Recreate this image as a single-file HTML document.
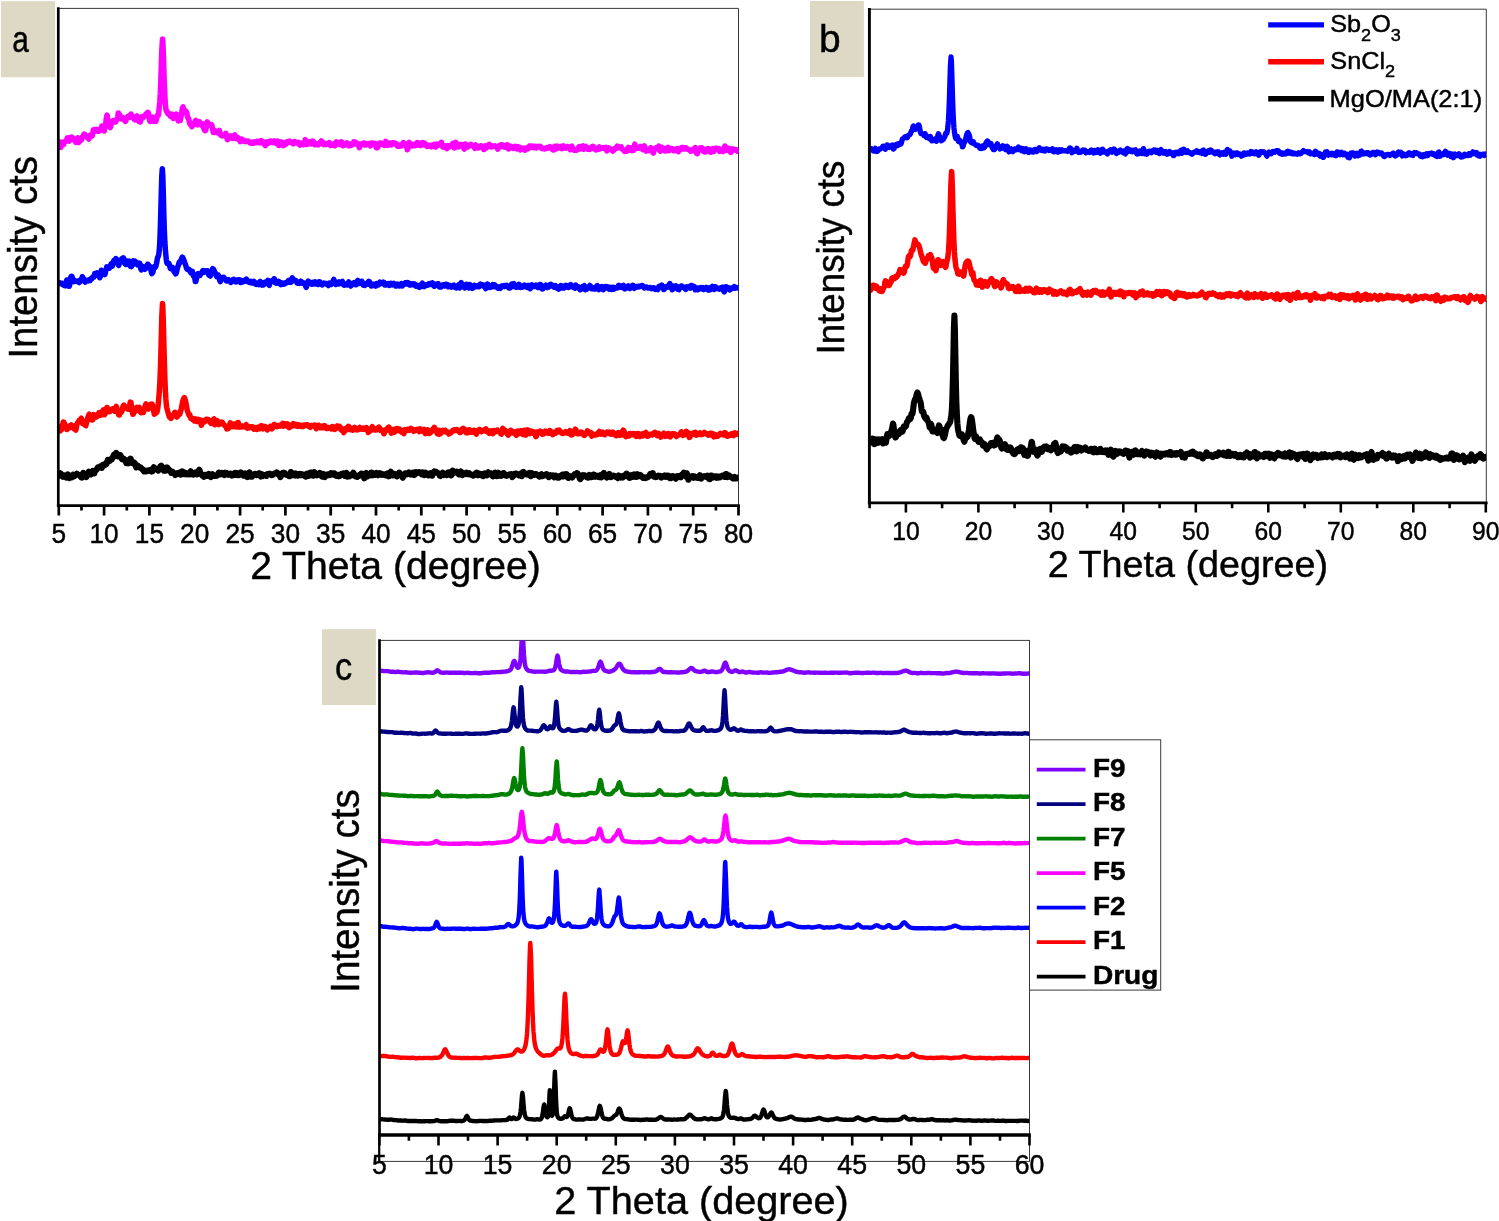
<!DOCTYPE html>
<html lang="en"><head><meta charset="utf-8"><title>XRD patterns</title>
<style>html,body{margin:0;padding:0;background:#fff;}body{width:1499px;height:1221px;overflow:hidden;font-family:"Liberation Sans", Arial, Helvetica, sans-serif;}svg{display:block;}text{stroke:#000;stroke-width:0.45px;}</style></head>
<body>
<svg width="1499" height="1221" viewBox="0 0 1499 1221" font-family="'Liberation Sans', Arial, Helvetica, sans-serif" fill="#000" ><defs><clipPath id="ca"><rect x="58.3" y="8.4" width="680.2" height="497.2"/></clipPath><clipPath id="cb"><rect x="869.4" y="9.2" width="616.9" height="493.6"/></clipPath><clipPath id="cc"><rect x="379.5" y="640.4" width="650.0" height="494.6"/></clipPath></defs>
<path d="M58.3 8.4 H738.5 V505.6" fill="none" stroke="#3a3a3a" stroke-width="1"/>
<polyline points="58.3,141.8 58.8,141.4 59.3,142.9 59.8,146.0 60.3,147.4 60.8,147.3 61.3,145.0 61.8,143.0 62.3,142.3 62.8,143.0 63.3,144.9 63.8,144.0 64.3,141.7 64.8,141.8 65.3,141.8 65.8,140.8 66.3,141.0 66.8,139.6 67.3,137.9 67.8,137.7 68.3,138.6 68.8,140.5 69.3,141.0 69.8,139.8 70.3,138.8 70.8,138.1 71.3,137.1 71.8,137.1 72.3,137.5 72.8,138.9 73.3,139.6 73.8,139.0 74.3,138.9 74.8,139.9 75.3,141.4 75.8,142.3 76.3,142.5 76.8,141.6 77.3,139.3 77.8,137.9 78.3,139.9 78.8,142.6 79.3,140.7 79.8,138.7 80.3,139.1 80.8,139.8 81.3,140.1 81.8,139.2 82.3,137.0 82.8,136.2 83.3,136.0 83.8,134.5 84.3,134.0 84.8,134.3 85.3,135.6 85.8,136.3 86.3,136.5 86.8,137.2 87.3,137.0 87.8,137.2 88.3,138.6 88.8,139.1 89.3,137.3 89.8,135.2 90.3,135.8 90.8,136.6 91.3,136.0 91.8,135.6 92.3,135.7 92.8,133.0 93.3,130.0 93.8,129.6 94.3,130.3 94.8,131.0 95.3,131.0 95.8,130.0 96.3,129.4 96.8,130.6 97.3,131.0 97.8,130.3 98.3,130.4 98.8,131.2 99.3,130.4 99.8,129.5 100.3,129.7 100.8,129.6 101.3,128.3 101.8,126.0 102.3,127.6 102.8,128.6 103.3,128.9 103.8,130.9 104.3,131.0 104.8,127.8 105.3,125.8 105.8,123.0 106.3,118.6 107.0,115.1 107.3,115.9 107.8,119.6 108.3,122.9 108.8,124.8 109.3,126.1 109.8,127.0 110.3,127.5 110.8,126.2 111.3,123.3 111.8,121.6 112.3,121.6 112.8,120.8 113.3,120.6 113.8,120.9 114.3,120.6 114.8,121.1 115.3,122.1 115.8,122.1 116.3,120.8 116.8,119.4 117.3,119.0 117.8,116.5 118.3,113.0 118.6,113.0 119.3,114.6 119.8,115.0 120.3,115.9 120.8,117.4 121.3,118.9 121.8,118.0 122.3,117.4 122.8,118.3 123.3,119.0 123.8,119.5 124.3,119.7 124.8,120.3 125.3,121.5 125.8,120.9 126.3,119.0 126.8,117.5 127.3,117.4 127.8,116.4 128.3,116.9 128.8,117.4 129.3,117.1 129.8,117.4 130.3,115.4 131.0,114.0 131.3,115.2 131.8,116.9 132.3,117.1 132.8,116.5 133.3,116.9 133.8,118.0 134.3,119.4 134.8,119.8 135.3,118.8 135.8,117.9 136.3,117.0 137.0,115.8 137.3,116.7 137.8,119.0 138.3,120.6 138.8,121.4 139.3,121.6 139.8,121.7 140.3,121.9 140.8,120.4 141.3,117.5 141.8,116.6 142.3,117.4 142.8,117.9 143.3,117.2 143.8,116.4 144.3,116.4 145.0,115.8 145.3,114.9 145.8,114.1 146.3,114.2 146.8,113.9 147.3,113.0 147.8,112.3 148.3,112.8 148.8,115.4 149.3,119.1 149.8,121.1 150.3,121.4 150.8,119.2 151.3,118.8 152.0,118.6 152.3,117.0 152.8,117.4 153.3,119.9 153.8,121.1 154.3,120.2 154.8,119.1 155.3,119.8 155.8,121.3 156.3,120.2 156.8,117.4 157.3,115.3 157.8,115.1 158.3,115.2 158.8,112.2 159.3,107.1 159.8,101.5 160.3,93.7 160.8,81.4 161.3,65.4 161.8,49.9 162.5,39.0 162.8,41.0 163.3,52.1 163.8,67.7 164.3,82.7 164.8,94.6 165.3,103.1 165.8,108.5 166.3,110.9 166.8,110.9 167.3,112.1 167.8,113.7 168.3,113.6 168.8,113.9 169.3,113.8 169.8,114.4 170.3,116.2 171.0,116.6 171.3,115.4 171.8,114.1 172.3,115.1 172.8,117.0 173.3,118.5 173.8,117.7 174.3,114.9 174.8,114.6 175.3,115.2 175.8,114.9 176.3,114.1 176.8,114.5 177.3,116.6 177.8,119.3 178.3,120.9 178.8,120.4 179.3,120.1 179.8,120.5 180.3,120.5 180.8,117.7 181.3,115.2 181.8,112.6 182.3,108.4 183.0,106.8 183.3,108.5 183.8,110.6 184.3,112.5 184.8,111.8 185.3,110.7 185.8,111.0 186.3,111.8 186.8,112.8 187.3,115.9 187.8,117.9 188.3,117.9 188.8,119.2 189.3,121.7 189.8,124.0 190.3,124.4 190.8,124.4 191.3,125.2 191.8,126.7 192.3,126.1 192.8,124.4 193.3,124.7 193.8,124.5 194.3,122.9 195.0,121.9 195.3,121.1 195.8,120.4 196.3,122.2 196.8,124.5 197.3,124.9 197.8,123.8 198.3,122.6 198.8,121.5 199.3,121.5 199.8,123.1 200.3,123.7 200.8,124.1 201.3,125.1 201.8,124.4 202.3,123.6 202.8,124.3 203.3,126.4 203.8,128.6 204.3,129.7 204.8,130.4 205.3,130.7 205.8,130.0 206.3,127.3 206.8,123.7 207.3,121.8 208.0,123.4 208.3,125.1 208.8,124.8 209.3,124.4 209.8,124.5 210.3,124.7 210.8,124.7 211.3,124.5 211.8,125.2 212.3,127.0 212.8,130.0 213.3,132.4 213.8,132.4 214.3,130.8 214.8,130.6 215.3,131.3 215.8,131.1 216.3,131.5 216.8,132.8 217.3,132.9 217.8,132.3 218.3,132.3 218.8,131.4 219.3,130.5 219.8,131.9 220.3,134.2 220.8,135.3 221.3,135.4 221.8,135.5 222.3,135.9 222.8,135.9 223.3,135.4 223.8,135.1 224.3,135.3 224.8,135.0 225.3,134.5 225.8,133.3 226.3,134.6 226.8,137.5 227.3,139.6 227.8,139.7 228.3,138.8 228.8,138.7 229.3,138.3 229.8,137.5 230.3,136.8 230.8,135.8 231.3,136.7 231.8,138.2 232.3,138.5 232.8,138.1 233.3,137.1 233.8,136.4 234.3,135.4 234.8,134.9 235.3,136.3 235.8,138.3 236.3,138.6 236.8,138.1 237.3,137.2 237.8,137.9 238.3,139.4 238.8,139.7 239.3,138.9 239.8,139.2 240.3,141.6 240.8,140.9 241.3,139.0 241.8,138.9 242.3,139.4 242.8,140.0 243.3,140.1 243.8,140.9 244.3,141.3 244.8,141.2 245.3,141.6 245.8,141.3 246.3,140.9 246.8,141.0 247.3,141.2 247.8,141.2 248.3,141.1 248.8,141.5 249.3,142.4 249.8,142.6 250.3,143.1 250.8,143.2 251.3,142.7 251.8,142.5 252.3,142.0 252.8,142.2 253.3,143.2 253.8,143.2 254.3,142.2 254.8,141.8 255.3,142.5 255.8,142.7 256.3,142.1 256.8,141.8 257.3,141.3 257.8,141.2 258.3,142.8 258.8,142.4 259.3,141.3 259.8,142.6 260.3,142.8 260.8,141.3 261.3,140.7 261.8,141.2 262.3,141.7 262.8,142.9 263.3,143.1 263.8,142.0 264.3,142.9 264.8,145.2 265.3,145.6 265.8,144.1 266.3,142.8 266.8,142.5 267.3,141.7 267.8,141.9 268.3,143.2 268.8,143.2 269.3,142.3 269.8,141.2 270.3,140.9 270.8,141.0 271.3,141.3 271.8,142.3 272.3,142.4 272.8,142.3 273.3,142.7 273.8,141.9 274.3,140.9 274.8,141.5 275.3,142.5 275.8,142.8 276.3,143.1 276.8,143.7 277.3,142.7 277.8,141.1 278.3,142.4 278.8,145.6 279.3,145.2 279.8,143.5 280.3,143.9 280.8,142.9 281.3,141.9 281.8,142.2 282.3,143.5 282.8,145.1 283.3,145.7 283.8,145.4 284.3,144.4 284.8,143.5 285.3,142.6 285.8,143.0 286.3,144.0 286.8,142.5 287.3,141.6 287.8,142.5 288.3,142.5 288.8,142.6 289.3,142.1 289.8,141.2 290.3,141.8 290.8,142.3 291.3,142.1 291.8,142.8 292.3,143.1 292.8,143.4 293.3,143.9 293.8,143.1 294.3,141.6 294.8,141.6 295.3,142.7 295.8,142.7 296.3,142.4 296.8,142.6 297.3,143.1 297.8,142.7 298.3,142.4 298.8,143.2 299.3,144.6 299.8,145.1 300.3,143.7 300.8,143.3 301.3,143.0 301.8,143.3 302.3,144.0 302.8,144.4 303.3,144.7 303.8,144.0 304.3,142.8 304.8,141.2 305.3,139.6 305.8,141.0 306.3,143.4 306.8,144.4 307.3,144.2 307.8,143.8 308.3,143.9 308.8,143.8 309.3,142.1 309.8,141.9 310.3,142.3 310.8,143.5 311.3,143.8 311.8,142.4 312.3,141.1 312.8,141.1 313.3,141.4 313.8,142.2 314.3,144.1 314.8,144.8 315.3,144.8 315.8,144.2 316.3,144.2 316.8,144.1 317.3,143.7 317.8,144.0 318.3,144.8 318.8,144.3 319.3,143.9 319.8,143.7 320.3,142.8 320.8,141.5 321.3,140.9 321.8,141.7 322.3,142.1 322.8,143.0 323.3,144.3 323.8,144.6 324.3,143.8 324.8,143.4 325.3,144.0 325.8,144.6 326.3,144.5 326.8,143.6 327.3,143.5 327.8,143.7 328.3,143.8 328.8,142.8 329.3,142.6 329.8,144.3 330.3,145.4 330.8,144.8 331.3,143.9 331.8,144.5 332.3,145.2 332.8,144.6 333.3,144.1 333.8,144.4 334.3,145.2 334.8,145.8 335.3,144.9 335.8,142.7 336.3,141.8 336.8,142.6 337.3,142.5 337.8,142.4 338.3,143.1 338.8,144.1 339.3,143.4 339.8,143.5 340.3,144.5 340.8,143.8 341.3,141.8 341.8,141.9 342.3,144.2 342.8,145.8 343.3,145.6 343.8,144.7 344.3,144.5 344.8,145.0 345.3,144.4 345.8,144.3 346.3,143.5 346.8,142.9 347.3,143.1 347.8,143.4 348.3,144.4 348.8,145.7 349.3,145.8 349.8,145.1 350.3,144.8 350.8,145.5 351.3,145.4 351.8,143.8 352.3,144.0 352.8,144.5 353.3,143.6 353.8,141.9 354.3,142.4 354.8,142.7 355.3,142.2 355.8,142.9 356.3,143.6 356.8,144.2 357.3,144.2 357.8,143.5 358.3,144.0 358.8,146.0 359.3,147.7 359.8,146.5 360.3,145.1 360.8,145.3 361.3,144.6 361.8,143.7 362.3,143.8 362.8,144.3 363.3,143.7 363.8,142.8 364.3,143.9 364.8,145.0 365.3,144.9 365.8,145.0 366.3,144.2 366.8,143.7 367.3,144.3 367.8,143.7 368.3,143.6 368.8,144.4 369.3,144.9 369.8,145.5 370.3,145.8 370.8,144.4 371.3,143.0 371.8,143.1 372.3,143.2 372.8,143.1 373.3,143.5 373.8,144.7 374.3,145.0 374.8,143.3 375.3,143.5 375.8,146.0 376.3,147.8 376.8,147.9 377.3,147.5 377.8,147.1 378.3,146.2 378.8,144.9 379.3,143.8 379.8,142.9 380.3,142.9 380.8,143.4 381.3,143.4 381.8,143.0 382.3,143.3 382.8,144.5 383.3,144.8 383.8,145.2 384.3,145.1 384.8,145.4 385.3,143.8 385.8,141.4 386.3,141.9 386.8,143.6 387.3,145.3 387.8,145.4 388.3,144.9 388.8,144.4 389.3,144.0 389.8,143.8 390.3,143.1 390.8,143.8 391.3,144.9 391.8,143.7 392.3,142.8 392.8,144.0 393.3,143.9 393.8,142.9 394.3,143.4 394.8,143.6 395.3,143.2 395.8,143.6 396.3,143.6 396.8,144.7 397.3,145.9 397.8,146.3 398.3,146.3 398.8,146.2 399.3,145.7 399.8,145.3 400.3,145.4 400.8,145.8 401.3,146.1 401.8,145.5 402.3,144.4 402.8,143.2 403.3,142.7 403.8,144.0 404.3,144.4 404.8,143.5 405.3,144.4 405.8,144.7 406.3,144.9 406.8,147.2 407.3,149.7 407.8,148.8 408.3,146.2 408.8,143.9 409.3,142.3 409.8,144.0 410.3,144.9 410.8,143.9 411.3,144.8 411.8,145.9 412.3,145.2 412.8,144.3 413.3,145.5 413.8,145.7 414.3,144.8 414.8,144.3 415.3,144.9 415.8,145.5 416.3,144.2 416.8,142.6 417.3,142.5 417.8,142.9 418.3,144.6 418.8,145.0 419.3,143.7 419.8,143.7 420.3,144.9 420.8,145.5 421.3,144.6 421.8,142.7 422.3,142.6 422.8,144.2 423.3,144.7 423.8,143.4 424.3,143.0 424.8,143.4 425.3,144.1 425.8,144.7 426.3,145.4 426.8,146.2 427.3,146.4 427.8,145.7 428.3,145.3 428.8,145.4 429.3,145.2 429.8,145.4 430.3,145.5 430.8,145.4 431.3,146.8 431.8,146.7 432.3,145.3 432.8,145.4 433.3,145.3 433.8,144.7 434.3,144.2 434.8,144.2 435.3,146.1 435.8,147.1 436.3,145.8 436.8,144.3 437.3,144.1 437.8,144.9 438.3,145.1 438.8,144.6 439.3,144.5 439.8,144.2 440.3,144.0 440.8,143.0 441.3,142.3 441.8,143.9 442.3,146.2 442.8,147.0 443.3,147.2 443.8,146.9 444.3,146.3 444.8,145.9 445.3,146.4 445.8,146.5 446.3,147.8 446.8,148.6 447.3,147.1 447.8,145.6 448.3,145.7 448.8,146.1 449.3,147.0 449.8,146.8 450.3,145.9 450.8,145.3 451.3,145.3 451.8,145.4 452.3,144.7 452.8,143.3 453.3,143.8 453.8,146.7 454.3,147.9 454.8,146.9 455.3,144.8 455.8,142.4 456.3,142.8 456.8,144.2 457.3,144.3 457.8,145.3 458.3,146.8 458.8,146.6 459.3,145.8 459.8,145.4 460.3,144.9 460.8,144.6 461.3,144.4 461.8,144.5 462.3,145.6 462.8,147.0 463.3,147.4 463.8,148.5 464.3,149.0 464.8,146.8 465.3,144.0 465.8,144.4 466.3,146.2 466.8,146.5 467.3,146.3 467.8,147.0 468.3,146.3 468.8,146.1 469.3,145.8 469.8,145.2 470.3,144.6 470.8,144.3 471.3,144.8 471.8,145.6 472.3,145.5 472.8,145.6 473.3,146.1 473.8,147.0 474.3,147.6 474.8,148.4 475.3,146.9 475.8,144.9 476.3,145.7 476.8,146.9 477.3,147.3 477.8,147.6 478.3,148.0 478.8,147.8 479.3,147.3 479.8,146.5 480.3,145.9 480.8,145.8 481.3,145.9 481.8,146.1 482.3,146.2 482.8,146.5 483.3,148.1 483.8,149.5 484.3,149.1 484.8,147.0 485.3,145.8 485.8,147.0 486.3,148.0 486.8,147.5 487.3,146.4 487.8,146.2 488.3,146.0 488.8,144.7 489.3,144.3 489.8,144.9 490.3,145.8 490.8,146.7 491.3,147.0 491.8,146.3 492.3,145.9 492.8,146.2 493.3,146.3 493.8,146.3 494.3,146.2 494.8,145.8 495.3,146.4 495.8,147.0 496.3,146.9 496.8,147.3 497.3,148.2 497.8,149.1 498.3,147.6 498.8,145.6 499.3,145.5 499.8,146.2 500.3,146.6 500.8,145.5 501.3,144.8 501.8,145.2 502.3,144.9 502.8,145.1 503.3,146.2 503.8,146.9 504.3,146.5 504.8,146.4 505.3,147.1 505.8,146.9 506.3,146.2 506.8,145.1 507.3,144.9 507.8,146.8 508.3,149.0 508.8,149.0 509.3,146.9 509.8,146.1 510.3,147.1 510.8,147.1 511.3,146.4 511.8,146.7 512.3,147.5 512.8,148.2 513.3,148.4 513.8,148.3 514.3,147.7 514.8,147.2 515.3,146.4 515.8,146.9 516.3,148.6 516.8,148.9 517.3,147.2 517.8,146.6 518.3,147.4 518.8,147.1 519.3,147.1 519.8,148.4 520.3,149.8 520.8,149.6 521.3,149.4 521.8,148.7 522.3,148.1 522.8,148.8 523.3,148.9 523.8,148.4 524.3,148.9 524.8,150.1 525.3,149.8 525.8,149.1 526.3,148.5 526.8,147.8 527.3,147.5 527.8,148.4 528.3,148.6 528.8,147.9 529.3,146.9 529.8,146.0 530.3,147.1 530.8,147.2 531.3,146.4 531.8,146.0 532.3,146.0 532.8,146.9 533.3,147.5 533.8,147.3 534.3,147.4 534.8,147.0 535.3,146.4 535.8,147.0 536.3,148.0 536.8,147.5 537.3,146.5 537.8,146.9 538.3,146.8 538.8,146.4 539.3,146.8 539.8,147.2 540.3,146.4 540.8,146.8 541.3,148.2 541.8,147.9 542.3,148.1 542.8,148.7 543.3,148.7 543.8,148.8 544.3,148.7 544.8,148.9 545.3,148.8 545.8,148.4 546.3,147.7 546.8,147.5 547.3,147.7 547.8,148.0 548.3,148.2 548.8,147.9 549.3,147.0 549.8,146.6 550.3,147.2 550.8,147.7 551.3,147.8 551.8,148.4 552.3,149.4 552.8,149.9 553.3,149.9 553.8,149.9 554.3,148.4 554.8,146.2 555.3,146.4 555.8,148.1 556.3,148.8 556.8,147.3 557.3,146.1 557.8,146.8 558.3,147.5 558.8,147.7 559.3,147.9 559.8,147.5 560.3,146.9 560.8,146.5 561.3,147.3 561.8,148.7 562.3,148.0 562.8,146.1 563.3,145.9 563.8,147.3 564.3,147.5 564.8,147.3 565.3,147.5 565.8,148.2 566.3,148.0 566.8,146.9 567.3,146.6 567.8,146.6 568.3,146.9 568.8,147.4 569.3,147.9 569.8,148.9 570.3,149.7 570.8,148.3 571.3,146.6 571.8,146.2 572.3,147.5 572.8,148.6 573.3,148.7 573.8,149.5 574.3,150.3 574.8,150.0 575.3,149.7 575.8,150.0 576.3,150.3 576.8,150.0 577.3,149.8 577.8,149.3 578.3,148.2 578.8,146.9 579.3,146.6 579.8,147.8 580.3,149.0 580.8,148.1 581.3,147.5 581.8,147.4 582.3,146.2 582.8,145.9 583.3,147.9 583.8,149.2 584.3,148.0 584.8,147.0 585.3,146.8 585.8,146.4 586.3,147.0 586.8,147.2 587.3,148.2 587.8,149.2 588.3,148.6 588.8,148.3 589.3,149.0 589.8,149.3 590.3,148.4 590.8,148.3 591.3,147.7 591.8,146.8 592.3,146.5 592.8,146.3 593.3,146.6 593.8,147.9 594.3,149.1 594.8,149.0 595.3,149.5 595.8,149.8 596.3,149.1 596.8,148.3 597.3,148.3 597.8,149.2 598.3,149.3 598.8,147.9 599.3,147.0 599.8,148.1 600.3,148.8 600.8,148.3 601.3,148.1 601.8,148.2 602.3,147.8 602.8,147.5 603.3,148.0 603.8,148.4 604.3,148.7 604.8,148.7 605.3,147.6 605.8,147.4 606.3,149.4 606.8,150.8 607.3,149.9 607.8,149.8 608.3,149.1 608.8,147.9 609.3,148.7 609.8,149.5 610.3,149.4 610.8,149.0 611.3,149.5 611.8,149.8 612.3,150.6 612.8,151.1 613.3,150.3 613.8,150.1 614.3,149.8 614.8,148.4 615.3,148.5 615.8,148.6 616.3,148.6 616.8,146.8 617.3,146.1 617.8,147.5 618.3,147.8 618.8,147.8 619.3,147.4 619.8,147.1 620.3,147.5 620.8,147.3 621.3,147.0 621.8,148.2 622.3,149.2 622.8,149.5 623.3,149.7 623.8,150.6 624.3,151.2 624.8,151.4 625.3,151.2 625.8,150.6 626.3,150.5 626.8,151.2 627.3,150.0 627.8,148.1 628.3,147.5 628.8,148.7 629.3,150.0 629.8,149.2 630.3,147.8 630.8,148.7 631.3,150.4 631.8,150.4 632.3,149.2 632.8,149.3 633.3,150.4 633.8,149.5 634.3,146.3 634.8,144.1 635.3,145.9 635.8,148.0 636.3,148.3 636.8,148.5 637.3,148.4 637.8,148.0 638.3,147.9 638.8,148.2 639.3,148.1 639.8,147.3 640.3,146.4 640.8,146.8 641.3,147.8 641.8,147.3 642.3,147.9 642.8,149.8 643.3,149.2 643.8,146.7 644.3,145.9 644.8,146.8 645.3,148.7 645.8,150.6 646.3,151.1 646.8,150.8 647.3,150.6 647.8,150.7 648.3,150.5 648.8,149.9 649.3,150.6 649.8,150.5 650.3,148.7 650.8,147.7 651.3,149.4 651.8,150.9 652.3,151.0 652.8,152.1 653.3,153.1 653.8,151.7 654.3,150.1 654.8,149.7 655.3,148.6 655.8,147.9 656.3,147.6 656.8,147.8 657.3,148.4 657.8,148.8 658.3,147.6 658.8,146.2 659.3,147.5 659.8,150.5 660.3,151.2 660.8,150.5 661.3,149.0 661.8,147.2 662.3,147.6 662.8,148.3 663.3,148.8 663.8,150.0 664.3,150.7 664.8,150.9 665.3,149.7 665.8,148.4 666.3,148.1 666.8,149.2 667.3,150.7 667.8,148.7 668.3,147.3 668.8,148.7 669.3,150.5 669.8,150.1 670.3,149.3 670.8,149.0 671.3,149.2 671.8,148.5 672.3,148.6 672.8,149.7 673.3,150.3 673.8,150.8 674.3,150.5 674.8,150.3 675.3,150.1 675.8,149.6 676.3,149.0 676.8,148.7 677.3,149.9 677.8,151.3 678.3,151.7 678.8,150.2 679.3,148.7 679.8,148.9 680.3,149.8 680.8,149.5 681.3,148.6 681.8,147.5 682.3,147.4 682.8,147.5 683.3,147.6 683.8,148.4 684.3,149.1 684.8,149.0 685.3,147.8 685.8,147.7 686.3,148.6 686.8,148.9 687.3,148.7 687.8,149.2 688.3,149.6 688.8,149.7 689.3,149.7 689.8,150.0 690.3,150.7 690.8,151.2 691.3,151.0 691.8,150.9 692.3,150.8 692.8,150.5 693.3,149.2 693.8,149.3 694.3,149.5 694.8,147.8 695.3,147.6 695.8,150.3 696.3,152.5 696.8,153.6 697.3,153.7 697.8,151.9 698.3,149.9 698.8,149.5 699.3,149.5 699.8,148.4 700.3,147.9 700.8,148.1 701.3,148.1 701.8,147.9 702.3,148.8 702.8,150.6 703.3,151.4 703.8,151.3 704.3,151.6 704.8,152.1 705.3,152.1 705.8,150.5 706.3,149.1 706.8,149.4 707.3,149.2 707.8,148.9 708.3,148.5 708.8,148.7 709.3,149.6 709.8,150.4 710.3,152.1 710.8,152.2 711.3,150.6 711.8,150.1 712.3,149.4 712.8,148.6 713.3,150.1 713.8,151.4 714.3,151.0 714.8,149.5 715.3,148.3 715.8,148.0 716.3,148.5 716.8,148.7 717.3,148.4 717.8,148.6 718.3,148.4 718.8,148.4 719.3,150.1 719.8,151.5 720.3,151.3 720.8,150.6 721.3,150.2 721.8,149.9 722.3,150.0 722.8,150.9 723.3,151.5 723.8,150.3 724.3,147.2 724.8,146.1 725.3,146.7 725.8,148.0 726.3,149.8 726.8,150.4 727.3,149.8 727.8,149.0 728.3,148.6 728.8,148.2 729.3,148.5 729.8,150.3 730.3,152.1 730.8,152.4 731.3,151.9 731.8,150.2 732.3,148.8 732.8,148.9 733.3,149.0 733.8,149.2 734.3,149.9 734.8,149.8 735.3,149.6 735.8,149.8 736.3,149.7 736.8,150.4 737.3,151.3 737.8,151.3 738.3,151.0 738.5,150.5" fill="none" stroke="#FF00FF" stroke-width="5.5" stroke-linejoin="round" stroke-linecap="butt" clip-path="url(#ca)"/>
<polyline points="58.3,282.7 58.8,282.6 59.3,282.6 59.8,282.9 60.3,283.8 60.8,283.7 61.3,283.7 61.8,283.3 62.3,283.4 62.8,284.4 63.3,283.6 63.8,284.4 64.3,285.6 64.8,285.6 65.3,285.8 65.8,284.6 66.3,282.4 66.8,280.0 67.3,280.5 67.8,283.6 68.3,285.6 68.8,286.3 69.3,286.3 69.8,284.3 70.3,280.4 70.8,277.2 71.3,276.2 71.8,276.2 72.3,277.3 72.8,279.5 73.3,281.1 73.8,281.6 74.3,281.3 74.8,280.7 75.3,280.8 75.8,281.2 76.3,281.0 76.8,281.3 77.3,281.7 77.8,281.2 78.3,280.9 78.8,281.7 79.3,282.5 79.8,281.6 80.3,280.1 80.8,279.5 81.3,280.3 81.8,279.6 82.3,276.7 82.8,277.4 83.3,279.1 83.8,279.4 84.3,279.7 84.8,281.8 85.3,282.1 85.8,281.1 86.3,280.5 86.8,280.2 87.3,280.5 87.8,280.8 88.3,280.9 88.8,280.2 89.3,279.7 89.8,280.3 90.3,280.4 90.8,279.3 91.3,278.4 91.8,278.8 92.3,277.7 92.8,276.8 93.3,277.1 93.8,277.1 94.3,275.5 94.8,273.5 95.3,274.5 95.8,274.9 96.3,273.2 96.8,272.8 97.3,273.5 97.8,274.3 98.3,274.8 98.8,275.5 99.3,276.9 99.8,277.7 100.3,276.4 100.8,272.4 101.3,270.3 101.8,271.7 102.3,273.2 102.8,274.2 103.3,273.9 103.8,273.3 104.3,273.9 104.8,274.6 105.3,272.9 105.8,270.4 106.3,268.7 106.8,266.8 107.3,267.0 107.8,268.1 108.3,267.7 108.8,267.7 109.3,268.2 109.8,267.5 110.3,266.1 110.8,264.5 111.3,263.6 111.8,264.9 112.3,266.2 112.8,264.2 113.3,262.1 113.8,260.6 114.3,260.9 114.8,261.0 115.3,259.9 115.8,258.6 116.3,259.0 116.8,260.6 117.3,260.5 117.8,261.8 118.3,264.9 118.8,265.5 119.3,263.2 119.8,261.1 120.3,260.3 120.8,260.4 121.3,259.6 121.8,258.8 122.3,259.3 122.8,259.3 123.3,257.9 123.8,258.3 124.3,261.1 124.8,263.6 125.3,264.1 125.8,264.6 126.3,264.6 126.8,262.0 127.3,261.0 127.8,262.3 128.3,262.9 128.8,261.7 129.3,261.1 129.8,264.0 130.3,266.2 130.8,266.3 131.3,266.6 131.8,266.2 132.3,264.1 132.8,261.7 133.3,260.9 133.8,261.7 134.3,261.6 134.8,261.0 135.3,261.2 135.8,262.6 136.3,263.9 136.8,263.7 137.3,263.6 137.8,264.9 138.3,264.4 138.8,263.0 139.3,263.5 139.8,263.4 140.3,265.3 140.8,268.8 141.3,269.9 141.8,268.7 142.3,267.9 142.8,267.4 143.3,266.6 143.8,267.6 144.3,268.7 144.8,269.3 145.3,268.7 145.8,268.0 146.3,268.1 146.8,267.1 147.3,265.1 147.8,264.1 148.3,264.6 148.8,266.3 149.3,267.6 149.8,267.3 150.3,267.0 150.8,269.0 151.3,272.0 151.8,273.6 152.3,273.2 152.8,272.5 153.3,270.2 153.8,267.3 154.3,266.7 154.8,267.3 155.3,267.3 155.8,266.2 156.3,264.4 156.8,262.1 157.3,258.9 157.8,257.0 158.3,256.3 158.8,254.3 159.3,249.8 159.8,241.6 160.3,229.0 160.8,211.6 161.3,192.2 161.8,175.6 162.3,168.7 162.8,176.0 163.3,193.6 163.8,213.2 164.3,229.6 164.8,241.3 165.3,248.8 165.8,254.5 166.3,259.3 166.8,262.6 167.3,263.6 167.8,263.5 168.3,263.3 168.8,263.2 169.3,264.5 169.8,266.3 170.3,268.5 170.8,268.7 171.3,267.7 171.8,267.1 172.3,267.3 172.8,268.4 173.3,269.1 173.8,270.6 174.3,272.1 174.8,272.2 175.3,272.9 175.8,273.9 176.3,272.7 176.8,270.8 177.3,268.4 177.8,266.6 178.3,265.7 178.8,263.6 179.3,262.2 179.8,262.8 180.3,262.0 180.8,260.4 181.3,259.4 181.8,258.0 182.3,257.1 182.6,257.3 183.3,258.7 183.8,260.0 184.3,261.3 184.8,262.8 185.3,264.2 185.8,265.6 186.3,267.4 186.8,268.8 187.3,269.3 187.8,268.8 188.3,269.3 188.8,269.3 189.3,269.6 189.8,270.8 190.3,271.9 190.8,272.7 191.3,273.1 191.8,272.3 192.3,271.3 192.8,273.2 193.3,275.8 193.8,275.2 194.3,274.7 194.8,278.1 195.3,281.5 195.8,281.5 196.3,279.4 196.8,277.4 197.3,275.7 197.8,273.7 198.3,273.5 198.8,274.9 199.3,275.5 199.8,275.6 200.3,274.4 200.8,273.7 201.3,273.5 201.8,273.2 202.3,271.8 202.8,270.6 203.3,270.6 203.8,271.7 204.3,272.1 204.8,271.2 205.3,271.1 205.8,270.8 206.3,270.9 206.8,272.2 207.3,272.2 207.8,270.9 208.3,273.0 208.8,275.1 209.3,275.1 209.8,275.7 210.3,276.0 210.8,274.5 211.3,272.7 211.8,271.3 212.3,269.7 212.7,268.7 213.3,269.2 213.8,269.9 214.3,271.4 214.8,272.6 215.3,273.0 215.8,273.8 216.3,275.7 216.8,276.6 217.3,276.2 217.8,275.2 218.3,275.1 218.8,275.9 219.3,277.8 219.8,280.6 220.3,281.6 220.8,280.1 221.3,278.8 221.8,277.9 222.3,277.7 222.8,278.0 223.3,277.3 223.8,277.2 224.3,278.3 224.8,279.0 225.3,279.5 225.8,280.2 226.3,280.9 226.8,281.0 227.3,280.6 227.8,279.8 228.3,279.5 228.8,279.9 229.3,280.3 229.8,280.8 230.3,281.7 230.8,282.4 231.3,281.4 231.8,280.9 232.3,281.1 232.8,280.9 233.3,279.4 233.8,279.3 234.3,281.0 234.8,281.6 235.3,280.9 235.8,280.8 236.3,281.8 236.8,281.5 237.3,280.3 237.8,279.8 238.3,280.5 238.8,281.4 239.3,280.7 239.8,279.9 240.3,280.9 240.8,282.6 241.3,282.6 241.8,281.3 242.3,280.6 242.8,281.2 243.3,281.8 243.8,281.6 244.3,281.2 244.8,281.1 245.3,280.4 245.8,279.4 246.3,279.1 246.8,279.7 247.3,280.7 247.8,281.8 248.3,282.0 248.8,282.0 249.3,282.4 249.8,282.1 250.3,282.0 250.8,281.4 251.3,281.9 251.8,283.1 252.3,283.1 252.8,282.0 253.3,281.6 253.8,281.4 254.3,282.1 254.8,282.8 255.3,283.3 255.8,284.3 256.3,284.4 256.8,283.8 257.3,283.1 257.8,283.3 258.3,284.1 258.8,284.6 259.3,284.0 259.8,282.5 260.3,281.4 260.8,282.2 261.3,284.5 261.8,285.1 262.3,284.5 262.8,284.2 263.3,284.9 263.8,284.5 264.3,283.4 264.8,282.3 265.3,282.1 265.8,283.3 266.3,283.5 266.8,282.5 267.3,281.0 267.8,280.4 268.3,281.9 268.8,284.5 269.3,285.3 269.8,283.5 270.3,281.9 270.8,280.9 271.3,281.0 271.8,281.5 272.3,281.0 272.8,280.8 273.3,280.4 274.0,278.7 274.3,278.8 274.8,281.3 275.3,282.8 275.8,283.0 276.3,283.2 276.8,283.1 277.3,282.6 277.8,281.6 278.3,281.3 278.8,281.4 279.3,282.4 279.8,283.4 280.3,284.1 280.8,284.6 281.3,283.6 281.8,282.8 282.3,283.4 282.8,284.0 283.3,284.2 283.8,284.1 284.3,284.1 284.8,283.7 285.3,282.9 285.8,283.1 286.3,282.9 286.8,282.5 287.3,282.5 287.8,282.4 288.3,280.7 288.8,280.4 289.3,281.7 289.8,282.2 290.3,281.7 290.8,282.3 291.3,282.0 291.8,279.4 292.3,277.9 292.8,279.1 293.3,279.5 294.0,279.7 294.3,280.6 294.8,280.7 295.3,280.3 295.8,280.6 296.3,281.2 296.8,282.4 297.3,283.1 297.8,283.2 298.3,282.8 298.8,283.1 299.3,283.4 299.8,283.3 300.3,282.1 300.8,281.1 301.3,281.8 301.8,282.3 302.3,283.2 302.8,283.2 303.3,282.7 303.8,283.0 304.3,283.7 304.8,283.6 305.3,284.8 305.8,286.6 306.3,287.3 306.8,285.7 307.3,283.3 307.8,281.7 308.3,281.1 308.8,281.7 309.3,283.3 309.8,283.1 310.3,282.4 310.8,283.2 311.3,283.9 311.8,284.2 312.3,283.4 312.8,282.4 313.3,283.0 313.8,283.8 314.3,283.5 314.8,282.6 315.3,281.8 315.8,282.3 316.3,283.5 316.8,284.0 317.3,283.4 317.8,283.9 318.3,284.5 318.8,283.0 319.3,281.8 319.8,281.7 320.3,282.7 320.8,284.0 321.3,284.5 321.8,284.7 322.3,284.9 322.8,284.4 323.3,283.8 323.8,283.2 324.3,283.6 324.8,283.7 325.3,283.8 325.8,283.4 326.3,283.8 326.8,284.4 327.3,284.5 327.8,284.8 328.3,285.5 328.8,284.5 329.3,283.0 329.8,283.3 330.3,284.1 330.8,284.1 331.3,284.4 331.8,282.9 332.3,281.8 332.8,282.3 333.3,280.8 333.8,279.4 334.3,280.9 334.8,282.2 335.3,283.5 335.8,284.5 336.3,284.4 336.8,283.0 337.3,282.6 337.8,284.0 338.3,284.1 338.8,283.0 339.3,281.9 339.8,282.3 340.3,283.3 340.8,283.5 341.3,283.0 341.8,281.8 342.3,281.5 342.8,282.8 343.3,284.0 343.8,285.1 344.3,285.2 344.8,284.0 345.3,283.9 345.8,284.9 346.3,284.6 346.8,284.0 347.3,284.8 347.8,284.2 348.3,282.8 348.8,282.0 349.3,282.8 349.8,284.2 350.3,285.2 350.8,286.0 351.3,285.3 351.8,283.8 352.3,283.5 352.8,283.5 353.3,283.1 353.8,282.7 354.3,282.5 354.8,282.8 355.3,283.8 355.8,284.8 356.3,284.8 356.8,283.2 357.3,281.3 357.8,280.4 358.3,282.1 358.8,283.4 359.3,283.4 359.8,283.2 360.3,282.6 360.8,282.0 361.3,281.4 361.8,281.3 362.3,282.2 362.8,284.4 363.3,285.1 363.8,284.5 364.3,284.7 364.8,285.4 365.3,284.7 365.8,283.6 366.3,283.7 366.8,284.3 367.3,284.3 367.8,283.5 368.3,281.9 368.8,281.3 369.3,281.6 369.8,282.9 370.3,283.2 370.8,283.9 371.3,286.0 371.8,285.9 372.3,284.6 372.8,284.3 373.3,284.3 373.8,285.0 374.3,285.0 374.8,284.3 375.3,285.1 375.8,286.1 376.3,285.1 376.8,283.6 377.3,284.2 377.8,285.0 378.3,285.1 378.8,284.6 379.3,282.8 379.8,282.2 380.3,283.7 380.8,283.6 381.3,283.1 381.8,283.0 382.3,283.3 382.8,282.5 383.3,282.1 384.0,282.5 384.3,284.0 384.8,285.1 385.3,285.1 385.8,285.0 386.3,284.6 386.8,284.1 387.3,283.8 387.8,283.8 388.3,283.6 388.8,284.8 389.3,285.4 389.8,285.4 390.3,284.9 390.8,283.3 391.3,283.4 391.8,284.6 392.3,284.9 392.8,284.8 393.3,283.9 393.8,283.4 394.3,284.3 394.8,284.9 395.3,285.4 395.8,286.1 396.3,286.0 396.8,284.3 397.3,284.1 397.8,284.9 398.3,284.5 398.8,284.9 399.3,286.0 399.8,286.0 400.3,285.5 400.8,284.3 401.3,283.7 401.8,285.0 402.3,285.8 402.8,285.0 403.3,284.2 403.8,284.4 404.3,284.5 404.8,283.6 405.3,282.8 405.8,282.7 406.3,283.0 406.8,282.7 407.3,283.5 407.8,284.0 408.3,282.7 408.8,283.1 409.3,284.7 409.8,285.1 410.3,285.0 410.8,283.7 411.3,283.8 411.8,284.6 412.3,284.0 412.8,283.9 413.3,284.5 413.8,284.7 414.3,283.9 414.8,284.4 415.3,285.7 415.8,286.1 416.3,285.6 416.8,285.2 417.3,285.3 417.8,286.4 418.3,286.6 418.8,286.9 419.3,287.3 419.8,286.5 420.3,286.1 420.8,286.7 421.3,286.1 421.8,283.8 422.3,283.2 422.8,284.5 423.3,285.1 423.8,285.9 424.3,286.6 424.8,285.7 425.3,285.3 425.8,285.5 426.3,284.8 426.8,284.7 427.3,285.0 427.8,285.2 428.3,284.8 428.8,283.8 429.3,283.7 429.8,283.6 430.3,283.7 430.8,284.4 431.3,284.0 431.8,283.0 432.3,282.8 432.8,283.4 433.3,284.2 433.8,285.7 434.3,286.2 434.8,285.1 435.3,284.3 435.8,284.7 436.3,285.2 436.8,284.9 437.3,284.8 437.8,283.8 438.3,283.7 438.8,286.1 439.3,286.9 439.8,286.0 440.3,285.9 440.8,286.5 441.3,286.8 441.8,285.8 442.3,285.2 442.8,284.8 443.3,284.8 443.8,285.6 444.3,285.8 444.8,286.0 445.3,285.9 445.8,284.4 446.3,284.7 446.8,284.4 447.3,284.4 447.8,285.8 448.3,286.8 448.8,286.4 449.3,285.5 449.8,286.0 450.3,285.6 450.8,286.1 451.3,287.0 451.8,286.5 452.3,286.3 452.8,286.4 453.3,285.5 453.8,285.1 454.3,286.5 454.8,287.3 455.3,287.0 455.8,287.0 456.3,287.6 456.8,288.0 457.3,287.7 457.8,286.1 458.3,285.0 458.8,286.3 459.3,287.5 459.8,287.8 460.3,286.7 460.8,283.6 461.3,282.6 461.8,285.0 462.3,286.2 462.8,285.3 463.3,285.2 463.8,286.6 464.3,287.2 464.8,287.9 465.3,287.6 465.8,286.0 466.3,284.3 466.8,284.8 467.3,284.7 467.8,284.5 468.3,286.3 468.8,287.9 469.3,285.9 469.8,284.6 470.3,285.6 470.8,285.6 471.3,286.5 471.8,288.2 472.3,288.5 472.8,288.2 473.3,287.8 473.8,286.4 474.3,285.3 474.8,285.4 475.3,285.7 475.8,285.9 476.3,286.2 476.8,286.7 477.3,286.6 477.8,285.6 478.3,285.5 478.8,286.4 479.3,286.7 479.8,285.0 480.3,284.0 480.8,284.8 481.3,284.6 481.8,284.6 482.3,285.3 482.8,285.4 483.3,285.1 483.8,286.2 484.3,286.7 484.8,287.1 485.3,287.7 485.8,288.6 486.3,287.2 486.8,285.3 487.3,284.0 487.8,284.1 488.3,285.8 488.8,285.8 489.3,286.4 489.8,287.5 490.3,287.4 490.8,286.5 491.3,286.2 491.8,286.6 492.3,285.8 492.8,284.5 493.3,285.0 493.8,286.6 494.3,286.3 494.8,284.8 495.3,285.5 495.8,286.6 496.3,287.1 496.8,286.6 497.3,286.6 497.8,287.6 498.3,288.3 498.8,288.1 499.3,287.5 499.8,287.9 500.3,288.3 500.8,287.0 501.3,286.0 501.8,286.0 502.3,286.0 502.8,286.2 503.3,285.7 503.8,286.0 504.3,286.5 504.8,285.6 505.3,285.6 505.8,286.2 506.3,285.9 506.8,285.5 507.3,286.5 507.8,286.9 508.3,287.2 508.8,287.9 509.3,288.1 509.8,288.0 510.3,287.9 510.8,286.7 511.3,284.8 511.8,284.0 512.3,284.1 512.8,284.3 513.3,284.0 513.8,283.7 514.3,285.3 514.8,286.9 515.3,287.0 515.8,286.1 516.3,286.2 516.8,287.3 517.3,286.4 517.8,285.6 518.3,285.3 518.8,284.3 519.3,284.6 519.8,286.3 520.3,287.4 520.8,287.1 521.3,287.1 521.8,287.2 522.3,286.6 522.8,286.3 523.3,286.9 523.8,286.2 524.3,285.0 524.8,285.3 525.3,286.5 525.8,286.4 526.3,286.2 526.8,287.2 527.3,287.4 527.8,286.2 528.3,285.3 528.8,286.0 529.3,286.6 529.8,287.4 530.3,288.7 530.8,287.2 531.3,285.0 531.8,284.8 532.3,286.2 532.8,286.2 533.3,285.7 533.8,285.7 534.3,286.5 534.8,286.4 535.3,285.4 535.8,285.1 536.3,285.3 536.8,286.4 537.3,287.1 537.8,287.6 538.3,287.6 538.8,286.5 539.3,284.8 539.8,284.4 540.3,284.5 540.8,284.6 541.3,286.0 541.8,287.9 542.3,288.9 542.8,288.9 543.3,288.2 543.8,287.3 544.3,286.4 544.8,285.9 545.3,285.6 545.8,285.1 546.3,285.3 546.8,286.8 547.3,287.5 547.8,286.2 548.3,285.9 548.8,287.0 549.3,286.2 549.8,284.9 550.3,284.5 550.8,284.3 551.3,285.4 551.8,285.5 552.3,285.1 552.8,285.8 553.3,286.5 553.8,287.0 554.3,286.4 554.8,285.8 555.3,285.6 555.8,286.4 556.3,287.5 556.8,288.0 557.3,287.5 557.8,287.2 558.3,288.8 558.8,289.1 559.3,287.7 559.8,287.2 560.3,286.7 560.8,285.6 561.3,286.2 561.8,287.5 562.3,287.8 562.8,287.0 563.3,286.4 563.8,287.4 564.3,288.0 564.8,287.1 565.3,285.8 565.8,285.3 566.3,286.0 566.8,286.3 567.3,285.8 567.8,286.3 568.3,287.5 568.8,287.4 569.3,286.0 569.8,285.0 570.3,285.1 570.8,284.6 571.3,285.2 571.8,286.8 572.3,286.8 572.8,285.8 573.3,286.1 573.8,286.9 574.3,287.8 574.8,288.2 575.3,286.7 575.8,285.2 576.3,286.1 576.8,286.8 577.3,286.9 577.8,286.9 578.3,286.7 578.8,287.1 579.3,288.4 579.8,289.4 580.3,289.8 580.8,289.5 581.3,288.8 581.8,287.7 582.3,286.9 582.8,287.4 583.3,287.1 583.8,286.1 584.3,285.6 584.8,287.5 585.3,289.7 585.8,289.1 586.3,288.8 586.8,289.1 587.3,288.2 587.8,287.2 588.3,287.2 588.8,287.4 589.3,286.4 589.8,285.4 590.3,286.3 590.8,288.2 591.3,288.6 591.8,288.4 592.3,288.2 592.8,287.5 593.3,287.7 593.8,288.9 594.3,288.4 594.8,288.1 595.3,288.6 595.8,288.9 596.3,287.6 596.8,285.9 597.3,285.7 597.8,287.0 598.3,289.1 598.8,289.6 599.3,288.4 599.8,287.9 600.3,288.2 600.8,287.8 601.3,286.7 601.8,286.6 602.3,288.0 602.8,289.4 603.3,289.7 603.8,289.0 604.3,288.3 604.8,287.8 605.3,286.7 605.8,287.4 606.3,287.8 606.8,286.6 607.3,286.7 607.8,288.2 608.3,288.1 608.8,288.3 609.3,289.2 609.8,288.5 610.3,287.3 610.8,287.5 611.3,288.5 611.8,289.5 612.3,289.1 612.8,287.2 613.3,287.7 613.8,289.2 614.3,288.9 614.8,288.0 615.3,287.7 615.8,288.0 616.3,287.9 616.8,288.1 617.3,287.9 617.8,286.9 618.3,285.7 618.8,285.4 619.3,285.9 619.8,286.6 620.3,287.3 620.8,287.3 621.3,286.8 621.8,286.0 622.3,285.9 622.8,285.7 623.3,285.4 623.8,286.5 624.3,288.6 624.8,288.9 625.3,288.6 625.8,287.7 626.3,287.2 626.8,288.0 627.3,287.8 627.8,286.4 628.3,285.8 628.8,286.7 629.3,288.2 629.8,288.5 630.3,287.6 630.8,286.7 631.3,286.4 631.8,286.4 632.3,285.8 632.8,285.3 633.3,285.5 633.8,287.6 634.3,288.3 634.8,287.3 635.3,287.0 635.8,287.5 636.3,287.1 636.8,286.5 637.3,286.4 637.8,286.4 638.3,286.7 638.8,287.0 639.3,286.4 639.8,286.6 640.3,286.5 640.8,286.0 641.3,286.2 641.8,285.5 642.3,285.5 642.8,286.0 643.3,286.5 643.8,287.2 644.3,287.9 644.8,287.5 645.3,287.0 645.8,287.0 646.3,286.9 646.8,286.9 647.3,287.5 647.8,288.0 648.3,288.0 648.8,287.9 649.3,287.8 649.8,287.6 650.3,287.5 650.8,288.2 651.3,288.6 651.8,288.0 652.3,288.2 652.8,288.5 653.3,288.0 653.8,287.7 654.3,288.1 654.8,288.8 655.3,289.4 655.8,289.0 656.3,288.7 656.8,288.5 657.3,289.1 657.8,289.5 658.3,288.6 658.8,286.8 659.3,286.3 659.8,286.3 660.3,286.8 660.8,286.7 661.3,285.7 661.8,285.1 662.3,285.6 662.8,286.7 663.3,288.1 663.8,289.5 664.3,289.4 664.8,287.9 665.3,287.5 665.8,287.3 666.3,286.7 666.8,286.3 667.3,287.2 667.8,287.3 668.3,286.7 668.8,286.2 669.3,284.7 669.8,283.6 670.3,284.8 670.8,286.0 671.3,286.7 671.8,288.4 672.3,289.7 672.8,288.7 673.3,287.0 673.8,286.1 674.3,286.6 674.8,287.5 675.3,287.9 675.8,286.8 676.3,286.0 676.8,287.0 677.3,288.9 677.8,289.3 678.3,289.3 678.8,289.7 679.3,287.8 679.8,286.9 680.3,287.6 680.8,287.1 681.3,286.0 681.8,285.9 682.3,286.7 682.8,287.1 683.3,286.9 683.8,286.9 684.3,287.7 684.8,287.9 685.3,289.0 685.8,289.3 686.3,287.5 686.8,287.0 687.3,287.6 687.8,287.8 688.3,287.1 688.8,286.7 689.3,287.4 689.8,288.0 690.3,288.1 690.8,286.7 691.3,285.5 691.8,285.4 692.3,286.2 692.8,287.3 693.3,287.3 693.8,286.4 694.3,286.4 694.8,287.6 695.3,289.8 695.8,289.4 696.3,288.2 696.8,288.3 697.3,289.6 697.8,289.8 698.3,288.5 698.8,288.0 699.3,288.1 699.8,288.1 700.3,287.7 700.8,288.1 701.3,288.8 701.8,288.9 702.3,287.6 702.8,287.6 703.3,288.7 703.8,289.5 704.3,289.1 704.8,288.4 705.3,288.5 705.8,288.2 706.3,287.3 706.8,287.8 707.3,288.3 707.8,289.6 708.3,290.0 708.8,288.6 709.3,287.9 709.8,288.2 710.3,288.7 710.8,289.6 711.3,289.1 711.8,287.0 712.3,286.4 712.8,287.0 713.3,287.8 713.8,289.0 714.3,289.3 714.8,287.9 715.3,286.7 715.8,287.1 716.3,288.1 716.8,288.4 717.3,288.0 717.8,288.2 718.3,288.8 718.8,288.9 719.3,289.2 719.8,289.1 720.3,287.9 720.8,287.8 721.3,287.8 721.8,287.7 722.3,287.6 722.8,287.2 723.3,288.5 723.8,291.4 724.3,291.9 724.8,290.0 725.3,287.8 725.8,286.8 726.3,286.8 726.8,287.4 727.3,288.2 727.8,288.2 728.3,287.9 728.8,289.0 729.3,289.7 729.8,289.9 730.3,289.5 730.8,288.9 731.3,288.1 731.8,288.4 732.3,288.1 732.8,287.9 733.3,288.1 733.8,287.2 734.3,286.6 734.8,288.1 735.3,288.2 735.8,287.8 736.3,287.6 736.8,287.5 737.3,287.8 737.8,288.0 738.3,287.8 738.5,287.9" fill="none" stroke="#0000FF" stroke-width="5.5" stroke-linejoin="round" stroke-linecap="butt" clip-path="url(#ca)"/>
<polyline points="58.3,424.7 58.8,425.8 59.3,427.6 59.8,430.0 60.3,430.9 60.8,430.4 61.3,429.8 61.8,428.9 62.3,427.0 62.8,423.9 63.3,422.0 63.8,422.1 64.3,423.4 64.8,424.3 65.3,425.2 65.8,425.8 66.3,427.3 66.8,429.5 67.3,429.1 67.8,427.5 68.3,427.1 68.8,428.2 69.3,427.6 69.8,425.6 70.3,425.5 70.8,425.6 71.3,425.0 71.8,426.3 72.3,427.1 72.8,425.9 73.3,427.2 73.8,428.7 74.3,427.7 74.8,428.0 75.3,429.6 75.8,430.1 76.3,428.1 76.8,424.8 77.3,423.2 77.8,422.7 78.3,422.1 78.8,421.5 79.3,420.0 79.8,419.8 80.3,420.6 80.8,419.2 81.3,418.2 81.8,419.7 82.3,421.8 82.8,423.7 83.3,423.9 83.8,422.9 84.3,422.3 84.8,423.1 85.3,425.3 85.8,425.7 86.3,423.7 86.8,422.0 87.3,420.2 87.8,417.8 88.3,416.3 88.8,415.0 89.3,414.1 89.8,415.7 90.3,418.3 90.8,419.4 91.3,418.7 91.8,418.6 92.3,420.0 92.8,419.9 93.3,416.6 93.8,414.6 94.3,415.1 94.8,416.1 95.3,416.5 95.8,417.1 96.3,417.1 96.8,416.9 97.3,415.8 97.8,415.0 98.3,414.4 98.8,412.9 99.3,413.0 99.8,414.7 100.3,415.2 100.8,413.5 101.3,412.0 101.8,413.3 102.3,413.3 102.8,411.0 103.3,409.9 103.8,412.6 104.3,414.8 104.8,414.5 105.3,413.2 105.8,410.7 106.3,408.9 106.8,407.6 107.3,407.6 107.8,409.2 108.3,410.7 108.8,411.5 109.3,411.8 109.8,411.6 110.3,411.2 110.8,410.4 111.3,409.5 111.8,409.3 112.3,408.9 112.8,409.9 113.3,409.9 113.8,408.6 114.3,409.9 114.8,411.2 115.3,409.6 115.8,407.1 116.3,406.4 116.8,407.7 117.3,409.8 117.8,411.9 118.3,413.7 118.8,415.1 119.3,415.1 119.8,413.5 120.3,412.5 120.8,412.6 121.3,412.4 121.8,411.3 122.3,409.9 122.8,407.2 123.3,405.6 123.8,405.2 124.3,406.2 124.8,407.1 125.3,407.2 125.8,406.8 126.3,407.0 126.8,408.0 127.3,408.8 127.8,408.5 128.3,409.2 128.8,409.3 129.3,407.3 129.8,404.5 130.3,402.1 131.0,402.5 131.3,405.1 131.8,407.7 132.3,411.5 132.8,414.2 133.3,414.1 133.8,412.7 134.3,411.6 134.8,410.2 135.3,410.5 135.8,411.1 136.3,408.8 136.8,407.3 137.3,408.2 137.8,409.2 138.3,409.3 138.8,408.0 139.3,407.5 139.8,409.1 140.3,411.8 140.8,412.6 141.3,411.6 141.8,411.8 142.3,412.6 142.8,412.5 143.3,412.5 143.8,411.4 144.3,408.8 144.8,407.3 145.3,405.5 146.0,403.9 146.3,404.2 146.8,405.1 147.3,406.4 147.8,408.3 148.3,409.0 148.8,408.3 149.3,406.8 149.8,405.3 150.3,404.4 150.8,404.3 151.3,404.3 151.8,404.0 152.3,404.5 152.8,406.2 153.3,408.9 153.8,411.8 154.3,414.2 154.8,413.8 155.3,412.3 155.8,412.5 156.3,412.8 156.8,412.4 157.3,410.5 157.8,407.8 158.3,403.6 158.8,398.1 159.3,391.9 159.8,383.5 160.3,371.9 160.8,356.4 161.3,336.3 161.8,316.5 162.5,303.5 162.8,306.8 163.3,321.2 163.8,340.9 164.3,360.3 164.8,376.9 165.3,389.4 165.8,398.4 166.3,404.5 166.8,408.0 167.3,409.6 167.8,411.8 168.3,413.4 168.8,415.2 169.3,416.8 169.8,416.4 170.3,417.2 170.8,418.4 171.3,418.3 171.8,416.4 172.3,416.0 172.8,415.8 173.3,415.0 173.8,414.3 174.3,413.3 174.8,412.3 175.3,412.4 175.8,413.6 176.3,416.5 176.8,417.1 177.3,416.0 177.8,416.2 178.3,415.0 178.8,413.3 179.3,413.7 179.8,414.1 180.3,412.5 180.8,410.5 181.3,408.9 181.8,406.4 182.3,403.4 182.8,401.0 183.3,399.6 183.8,398.4 184.3,397.6 184.8,398.3 185.3,400.0 185.8,402.2 186.3,404.8 186.8,408.1 187.3,410.4 187.8,411.9 188.3,413.3 188.8,415.0 189.3,414.8 189.8,414.7 190.3,417.3 190.8,418.4 191.3,418.0 191.8,418.0 192.3,418.4 192.8,419.6 193.3,419.8 193.8,419.4 194.3,421.0 194.8,420.6 195.3,418.8 195.8,420.2 196.3,421.3 196.8,421.6 197.3,421.5 197.8,420.1 198.3,419.4 198.8,420.5 199.3,421.3 199.8,420.9 200.3,420.0 200.8,422.5 201.3,425.3 201.8,424.2 202.3,422.4 202.8,421.1 203.3,420.7 203.8,421.8 204.3,421.9 204.8,420.9 205.3,420.7 205.8,420.6 206.3,419.3 206.8,419.2 207.3,420.7 207.8,420.5 208.3,419.5 208.8,420.1 209.3,420.7 209.8,421.0 210.3,422.0 210.8,423.4 211.3,423.4 211.8,422.7 212.3,422.0 212.8,421.5 213.3,419.7 214.0,419.0 214.3,421.7 214.8,424.8 215.3,424.1 215.8,421.6 216.3,421.3 216.8,421.2 217.3,420.7 217.8,421.8 218.3,424.2 218.8,424.5 219.3,423.4 219.8,422.5 220.3,422.4 220.8,422.3 221.3,422.2 221.8,422.1 222.3,422.4 222.8,423.5 223.3,424.4 223.8,424.5 224.3,424.9 224.8,425.4 225.3,426.1 225.8,426.0 226.3,427.3 226.8,428.8 227.3,428.4 227.8,427.9 228.3,428.6 228.8,428.1 229.3,426.6 229.8,424.4 230.3,422.9 230.8,424.2 231.3,425.8 231.8,426.2 232.3,426.1 232.8,426.6 233.3,425.4 233.8,423.9 234.3,423.9 234.8,424.7 235.3,425.6 235.8,426.9 236.3,427.0 236.8,426.1 237.3,424.3 237.8,422.5 238.3,422.5 238.8,424.7 239.3,427.1 239.8,426.9 240.3,425.5 240.8,426.2 241.3,426.8 241.8,426.0 242.3,425.9 242.8,426.0 243.3,426.7 243.8,427.0 244.3,426.7 244.8,426.5 245.3,426.3 245.8,425.4 246.3,424.7 246.8,427.0 247.3,428.2 247.8,427.2 248.3,427.5 248.8,427.9 249.3,427.1 249.8,426.8 250.3,427.5 250.8,427.6 251.3,426.9 251.8,427.4 252.3,427.5 252.8,426.8 253.3,428.0 253.8,429.2 254.3,428.6 254.8,428.4 255.3,428.7 255.8,427.7 256.3,427.9 256.8,429.4 257.3,429.2 257.8,427.2 258.3,427.0 258.8,428.2 259.3,428.8 259.8,428.1 260.3,427.2 260.8,426.6 261.3,425.7 261.8,426.9 262.3,428.6 262.8,428.9 263.3,427.5 263.8,426.3 264.3,426.7 264.8,426.4 265.3,426.6 265.8,427.0 266.3,427.1 266.8,429.2 267.3,429.9 267.8,429.0 268.3,428.2 268.8,428.4 269.3,428.3 269.8,427.3 270.3,426.5 270.8,427.5 271.3,428.6 271.8,428.9 272.3,428.4 272.8,427.7 273.3,426.5 273.8,424.7 274.3,424.4 274.8,425.6 275.3,426.3 275.8,426.3 276.3,425.5 276.8,425.7 277.3,426.6 277.8,426.1 278.3,425.6 278.8,426.3 279.3,426.1 279.8,425.2 280.3,425.3 280.8,426.0 281.3,425.9 281.8,425.3 282.3,424.1 282.8,423.4 283.3,425.3 283.8,426.2 284.3,425.0 284.8,423.7 285.3,424.2 285.8,425.1 286.3,425.1 286.8,424.3 287.3,423.8 287.8,425.6 288.3,427.0 288.8,427.6 289.3,427.7 289.8,427.3 290.3,426.5 290.8,425.2 291.3,425.3 291.8,425.8 292.3,425.9 292.8,424.6 293.3,423.5 293.8,423.7 294.3,424.2 294.8,424.5 295.3,425.5 295.8,425.8 296.3,425.2 296.8,424.6 297.3,425.0 297.8,426.4 298.3,425.9 298.8,424.8 299.3,425.0 299.8,425.0 300.3,425.8 300.8,426.3 301.3,425.6 301.8,425.3 302.3,426.1 302.8,426.6 303.3,426.5 303.8,425.8 304.3,425.0 304.8,425.1 305.3,425.4 305.8,425.5 306.3,425.0 306.8,424.7 307.3,424.8 307.8,425.4 308.3,426.0 308.8,426.6 309.3,426.7 309.8,426.7 310.3,427.3 310.8,426.3 311.3,425.5 311.8,425.7 312.3,425.5 312.8,425.4 313.3,425.4 313.8,425.4 314.3,425.8 314.8,425.2 315.3,425.9 315.8,428.0 316.3,428.7 316.8,427.3 317.3,425.5 317.8,425.2 318.3,425.2 318.8,425.3 319.3,426.0 319.8,427.2 320.3,427.7 320.8,427.0 321.3,426.3 321.8,426.8 322.3,427.7 322.8,427.8 323.3,426.7 323.8,426.0 324.3,425.6 324.8,425.8 325.3,426.6 325.8,427.2 326.3,428.3 326.8,428.6 327.3,428.0 327.8,427.6 328.3,427.4 328.8,427.7 329.3,428.2 329.8,428.3 330.3,428.1 330.8,428.7 331.3,428.9 331.8,427.9 332.3,426.5 332.8,426.5 333.3,427.4 333.8,427.6 334.3,427.9 334.8,429.3 335.3,429.1 335.8,428.5 336.3,428.1 336.8,426.7 337.3,425.8 337.8,426.7 338.3,427.4 338.8,427.9 339.3,427.5 339.8,426.4 340.3,427.2 340.8,429.3 341.3,430.1 341.8,429.4 342.3,429.1 342.8,429.6 343.3,431.0 343.8,432.6 344.3,431.6 344.8,429.1 345.3,428.6 345.8,429.6 346.3,430.0 346.8,429.9 347.3,429.1 347.8,427.5 348.3,426.4 348.8,426.6 349.3,427.8 349.8,429.0 350.3,429.7 350.8,429.8 351.3,428.1 351.8,428.2 352.3,430.1 352.8,430.2 353.3,428.6 353.8,428.5 354.3,428.3 354.8,427.5 355.3,428.6 355.8,429.2 356.3,429.3 356.8,429.9 357.3,429.5 357.8,429.2 358.3,429.7 358.8,429.4 359.3,428.6 359.8,427.4 360.3,428.2 360.8,428.7 361.3,428.8 361.8,429.3 362.3,429.2 362.8,428.3 363.3,428.1 363.8,428.6 364.3,429.2 364.8,429.2 365.3,429.2 365.8,428.5 366.3,427.5 366.8,428.2 367.3,429.5 367.8,431.1 368.3,432.4 368.8,431.9 369.3,430.6 369.8,429.5 370.3,430.2 370.8,430.5 371.3,428.9 371.8,427.3 372.3,426.7 372.8,428.0 373.3,429.5 373.8,428.7 374.3,429.0 374.8,430.0 375.3,430.0 375.8,429.8 376.3,429.9 376.8,429.6 377.3,428.4 377.8,428.2 378.3,428.0 378.8,427.0 379.3,427.6 379.8,429.2 380.3,430.2 380.8,429.9 381.3,429.9 381.8,430.1 382.3,430.7 382.8,430.8 383.3,432.2 383.8,433.8 384.3,433.1 384.8,431.5 385.3,429.9 385.8,430.1 386.3,430.3 386.8,429.6 387.3,428.9 387.8,427.9 388.3,427.5 388.8,427.2 389.3,427.9 389.8,429.5 390.3,430.2 390.8,431.7 391.3,433.2 391.8,432.4 392.3,430.4 392.8,429.4 393.3,429.4 393.8,430.6 394.3,432.3 394.8,431.9 395.3,429.6 395.8,428.8 396.3,429.2 396.8,428.5 397.3,428.6 397.8,428.6 398.3,429.9 398.8,430.6 399.3,429.8 399.8,429.5 400.3,430.6 400.8,431.2 401.3,431.9 401.8,432.4 402.3,431.0 402.8,430.7 403.3,432.8 403.8,433.6 404.3,431.2 404.8,429.7 405.3,429.9 405.8,430.7 406.3,430.8 406.8,429.8 407.3,429.2 407.8,429.2 408.3,429.8 408.8,430.2 409.3,430.4 409.8,430.1 410.3,429.3 410.8,428.3 411.3,428.7 411.8,429.6 412.3,429.9 412.8,429.4 413.3,430.0 413.8,431.3 414.3,430.9 414.8,429.9 415.3,429.7 415.8,429.9 416.3,430.1 416.8,429.7 417.3,429.3 417.8,429.3 418.3,429.3 418.8,430.8 419.3,431.7 419.8,430.6 420.3,428.9 420.8,429.4 421.3,430.7 421.8,431.0 422.3,431.0 422.8,431.3 423.3,431.4 423.8,430.2 424.3,429.5 424.8,431.5 425.3,433.6 425.8,433.5 426.3,433.3 426.8,433.1 427.3,431.0 427.8,429.8 428.3,430.5 428.8,432.2 429.3,433.5 429.8,432.9 430.3,432.1 430.8,432.3 431.3,431.9 431.8,431.1 432.3,430.2 432.8,429.4 433.3,429.0 433.8,427.9 434.3,427.3 434.8,429.1 435.3,431.0 435.8,430.4 436.3,429.7 436.8,431.6 437.3,433.6 437.8,433.8 438.3,434.2 438.8,432.3 439.3,430.3 439.8,432.0 440.3,433.9 440.8,432.7 441.3,431.2 441.8,431.9 442.3,432.0 442.8,430.4 443.3,430.5 443.8,431.4 444.3,431.5 444.8,430.4 445.3,430.3 445.8,431.5 446.3,432.0 446.8,431.7 447.3,431.9 447.8,432.6 448.3,433.2 448.8,434.0 449.3,433.4 449.8,433.5 450.3,433.3 450.8,432.3 451.3,431.8 451.8,432.1 452.3,431.2 452.8,430.3 453.3,430.7 453.8,430.5 454.3,429.9 454.8,430.3 455.3,429.9 455.8,430.6 456.3,430.5 456.8,429.6 457.3,429.8 457.8,430.2 458.3,430.8 458.8,431.0 459.3,431.7 459.8,432.5 460.3,432.6 460.8,432.1 461.3,431.6 461.8,429.6 462.3,428.9 462.8,429.1 463.3,428.4 463.8,428.8 464.3,429.7 464.8,429.4 465.3,430.2 465.8,432.2 466.3,432.7 466.8,432.0 467.3,432.3 467.8,432.6 468.3,431.9 468.8,430.6 469.3,429.6 469.8,430.2 470.3,432.2 470.8,432.3 471.3,431.4 471.8,431.4 472.3,432.2 472.8,432.2 473.3,430.9 473.8,430.3 474.3,430.9 474.8,430.5 475.3,430.6 475.8,433.1 476.3,434.2 476.8,432.9 477.3,431.6 477.8,431.0 478.3,430.5 478.8,430.0 479.3,429.5 479.8,429.5 480.3,430.1 480.8,431.0 481.3,431.7 481.8,431.6 482.3,431.1 482.8,431.1 483.3,430.4 483.8,430.2 484.3,430.4 484.8,429.6 485.3,429.2 485.8,428.8 486.3,430.0 486.8,431.8 487.3,431.9 487.8,430.5 488.3,430.9 488.8,432.9 489.3,433.4 489.8,432.6 490.3,431.6 490.8,432.4 491.3,432.0 491.8,430.9 492.3,432.1 492.8,433.6 493.3,432.7 493.8,430.6 494.3,430.6 494.8,432.1 495.3,431.8 495.8,430.8 496.3,430.5 496.8,430.1 497.3,430.0 497.8,430.9 498.3,431.3 498.8,431.2 499.3,432.0 499.8,432.0 500.3,432.7 500.8,433.8 501.3,434.2 501.8,433.1 502.3,430.1 502.8,428.4 503.3,429.1 503.8,430.8 504.3,431.7 504.8,430.9 505.3,430.5 505.8,431.0 506.3,432.3 506.8,433.4 507.3,433.2 507.8,434.6 508.3,435.2 508.8,433.2 509.3,431.9 509.8,431.3 510.3,430.7 510.8,430.2 511.3,430.5 511.8,432.1 512.3,432.8 512.8,432.4 513.3,432.5 513.8,432.0 514.3,431.7 514.8,432.2 515.3,433.2 515.8,434.8 516.3,435.3 516.8,434.7 517.3,433.0 517.8,431.0 518.3,431.0 518.8,432.6 519.3,433.6 519.8,433.0 520.3,432.2 520.8,430.7 521.3,430.8 521.8,432.3 522.3,434.0 522.8,434.3 523.3,433.6 523.8,432.3 524.3,430.3 524.8,430.2 525.3,433.2 525.8,435.2 526.3,433.8 526.8,431.9 527.3,430.9 527.8,429.9 528.3,430.6 528.8,432.2 529.3,433.6 529.8,433.7 530.3,432.8 530.8,431.2 531.3,431.0 531.8,431.8 532.3,433.1 532.8,433.3 533.3,432.2 533.8,431.8 534.3,433.4 534.8,433.6 535.3,434.5 535.8,436.6 536.3,436.3 536.8,434.8 537.3,433.4 537.8,431.9 538.3,432.0 538.8,432.9 539.3,432.4 539.8,431.6 540.3,431.0 540.8,431.3 541.3,431.9 541.8,433.1 542.3,434.3 542.8,433.7 543.3,433.4 543.8,433.7 544.3,433.2 544.8,432.3 545.3,431.1 545.8,431.7 546.3,432.6 546.8,432.4 547.3,432.6 547.8,432.7 548.3,433.2 548.8,433.3 549.3,431.9 549.8,430.6 550.3,430.9 550.8,432.0 551.3,431.9 551.8,431.9 552.3,433.7 552.8,434.6 553.3,433.9 553.8,433.5 554.3,433.0 554.8,432.3 555.3,432.7 555.8,433.1 556.3,432.2 556.8,430.8 557.3,430.3 557.8,430.9 558.3,431.1 558.8,430.6 559.3,430.2 559.8,431.4 560.3,432.2 560.8,432.0 561.3,431.9 561.8,432.9 562.3,433.5 562.8,433.5 563.3,432.9 563.8,433.2 564.3,433.0 564.8,432.3 565.3,431.9 565.8,431.5 566.3,431.8 566.8,432.3 567.3,432.7 567.8,433.3 568.3,433.2 568.8,432.3 569.3,431.7 569.8,430.6 570.3,432.0 570.8,434.8 571.3,435.0 571.8,434.8 572.3,434.8 572.8,432.7 573.3,431.3 573.8,431.1 574.3,431.5 574.8,430.5 575.3,429.2 575.8,429.6 576.3,431.3 576.8,433.1 577.3,433.8 577.8,433.8 578.3,433.2 578.8,433.0 579.3,433.6 579.8,432.8 580.3,432.3 580.8,432.0 581.3,432.0 581.8,432.3 582.3,432.9 582.8,434.0 583.3,434.4 583.8,435.1 584.3,435.4 584.8,434.8 585.3,434.2 585.8,433.7 586.3,433.1 586.8,432.2 587.3,430.8 587.8,431.4 588.3,432.3 588.8,432.0 589.3,432.9 589.8,433.7 590.3,432.9 590.8,432.6 591.3,434.5 591.8,436.1 592.3,435.1 592.8,433.8 593.3,434.5 593.8,434.8 594.3,435.1 594.8,434.9 595.3,435.1 595.8,435.0 596.3,434.1 596.8,434.5 597.3,434.5 597.8,434.1 598.3,433.3 598.8,432.2 599.3,431.5 599.8,432.3 600.3,433.2 600.8,433.3 601.3,434.2 601.8,433.6 602.3,432.2 602.8,432.8 603.3,433.7 603.8,434.1 604.3,434.6 604.8,434.8 605.3,434.0 605.8,433.5 606.3,432.7 606.8,432.2 607.3,432.7 607.8,432.8 608.3,433.1 608.8,433.0 609.3,432.2 609.8,433.3 610.3,434.1 610.8,434.1 611.3,434.2 611.8,434.1 612.3,433.2 612.8,432.0 613.3,432.5 613.8,433.5 614.3,433.7 614.8,433.6 615.3,434.2 615.8,435.6 616.3,435.7 616.8,435.6 617.3,435.0 617.8,433.6 618.3,432.5 618.8,432.7 619.3,434.3 619.8,435.3 620.3,434.3 620.8,433.1 621.3,434.3 621.8,434.9 622.3,433.3 622.8,430.9 623.3,430.2 623.8,431.0 624.3,432.0 624.8,434.2 625.3,436.1 625.8,436.6 626.3,436.4 626.8,436.3 627.3,435.8 627.8,434.5 628.3,434.3 628.8,436.0 629.3,435.5 629.8,433.5 630.3,434.3 630.8,434.5 631.3,434.3 631.8,434.7 632.3,433.7 632.8,433.5 633.3,434.4 633.8,434.9 634.3,434.1 634.8,433.7 635.3,433.8 635.8,435.0 636.3,436.4 636.8,436.2 637.3,434.9 637.8,433.6 638.3,433.5 638.8,435.0 639.3,436.0 639.8,436.5 640.3,436.1 640.8,435.3 641.3,434.4 641.8,434.0 642.3,435.4 642.8,435.8 643.3,435.1 643.8,435.2 644.3,434.9 644.8,433.8 645.3,432.8 645.8,432.4 646.3,433.5 646.8,435.6 647.3,436.2 647.8,435.9 648.3,436.0 648.8,435.2 649.3,434.6 649.8,434.7 650.3,434.4 650.8,434.2 651.3,434.1 651.8,434.0 652.3,435.0 652.8,434.8 653.3,434.1 653.8,433.9 654.3,432.7 654.8,432.3 655.3,433.4 655.8,434.1 656.3,433.4 656.8,433.9 657.3,435.6 657.8,434.9 658.3,433.3 658.8,433.8 659.3,434.8 659.8,434.3 660.3,434.7 660.8,437.1 661.3,436.7 661.8,434.6 662.3,434.9 662.8,434.8 663.3,433.6 663.8,433.1 664.3,433.6 664.8,435.2 665.3,436.3 665.8,435.5 666.3,435.2 666.8,435.9 667.3,435.0 667.8,433.6 668.3,433.5 668.8,434.3 669.3,435.7 669.8,436.8 670.3,436.9 670.8,435.7 671.3,434.1 671.8,433.9 672.3,433.8 672.8,434.2 673.3,434.3 673.8,433.8 674.3,433.7 674.8,434.2 675.3,434.9 675.8,435.8 676.3,436.5 676.8,435.9 677.3,435.4 677.8,435.2 678.3,435.1 678.8,435.1 679.3,434.4 679.8,434.0 680.3,433.6 680.8,432.8 681.3,431.8 681.8,432.5 682.3,434.5 682.8,435.3 683.3,435.0 683.8,434.0 684.3,433.7 684.8,434.8 685.3,434.8 685.8,432.6 686.3,431.3 686.8,432.4 687.3,433.1 687.8,432.4 688.3,433.2 688.8,435.6 689.3,437.4 689.8,437.4 690.3,436.0 690.8,435.4 691.3,434.5 691.8,433.7 692.3,434.0 692.8,434.3 693.3,433.3 693.8,432.8 694.3,433.0 694.8,432.4 695.3,432.3 695.8,433.6 696.3,435.1 696.8,434.6 697.3,433.7 697.8,433.9 698.3,434.2 698.8,434.5 699.3,433.8 699.8,432.8 700.3,433.1 700.8,434.2 701.3,434.6 701.8,434.6 702.3,434.5 702.8,433.8 703.3,433.6 703.8,433.0 704.3,432.4 704.8,433.4 705.3,433.6 705.8,433.4 706.3,433.5 706.8,434.3 707.3,434.4 707.8,434.6 708.3,435.2 708.8,434.1 709.3,433.7 709.8,434.8 710.3,434.1 710.8,433.1 711.3,434.0 711.8,435.2 712.3,434.6 712.8,433.7 713.3,435.0 713.8,436.9 714.3,436.8 714.8,435.8 715.3,434.6 715.8,435.1 716.3,436.3 716.8,435.6 717.3,435.6 717.8,436.1 718.3,435.9 718.8,435.4 719.3,435.1 719.8,433.9 720.3,433.3 720.8,434.1 721.3,434.3 721.8,433.9 722.3,433.7 722.8,433.8 723.3,435.1 723.8,435.1 724.3,433.2 724.8,432.6 725.3,432.9 725.8,433.3 726.3,434.9 726.8,436.1 727.3,436.2 727.8,436.2 728.3,435.7 728.8,435.1 729.3,434.7 729.8,434.6 730.3,434.8 730.8,435.2 731.3,434.1 731.8,433.7 732.3,434.3 732.8,434.6 733.3,435.5 733.8,435.6 734.3,434.3 734.8,432.9 735.3,433.5 735.8,434.3 736.3,434.3 736.8,433.9 737.3,433.5 737.8,434.2 738.3,434.8 738.5,434.9" fill="none" stroke="#FF0000" stroke-width="5.5" stroke-linejoin="round" stroke-linecap="butt" clip-path="url(#ca)"/>
<polyline points="58.3,476.0 58.8,475.9 59.3,475.4 59.8,474.1 60.3,473.3 60.8,473.7 61.3,474.2 61.8,475.1 62.3,476.0 62.8,476.7 63.3,476.4 63.8,475.7 64.3,475.4 64.8,476.0 65.3,476.5 65.8,477.0 66.3,477.5 66.8,477.2 67.3,475.6 67.8,474.3 68.3,475.0 68.8,477.0 69.3,478.1 69.8,477.6 70.3,476.1 70.8,475.8 71.3,476.9 71.8,477.3 72.3,476.5 72.8,475.4 73.3,474.7 73.8,475.5 74.3,476.2 74.8,475.3 75.3,475.0 75.8,475.1 76.3,474.5 76.8,473.7 77.3,474.0 77.8,474.5 78.3,474.8 78.8,474.9 79.3,474.9 79.8,475.2 80.3,476.3 80.8,476.7 81.3,477.5 81.8,477.6 82.3,476.0 82.8,473.9 83.3,472.8 83.8,473.3 84.3,474.6 84.8,475.0 85.3,474.7 85.8,475.7 86.3,477.1 86.8,475.8 87.3,474.3 87.8,474.0 88.3,472.7 88.8,471.7 89.3,472.5 89.8,472.9 90.3,473.7 90.8,474.4 91.3,473.3 91.8,472.6 92.3,472.4 92.8,470.9 93.3,471.2 93.8,473.3 94.3,473.4 94.8,471.5 95.3,470.2 95.8,470.2 96.3,470.1 96.8,469.4 97.3,468.3 97.8,467.3 98.3,467.3 98.8,467.5 99.3,467.3 99.8,466.9 100.3,466.4 100.8,466.2 101.3,467.6 101.8,467.8 102.3,466.0 102.8,464.8 103.3,465.5 103.8,465.7 104.3,465.4 104.8,465.1 105.3,463.9 105.8,463.5 106.3,464.1 106.8,463.1 107.3,461.2 107.8,459.9 108.3,460.1 108.8,460.5 109.3,460.9 109.8,461.0 110.3,460.0 110.8,459.1 111.3,459.5 111.8,459.3 112.3,458.6 112.8,457.7 113.3,456.5 113.8,455.0 114.3,454.4 114.8,454.8 115.3,455.2 115.8,454.5 116.3,453.0 116.8,453.7 117.3,455.3 117.8,456.3 118.3,456.0 118.8,455.8 119.3,456.4 119.8,456.1 120.3,455.0 120.8,455.8 121.3,457.8 121.8,458.8 122.3,459.3 122.8,459.5 123.3,458.6 123.8,458.7 124.3,459.3 124.8,459.6 125.3,459.9 125.8,461.5 126.3,463.1 126.8,462.6 127.3,462.2 127.8,462.9 128.3,463.3 128.8,463.0 129.3,460.9 129.8,459.2 130.3,458.6 130.8,459.0 131.3,460.3 131.8,462.5 132.3,463.2 132.8,463.2 133.3,463.1 133.8,462.9 134.3,462.7 134.8,463.3 135.3,465.1 135.8,466.3 136.3,467.4 136.8,466.9 137.3,465.6 137.8,465.7 138.3,466.3 138.8,466.6 139.3,467.0 139.8,467.5 140.3,467.4 140.8,467.5 141.3,468.3 141.8,468.7 142.3,469.1 142.8,469.8 143.3,470.3 143.8,471.0 144.3,471.5 144.8,471.4 145.3,470.8 145.8,471.5 146.3,471.5 146.8,471.2 147.3,470.5 147.8,470.5 148.3,470.7 148.8,470.3 149.3,470.1 149.8,470.8 150.3,470.9 150.8,469.8 151.3,470.4 151.8,471.5 152.3,471.3 152.8,470.3 153.3,468.0 153.8,467.3 154.3,467.9 154.8,468.2 155.3,468.8 155.8,469.3 156.3,469.1 156.8,469.4 157.3,469.7 157.8,470.1 158.3,470.5 158.8,469.9 159.3,469.2 159.8,467.5 160.3,466.5 161.0,465.8 161.3,465.6 161.8,467.0 162.3,468.5 162.8,469.0 163.3,469.6 163.8,470.7 164.3,470.8 164.8,469.3 165.3,467.9 165.8,469.4 166.3,470.5 166.8,468.9 167.3,467.5 167.8,468.6 168.3,469.4 168.8,469.3 169.3,470.2 169.8,471.1 170.3,471.0 170.8,471.8 171.3,472.9 171.8,472.3 172.3,471.6 172.8,472.6 173.3,473.3 173.8,473.2 174.3,473.0 174.8,473.8 175.3,475.0 175.8,473.8 176.3,473.4 176.8,474.0 177.3,474.0 177.8,473.3 178.3,473.0 178.8,472.8 179.3,472.5 179.8,472.4 180.3,473.8 180.8,474.6 181.3,474.3 181.8,472.9 182.3,471.3 182.8,471.6 183.3,473.0 183.8,474.2 184.3,474.2 184.8,474.3 185.3,473.7 185.8,473.0 186.3,473.4 186.8,474.3 187.3,474.1 187.8,473.2 188.3,473.3 188.8,473.8 189.3,474.4 189.8,474.0 190.3,472.2 190.8,471.3 191.3,472.2 191.8,474.2 192.3,474.0 192.8,473.5 193.3,474.7 193.8,474.3 194.3,473.8 194.8,474.0 195.3,473.4 195.8,472.3 196.3,473.2 196.8,474.5 197.3,474.5 197.8,473.7 198.3,472.4 198.8,470.7 199.3,469.7 199.8,471.0 200.3,473.2 200.8,473.8 201.3,473.7 201.8,474.7 202.3,475.7 202.8,475.1 203.3,475.4 203.8,476.8 204.3,475.8 204.8,474.9 205.3,475.2 205.8,474.7 206.3,474.8 206.8,475.6 207.3,475.8 207.8,475.1 208.3,474.6 208.8,474.0 209.3,474.5 209.8,475.5 210.3,476.5 210.8,477.0 211.3,475.6 211.8,474.4 212.3,474.1 212.8,474.3 213.3,475.0 213.8,475.7 214.3,475.9 214.8,475.6 215.3,475.9 215.8,476.0 216.3,475.8 216.8,475.7 217.3,475.3 217.8,474.6 218.3,473.7 218.8,472.6 219.3,472.7 219.8,473.7 220.3,474.5 220.8,474.3 221.3,473.4 221.8,473.0 222.3,473.4 222.8,473.3 223.3,473.3 223.8,474.5 224.3,475.0 224.8,473.8 225.3,472.8 225.8,473.2 226.3,473.4 226.8,473.1 227.3,474.0 227.8,474.7 228.3,474.8 228.8,474.1 229.3,473.9 229.8,474.4 230.3,474.4 230.8,473.8 231.3,474.6 231.8,475.6 232.3,474.6 232.8,474.2 233.3,475.3 233.8,474.8 234.3,473.3 234.8,472.9 235.3,472.8 235.8,473.8 236.3,474.9 236.8,474.5 237.3,473.1 237.8,473.6 238.3,475.2 238.8,475.3 239.3,474.6 239.8,474.2 240.3,473.2 240.8,472.4 241.3,472.9 241.8,473.9 242.3,474.2 242.8,475.1 243.3,475.6 243.8,474.8 244.3,473.8 244.8,473.5 245.3,474.0 245.8,475.3 246.3,476.4 246.8,476.8 247.3,477.0 247.8,475.7 248.3,473.7 248.8,472.5 249.3,472.3 249.8,472.9 250.3,474.2 250.8,475.6 251.3,476.8 251.8,476.8 252.3,475.8 252.8,474.6 253.3,474.5 253.8,475.2 254.3,474.8 254.8,473.8 255.3,473.8 255.8,474.5 256.3,475.1 256.8,474.8 257.3,474.3 257.8,474.5 258.3,474.9 258.8,474.3 259.3,473.2 259.8,473.8 260.3,475.6 260.8,476.6 261.3,475.8 261.8,474.1 262.3,474.4 262.8,476.0 263.3,475.7 263.8,474.8 264.3,475.0 264.8,475.4 265.3,475.3 265.8,475.7 266.3,475.9 266.8,474.8 267.3,474.2 267.8,474.4 268.3,474.2 268.8,474.0 269.3,473.8 269.8,473.6 270.3,473.9 270.8,474.5 271.3,475.1 271.8,474.5 272.3,474.5 272.8,474.8 273.3,474.3 273.8,474.0 274.3,473.5 274.8,473.2 275.3,473.3 275.8,473.5 276.3,473.0 276.8,472.4 277.3,473.5 277.8,474.1 278.3,473.6 278.8,473.5 279.3,474.2 279.8,475.5 280.3,477.1 280.8,476.7 281.3,475.1 281.8,474.2 282.3,473.7 282.8,472.7 283.3,472.8 283.8,473.3 284.3,472.9 284.8,473.2 285.3,473.8 285.8,474.6 286.3,474.9 286.8,474.8 287.3,475.0 287.8,474.9 288.3,475.1 288.8,475.4 289.3,476.3 289.8,476.2 290.3,474.0 290.8,472.0 291.3,472.5 291.8,473.3 292.3,473.1 292.8,474.1 293.3,475.2 293.8,475.0 294.3,475.3 294.8,475.5 295.3,474.1 295.8,473.5 296.3,473.8 296.8,473.9 297.3,474.7 297.8,475.6 298.3,475.3 298.8,474.3 299.3,474.0 299.8,474.5 300.3,474.8 300.8,475.3 301.3,475.3 301.8,474.3 302.3,474.6 302.8,474.8 303.3,475.1 303.8,474.9 304.3,474.6 304.8,475.3 305.3,476.3 305.8,476.6 306.3,475.8 306.8,474.2 307.3,473.5 307.8,473.7 308.3,474.5 308.8,475.8 309.3,475.7 309.8,473.9 310.3,472.5 310.8,472.5 311.3,472.6 311.8,473.2 312.3,474.5 312.8,475.7 313.3,475.7 313.8,473.7 314.3,472.1 314.8,472.7 315.3,474.3 315.8,474.2 316.3,474.8 316.8,475.3 317.3,474.4 317.8,474.1 318.3,473.9 318.8,473.9 319.3,473.1 319.8,472.9 320.3,473.4 320.8,474.4 321.3,475.7 321.8,476.5 322.3,476.7 322.8,475.6 323.3,474.0 323.8,474.8 324.3,476.6 324.8,477.1 325.3,476.3 325.8,475.6 326.3,475.4 326.8,474.7 327.3,474.4 327.8,475.0 328.3,475.0 328.8,474.9 329.3,475.3 329.8,475.2 330.3,474.0 330.8,473.1 331.3,473.2 331.8,473.6 332.3,474.2 332.8,474.5 333.3,474.0 333.8,473.3 334.3,473.2 334.8,474.0 335.3,474.7 335.8,475.5 336.3,475.9 336.8,475.4 337.3,475.0 337.8,475.9 338.3,476.2 338.8,475.0 339.3,475.3 339.8,475.8 340.3,475.6 340.8,474.7 341.3,473.9 341.8,474.3 342.3,474.7 342.8,473.9 343.3,473.5 343.8,474.1 344.3,475.6 344.8,475.8 345.3,474.2 345.8,472.9 346.3,472.8 346.8,475.2 347.3,476.6 347.8,475.7 348.3,474.7 348.8,475.8 349.3,476.3 349.8,474.8 350.3,474.6 350.8,475.5 351.3,475.4 351.8,475.2 352.3,474.4 352.8,473.5 353.3,472.8 353.8,473.5 354.3,474.8 354.8,475.6 355.3,476.3 355.8,476.0 356.3,475.7 356.8,476.6 357.3,476.9 357.8,476.3 358.3,476.2 358.8,476.2 359.3,475.4 359.8,474.7 360.3,474.7 360.8,474.3 361.3,473.6 361.8,474.2 362.3,474.7 362.8,474.1 363.3,474.6 363.8,477.1 364.3,478.3 364.8,477.8 365.3,476.3 365.8,474.0 366.3,473.0 366.8,475.4 367.3,476.4 367.8,475.0 368.3,474.9 368.8,475.4 369.3,475.5 369.8,474.8 370.3,475.3 370.8,474.5 371.3,472.5 371.8,472.5 372.3,474.4 372.8,475.2 373.3,474.2 373.8,473.7 374.3,474.2 374.8,474.9 375.3,474.4 375.8,473.5 376.3,473.0 376.8,473.5 377.3,474.8 377.8,475.2 378.3,474.5 378.8,473.6 379.3,473.2 379.8,474.1 380.3,474.7 380.8,474.4 381.3,473.8 381.8,474.7 382.3,474.9 382.8,474.6 383.3,474.4 383.8,474.3 384.3,474.9 384.8,475.2 385.3,475.1 385.8,475.4 386.3,474.8 386.8,473.7 387.3,473.4 387.8,473.9 388.3,475.3 388.8,476.3 389.3,475.5 389.8,474.3 390.3,472.4 390.8,471.7 391.3,472.5 391.8,473.5 392.3,474.6 392.8,475.4 393.3,475.0 393.8,474.8 394.3,474.7 394.8,473.9 395.3,474.4 395.8,475.1 396.3,475.4 396.8,476.3 397.3,475.9 397.8,475.0 398.3,474.8 398.8,473.9 399.3,472.6 399.8,473.3 400.3,474.3 400.8,474.8 401.3,474.1 401.8,475.0 402.3,477.0 402.8,477.7 403.3,476.5 403.8,475.7 404.3,475.1 404.8,474.0 405.3,473.3 405.8,473.2 406.3,474.1 406.8,474.3 407.3,473.7 407.8,473.6 408.3,473.0 408.8,472.5 409.3,473.1 409.8,473.5 410.3,474.4 410.8,474.7 411.3,474.4 411.8,473.8 412.3,472.8 412.8,472.6 413.3,473.5 413.8,474.1 414.3,475.1 414.8,474.4 415.3,472.3 415.8,472.1 416.3,473.3 416.8,473.4 417.3,472.6 417.8,472.3 418.3,472.5 418.8,472.4 419.3,472.1 419.8,472.3 420.3,472.7 420.8,473.0 421.3,473.6 421.8,474.4 422.3,473.8 422.8,472.4 423.3,472.6 423.8,474.3 424.3,475.1 424.8,474.0 425.3,472.7 425.8,472.9 426.3,473.3 426.8,473.5 427.3,474.3 427.8,475.0 428.3,475.4 428.8,475.5 429.3,474.6 429.8,473.5 430.3,473.1 430.8,473.3 431.3,473.4 431.8,475.1 432.3,475.5 432.8,474.1 433.3,472.7 433.8,471.9 434.3,471.4 434.8,471.7 435.3,472.3 435.8,472.1 436.3,471.9 436.8,472.4 437.3,472.6 437.8,473.0 438.3,473.2 438.8,473.2 439.3,474.2 439.8,475.7 440.3,476.0 440.8,475.0 441.3,474.4 441.8,474.0 442.3,473.4 442.8,472.8 443.3,474.1 443.8,475.1 444.3,474.2 444.8,473.9 445.3,474.2 445.8,474.7 446.3,474.7 446.8,475.1 447.3,474.1 447.8,472.6 448.3,472.5 448.8,472.2 449.3,472.4 449.8,473.4 450.3,474.8 450.8,475.4 451.3,475.5 451.8,474.5 452.3,472.5 452.8,470.6 453.3,471.2 453.8,472.2 454.3,472.6 454.8,472.6 455.3,471.9 455.8,472.1 456.3,472.2 456.8,471.7 457.3,472.0 457.8,472.8 458.3,473.8 458.8,474.4 459.3,474.5 459.8,473.6 460.3,472.1 460.8,471.5 461.3,472.0 461.8,473.8 462.3,475.1 462.8,474.6 463.3,474.2 463.8,474.0 464.3,473.8 464.8,474.1 465.3,473.6 465.8,472.9 466.3,472.7 466.8,474.1 467.3,474.2 467.8,473.5 468.3,473.7 468.8,473.8 469.3,473.3 469.8,473.9 470.3,474.7 470.8,474.6 471.3,474.7 471.8,474.6 472.3,474.9 472.8,475.7 473.3,475.7 473.8,475.5 474.3,474.9 474.8,474.4 475.3,474.1 475.8,473.1 476.3,472.8 476.8,473.5 477.3,474.5 477.8,475.2 478.3,474.9 478.8,473.4 479.3,473.7 479.8,474.8 480.3,474.8 480.8,475.1 481.3,474.7 481.8,474.1 482.3,474.0 482.8,474.6 483.3,476.2 483.8,475.7 484.3,474.1 484.8,473.4 485.3,474.1 485.8,474.9 486.3,475.1 486.8,475.3 487.3,474.3 487.8,473.2 488.3,472.3 488.8,472.8 489.3,474.3 489.8,473.8 490.3,473.5 490.8,474.1 491.3,473.6 491.8,474.3 492.3,475.6 492.8,476.3 493.3,476.1 493.8,475.8 494.3,475.9 494.8,474.2 495.3,472.6 495.8,472.9 496.3,475.0 496.8,476.2 497.3,475.8 497.8,473.9 498.3,472.7 498.8,473.8 499.3,475.8 499.8,475.4 500.3,473.9 500.8,475.1 501.3,475.8 501.8,475.0 502.3,474.0 502.8,473.3 503.3,473.0 503.8,473.1 504.3,473.8 504.8,475.2 505.3,475.4 505.8,475.1 506.3,475.4 506.8,475.8 507.3,475.5 507.8,474.7 508.3,474.7 508.8,474.6 509.3,474.4 509.8,474.5 510.3,474.2 510.8,474.2 511.3,474.1 511.8,475.5 512.3,477.0 512.8,476.7 513.3,475.7 513.8,475.4 514.3,475.0 514.8,473.7 515.3,473.5 515.8,473.7 516.3,473.6 516.8,473.8 517.3,474.5 517.8,474.7 518.3,474.6 518.8,475.1 519.3,475.5 519.8,475.6 520.3,474.8 520.8,473.6 521.3,474.4 521.8,476.2 522.3,474.8 522.8,472.2 523.3,472.0 523.8,473.3 524.3,473.6 524.8,473.7 525.3,473.7 525.8,474.3 526.3,474.2 526.8,473.6 527.3,473.9 527.8,474.8 528.3,474.8 528.8,473.4 529.3,473.0 529.8,473.6 530.3,475.1 530.8,476.2 531.3,474.8 531.8,473.1 532.3,474.2 532.8,474.9 533.3,474.0 533.8,474.0 534.3,474.8 534.8,474.4 535.3,474.1 535.8,474.0 536.3,474.0 536.8,474.9 537.3,475.2 537.8,475.1 538.3,475.3 538.8,476.2 539.3,476.7 539.8,476.7 540.3,475.9 540.8,474.6 541.3,474.3 541.8,475.0 542.3,476.1 542.8,475.8 543.3,475.1 543.8,475.2 544.3,475.5 544.8,475.4 545.3,475.5 545.8,475.1 546.3,474.1 546.8,474.2 547.3,474.6 547.8,474.8 548.3,476.3 548.8,477.1 549.3,476.0 549.8,475.3 550.3,475.1 550.8,475.5 551.3,475.9 551.8,475.8 552.3,475.5 552.8,475.4 553.3,476.2 553.8,477.0 554.3,477.4 554.8,476.8 555.3,475.6 555.8,475.6 556.3,476.5 556.8,477.1 557.3,477.1 557.8,477.8 558.3,477.7 558.8,477.6 559.3,477.6 559.8,476.5 560.3,475.9 560.8,476.0 561.3,475.6 561.8,475.1 562.3,474.7 562.8,475.2 563.3,476.5 563.8,475.4 564.3,474.3 564.8,474.7 565.3,475.0 565.8,474.6 566.3,474.1 566.8,474.3 567.3,476.0 567.8,477.7 568.3,477.9 568.8,477.0 569.3,476.0 569.8,476.3 570.3,477.3 570.8,477.3 571.3,476.4 571.8,476.7 572.3,477.5 572.8,476.6 573.3,475.6 573.8,475.3 574.3,474.7 574.8,474.0 575.3,474.1 575.8,473.9 576.3,473.6 576.8,473.1 577.3,473.3 577.8,473.9 578.3,474.3 578.8,475.3 579.3,477.3 579.8,478.7 580.3,479.1 580.8,478.4 581.3,477.9 581.8,476.8 582.3,475.3 582.8,475.1 583.3,475.3 583.8,475.2 584.3,475.2 584.8,475.3 585.3,476.0 585.8,475.9 586.3,476.7 586.8,477.3 587.3,477.2 587.8,477.8 588.3,477.8 588.8,475.7 589.3,475.0 589.8,476.5 590.3,477.1 590.8,477.0 591.3,477.1 591.8,477.1 592.3,477.0 592.8,475.8 593.3,474.5 593.8,474.6 594.3,476.0 594.8,476.8 595.3,476.7 595.8,476.2 596.3,475.9 596.8,475.6 597.3,476.4 597.8,476.8 598.3,476.5 598.8,477.1 599.3,477.1 599.8,476.2 600.3,475.3 600.8,475.8 601.3,477.3 601.8,476.3 602.3,475.1 602.8,474.9 603.3,473.7 603.8,472.9 604.3,474.0 604.8,475.4 605.3,476.0 605.8,476.4 606.3,477.0 606.8,477.5 607.3,476.8 607.8,475.7 608.3,475.7 608.8,474.9 609.3,474.0 609.8,474.6 610.3,476.0 610.8,477.2 611.3,476.6 611.8,475.8 612.3,475.9 612.8,475.6 613.3,475.6 613.8,476.2 614.3,476.5 614.8,476.5 615.3,476.2 615.8,476.7 616.3,477.2 616.8,477.1 617.3,477.7 617.8,478.2 618.3,476.9 618.8,475.5 619.3,475.9 619.8,477.2 620.3,477.5 620.8,476.8 621.3,476.5 621.8,477.3 622.3,477.6 622.8,477.5 623.3,476.4 623.8,475.8 624.3,476.3 624.8,475.7 625.3,474.9 625.8,474.4 626.3,473.8 626.8,473.6 627.3,474.4 627.8,475.8 628.3,476.4 628.8,477.0 629.3,477.8 629.8,477.9 630.3,477.5 630.8,477.0 631.3,475.2 631.8,475.0 632.3,475.5 632.8,475.8 633.3,476.8 633.8,476.1 634.3,474.4 634.8,474.6 635.3,476.0 635.8,476.9 636.3,476.9 636.8,475.0 637.3,474.1 637.8,475.6 638.3,476.3 638.8,476.1 639.3,476.0 639.8,475.9 640.3,475.0 640.8,475.5 641.3,476.1 641.8,476.2 642.3,477.1 642.8,477.8 643.3,477.6 643.8,477.2 644.3,477.2 644.8,477.7 645.3,478.1 645.8,478.0 646.3,477.5 646.8,477.4 647.3,477.0 647.8,477.1 648.3,476.9 648.8,476.4 649.3,475.8 649.8,474.9 650.3,473.8 650.8,473.9 651.3,474.8 651.8,475.0 652.3,473.8 652.8,473.2 653.3,474.6 653.8,476.6 654.3,476.4 654.8,476.2 655.3,476.9 655.8,477.1 656.3,476.8 656.8,476.9 657.3,476.4 657.8,475.8 658.3,475.6 658.8,475.9 659.3,476.0 659.8,475.9 660.3,476.4 660.8,477.0 661.3,477.5 661.8,476.8 662.3,476.1 662.8,476.4 663.3,476.6 663.8,476.8 664.3,476.5 664.8,475.5 665.3,475.7 665.8,476.8 666.3,476.6 666.8,475.6 667.3,476.2 667.8,476.3 668.3,475.6 668.8,476.4 669.3,477.8 669.8,478.0 670.3,478.3 670.8,478.1 671.3,477.1 671.8,476.5 672.3,476.1 672.8,476.3 673.3,477.1 673.8,476.4 674.3,476.5 674.8,477.4 675.3,478.3 675.8,478.7 676.3,477.2 676.8,476.4 677.3,476.2 677.8,476.0 678.3,476.7 678.8,476.6 679.3,476.0 679.8,476.1 680.3,477.2 680.8,477.3 681.3,475.8 681.8,474.7 682.3,474.9 682.8,475.4 683.3,474.2 683.8,472.7 684.3,472.8 684.8,473.8 685.3,475.7 685.8,476.4 686.3,475.0 686.8,473.3 687.3,474.5 687.8,478.0 688.3,479.7 688.8,478.8 689.3,477.6 689.8,476.7 690.3,476.9 690.8,477.4 691.3,477.1 691.8,476.5 692.3,476.0 692.8,476.2 693.3,476.8 693.8,477.8 694.3,477.1 694.8,476.5 695.3,476.8 695.8,477.2 696.3,477.1 696.8,476.9 697.3,478.0 697.8,478.0 698.3,477.3 698.8,476.8 699.3,475.9 699.8,475.1 700.3,476.3 700.8,478.3 701.3,478.6 701.8,477.9 702.3,476.7 702.8,476.3 703.3,476.3 703.8,476.2 704.3,476.4 704.8,476.5 705.3,476.3 705.8,476.9 706.3,476.8 706.8,476.2 707.3,475.8 707.8,477.0 708.3,478.2 708.8,478.5 709.3,479.1 709.8,479.2 710.3,477.2 710.8,475.5 711.3,475.6 711.8,476.2 712.3,477.2 712.8,477.5 713.3,476.8 713.8,476.4 714.3,477.0 714.8,477.1 715.3,476.5 715.8,477.3 716.3,477.7 716.8,476.4 717.3,476.6 717.8,477.6 718.3,477.4 718.8,476.7 719.3,477.0 719.8,477.4 720.3,477.2 720.8,476.6 721.3,476.1 721.8,476.2 722.3,476.0 722.8,475.5 723.3,475.4 723.8,475.4 724.3,476.1 724.8,476.9 725.3,476.1 725.8,474.1 726.3,474.0 726.8,476.1 727.3,477.0 727.8,476.0 728.3,475.3 728.8,475.2 729.3,475.7 729.8,476.5 730.3,476.7 730.8,477.1 731.3,477.0 731.8,477.0 732.3,477.8 732.8,478.4 733.3,478.5 733.8,477.3 734.3,476.9 734.8,477.9 735.3,477.6 735.8,477.7 736.3,478.4 736.8,478.1 737.3,477.7 737.8,477.9 738.3,477.8 738.5,477.1" fill="none" stroke="#000000" stroke-width="6.1" stroke-linejoin="round" stroke-linecap="butt" clip-path="url(#ca)"/>
<line x1="58.3" y1="7.2" x2="58.3" y2="507.0" stroke="#000" stroke-width="2.7"/>
<line x1="56.9" y1="505.6" x2="739.9" y2="505.6" stroke="#000" stroke-width="2.8"/>
<path d="M58.8 505.6V515.6M81.5 505.6V510.4M104.1 505.6V515.6M126.8 505.6V510.4M149.4 505.6V515.6M172.1 505.6V510.4M194.7 505.6V515.6M217.4 505.6V510.4M240.1 505.6V515.6M262.7 505.6V510.4M285.4 505.6V515.6M308.0 505.6V510.4M330.7 505.6V515.6M353.3 505.6V510.4M376.0 505.6V515.6M398.7 505.6V510.4M421.3 505.6V515.6M444.0 505.6V510.4M466.6 505.6V515.6M489.3 505.6V510.4M512.0 505.6V515.6M534.6 505.6V510.4M557.3 505.6V515.6M579.9 505.6V510.4M602.6 505.6V515.6M625.2 505.6V510.4M647.9 505.6V515.6M670.6 505.6V510.4M693.2 505.6V515.6M715.9 505.6V510.4M738.5 505.6V515.6" stroke="#000" stroke-width="2.7" fill="none"/>
<text x="58.8" y="542.9" font-size="27.4" text-anchor="middle" textLength="14.6" lengthAdjust="spacingAndGlyphs">5</text>
<text x="104.1" y="542.9" font-size="27.4" text-anchor="middle" textLength="29.2" lengthAdjust="spacingAndGlyphs">10</text>
<text x="149.4" y="542.9" font-size="27.4" text-anchor="middle" textLength="29.2" lengthAdjust="spacingAndGlyphs">15</text>
<text x="194.7" y="542.9" font-size="27.4" text-anchor="middle" textLength="29.2" lengthAdjust="spacingAndGlyphs">20</text>
<text x="240.1" y="542.9" font-size="27.4" text-anchor="middle" textLength="29.2" lengthAdjust="spacingAndGlyphs">25</text>
<text x="285.4" y="542.9" font-size="27.4" text-anchor="middle" textLength="29.2" lengthAdjust="spacingAndGlyphs">30</text>
<text x="330.7" y="542.9" font-size="27.4" text-anchor="middle" textLength="29.2" lengthAdjust="spacingAndGlyphs">35</text>
<text x="376.0" y="542.9" font-size="27.4" text-anchor="middle" textLength="29.2" lengthAdjust="spacingAndGlyphs">40</text>
<text x="421.3" y="542.9" font-size="27.4" text-anchor="middle" textLength="29.2" lengthAdjust="spacingAndGlyphs">45</text>
<text x="466.6" y="542.9" font-size="27.4" text-anchor="middle" textLength="29.2" lengthAdjust="spacingAndGlyphs">50</text>
<text x="512.0" y="542.9" font-size="27.4" text-anchor="middle" textLength="29.2" lengthAdjust="spacingAndGlyphs">55</text>
<text x="557.3" y="542.9" font-size="27.4" text-anchor="middle" textLength="29.2" lengthAdjust="spacingAndGlyphs">60</text>
<text x="602.6" y="542.9" font-size="27.4" text-anchor="middle" textLength="29.2" lengthAdjust="spacingAndGlyphs">65</text>
<text x="647.9" y="542.9" font-size="27.4" text-anchor="middle" textLength="29.2" lengthAdjust="spacingAndGlyphs">70</text>
<text x="693.2" y="542.9" font-size="27.4" text-anchor="middle" textLength="29.2" lengthAdjust="spacingAndGlyphs">75</text>
<text x="738.5" y="542.9" font-size="27.4" text-anchor="middle" textLength="29.2" lengthAdjust="spacingAndGlyphs">80</text>
<text transform="translate(36.9 358.6) rotate(-90)" font-size="40.8" textLength="202.5" lengthAdjust="spacingAndGlyphs">Intensity cts</text>
<text x="250.2" y="579.4" font-size="38.8" textLength="290.5" lengthAdjust="spacingAndGlyphs">2 Theta (degree)</text>
<rect x="1" y="1.2" width="54.1" height="76.1" fill="#DDD9C4"/>
<text x="20.6" y="52" font-size="37.5" text-anchor="middle" textLength="16.6" lengthAdjust="spacingAndGlyphs">a</text>
<path d="M869.4 9.2 H1486.3 V502.8" fill="none" stroke="#3a3a3a" stroke-width="1"/>
<polyline points="869.4,150.8 869.9,149.7 870.4,148.9 870.9,148.5 871.4,148.7 871.9,148.9 872.4,149.3 872.9,150.2 873.4,151.0 873.9,151.1 874.4,150.2 874.9,149.1 875.4,148.3 875.9,149.3 876.4,151.3 876.9,151.5 877.4,151.2 877.9,150.9 878.4,150.3 878.9,149.4 879.4,149.0 879.9,149.2 880.4,148.9 880.9,148.4 881.4,148.3 881.9,147.9 882.4,147.3 882.9,146.2 883.4,146.6 883.9,146.2 884.4,146.8 884.9,148.9 885.4,149.2 885.9,146.9 886.4,145.5 886.9,145.0 887.4,145.0 887.9,146.5 888.4,147.1 888.9,147.4 889.4,147.5 889.9,146.8 890.4,146.9 890.9,146.3 891.4,145.6 891.9,145.3 892.4,145.0 892.9,147.1 893.4,149.1 893.9,148.9 894.4,147.8 894.9,146.2 895.4,144.8 895.9,144.7 896.4,144.9 896.9,144.1 897.4,144.0 897.9,145.5 898.4,144.8 898.9,143.6 899.4,143.3 899.9,143.7 900.4,144.3 900.9,144.0 901.4,143.0 901.9,140.8 902.4,138.9 902.9,138.7 903.4,138.4 903.9,137.9 904.4,137.8 904.9,136.8 905.4,136.7 905.9,137.3 906.4,137.4 906.9,137.8 907.4,137.6 907.9,136.6 908.4,135.4 908.9,135.0 909.4,134.8 909.9,134.6 910.4,133.8 910.9,132.4 911.4,131.0 911.9,130.8 912.4,130.0 912.9,126.9 913.4,125.9 913.9,127.2 914.4,128.2 914.9,128.9 915.4,129.4 915.9,128.8 916.4,127.7 916.9,127.4 917.4,127.0 917.9,125.8 918.4,124.9 918.9,124.9 919.4,126.5 919.9,129.6 920.4,132.3 920.9,133.5 921.4,133.7 921.9,133.7 922.4,134.0 922.9,133.9 923.4,134.5 923.9,135.5 924.4,135.2 924.9,133.6 925.4,134.2 925.9,136.4 926.4,137.4 926.9,136.9 927.4,136.4 927.9,136.9 928.4,137.2 928.9,138.2 929.4,138.8 929.9,137.5 930.4,136.4 930.9,138.1 931.4,139.7 931.9,140.8 932.4,140.7 932.9,140.7 933.4,140.6 933.9,140.3 934.4,140.4 934.9,139.7 935.4,138.7 935.9,139.7 936.4,141.3 936.9,140.2 937.4,137.5 937.9,135.4 938.4,133.8 938.9,134.8 939.4,136.5 939.9,137.0 940.4,137.6 940.9,139.3 941.4,140.8 941.9,140.2 942.4,139.3 942.9,139.5 943.4,139.3 943.9,138.0 944.4,137.2 944.9,136.6 945.4,134.2 945.9,133.1 946.4,133.4 946.9,133.2 947.4,130.7 947.9,126.6 948.4,120.5 948.9,111.1 949.4,98.5 949.9,82.4 950.4,66.1 951.0,56.8 951.4,61.4 951.9,76.2 952.4,93.3 952.9,108.1 953.4,119.3 953.9,127.2 954.4,132.0 954.9,135.1 955.4,137.5 955.9,138.5 956.4,138.2 956.9,136.6 957.4,136.5 957.9,139.4 958.4,141.5 958.9,140.9 959.4,139.8 959.9,140.7 960.4,142.2 960.9,142.0 961.4,141.8 961.9,144.2 962.4,146.8 962.9,146.7 963.4,145.1 963.9,143.3 964.4,142.4 964.9,141.8 965.4,140.6 965.9,137.8 966.4,135.6 966.9,134.3 967.4,132.9 968.0,132.5 968.4,133.5 968.9,134.4 969.4,135.5 969.9,138.1 970.4,141.4 970.9,142.4 971.4,142.3 971.9,142.8 972.4,142.5 972.9,141.4 973.4,141.6 973.9,143.2 974.4,143.9 974.9,144.2 975.4,144.7 975.9,145.2 976.4,145.5 976.9,145.5 977.4,145.6 977.9,145.2 978.4,145.6 978.9,146.6 979.4,147.0 979.9,148.3 980.4,148.3 980.9,147.7 981.4,148.4 981.9,147.7 982.4,145.9 982.9,146.3 983.4,148.0 983.9,147.8 984.4,147.0 984.9,146.9 985.4,145.5 985.9,143.0 986.4,142.1 986.9,141.5 987.4,140.9 987.9,141.1 988.4,142.9 988.9,144.5 989.4,144.1 989.9,143.8 990.4,143.5 990.9,143.4 991.4,145.0 991.9,146.7 992.4,147.9 992.9,148.7 993.4,149.5 993.9,149.7 994.4,149.6 994.9,148.6 995.4,147.4 995.9,146.5 996.4,145.4 996.9,144.5 997.4,143.8 997.9,145.4 998.4,146.9 998.9,146.7 999.4,147.5 999.9,149.0 1000.4,148.6 1000.9,146.9 1001.4,147.7 1001.9,148.2 1002.4,146.8 1002.9,145.9 1003.4,146.2 1003.9,146.4 1004.4,147.4 1004.9,148.8 1005.4,149.5 1005.9,148.0 1006.4,146.4 1006.9,146.2 1007.4,146.7 1007.9,148.2 1008.4,150.6 1008.9,151.9 1009.4,151.1 1009.9,150.0 1010.4,149.2 1010.9,148.9 1011.4,149.8 1011.9,151.1 1012.4,151.3 1012.9,151.7 1013.4,151.0 1013.9,149.3 1014.4,149.0 1014.9,148.9 1015.4,149.1 1015.9,149.7 1016.4,149.5 1016.9,149.2 1017.4,148.5 1017.9,147.6 1018.4,147.0 1018.9,148.1 1019.4,149.8 1019.9,149.6 1020.4,148.1 1020.9,148.2 1021.4,149.7 1021.9,150.7 1022.4,150.1 1022.9,148.7 1023.4,148.8 1023.9,150.2 1024.4,151.7 1024.9,151.3 1025.4,149.6 1025.9,148.8 1026.4,149.0 1026.9,149.7 1027.4,151.0 1027.9,151.7 1028.4,152.4 1028.9,152.5 1029.4,151.6 1029.9,149.9 1030.4,150.1 1030.9,151.0 1031.4,150.5 1031.9,150.2 1032.4,150.6 1032.9,152.2 1033.4,152.2 1033.9,150.6 1034.4,149.7 1034.9,149.3 1035.4,149.3 1035.9,150.0 1036.4,151.2 1036.9,151.5 1037.4,150.1 1037.9,149.1 1038.4,149.0 1038.9,148.2 1039.4,147.7 1039.9,149.0 1040.4,150.1 1040.9,150.3 1041.4,150.6 1041.9,150.4 1042.4,150.2 1042.9,149.8 1043.4,149.2 1043.9,149.6 1044.4,151.0 1044.9,151.1 1045.4,149.3 1045.9,149.0 1046.4,149.5 1046.9,149.0 1047.4,149.1 1047.9,150.1 1048.4,150.1 1048.9,150.5 1049.4,149.7 1049.9,149.8 1050.4,150.3 1050.9,150.0 1051.4,150.0 1051.9,149.2 1052.4,148.7 1052.9,150.0 1053.4,151.7 1053.9,151.8 1054.4,151.2 1054.9,151.0 1055.4,151.4 1055.9,150.6 1056.4,149.8 1056.9,150.8 1057.4,151.9 1057.9,152.2 1058.4,152.0 1058.9,150.5 1059.4,149.8 1059.9,150.1 1060.4,150.9 1060.9,151.3 1061.4,150.4 1061.9,149.8 1062.4,150.4 1062.9,150.1 1063.4,150.6 1063.9,150.8 1064.4,150.6 1064.9,150.9 1065.4,150.6 1065.9,150.6 1066.4,150.8 1066.9,150.8 1067.4,151.4 1067.9,151.2 1068.4,150.2 1068.9,149.5 1069.4,148.3 1069.9,147.9 1070.4,148.0 1070.9,148.5 1071.4,150.9 1071.9,152.8 1072.4,151.6 1072.9,150.4 1073.4,150.3 1073.9,150.6 1074.4,151.5 1074.9,151.4 1075.4,150.8 1075.9,150.6 1076.4,149.2 1076.9,148.3 1077.4,149.8 1077.9,151.8 1078.4,152.4 1078.9,151.7 1079.4,151.6 1079.9,152.2 1080.4,152.3 1080.9,152.1 1081.4,151.9 1081.9,151.2 1082.4,150.3 1082.9,150.0 1083.4,150.4 1083.9,151.1 1084.4,150.2 1084.9,150.1 1085.4,151.6 1085.9,152.9 1086.4,152.2 1086.9,151.6 1087.4,152.3 1087.9,152.0 1088.4,151.7 1088.9,151.8 1089.4,152.5 1089.9,152.3 1090.4,150.9 1090.9,150.1 1091.4,149.9 1091.9,150.2 1092.4,150.9 1092.9,152.1 1093.4,152.9 1093.9,152.1 1094.4,150.5 1094.9,150.5 1095.4,152.3 1095.9,152.5 1096.4,152.0 1096.9,152.2 1097.4,151.1 1097.9,149.8 1098.4,150.1 1098.9,151.1 1099.4,152.3 1099.9,153.0 1100.4,153.2 1100.9,152.5 1101.4,151.1 1101.9,149.5 1102.4,149.1 1102.9,149.4 1103.4,150.6 1103.9,152.0 1104.4,151.9 1104.9,152.2 1105.4,152.4 1105.9,152.0 1106.4,152.2 1106.9,153.5 1107.4,154.0 1107.9,152.6 1108.4,151.0 1108.9,150.9 1109.4,150.8 1109.9,150.3 1110.4,149.8 1110.9,150.0 1111.4,151.4 1111.9,152.2 1112.4,151.6 1112.9,149.9 1113.4,149.2 1113.9,149.0 1114.4,149.3 1114.9,149.7 1115.4,150.7 1115.9,152.2 1116.4,153.5 1116.9,153.1 1117.4,152.2 1117.9,152.6 1118.4,152.6 1118.9,151.3 1119.4,150.6 1119.9,150.6 1120.4,150.1 1120.9,150.8 1121.4,151.7 1121.9,151.5 1122.4,152.0 1122.9,152.6 1123.4,151.9 1123.9,151.0 1124.4,151.6 1124.9,153.1 1125.4,153.9 1125.9,152.6 1126.4,150.9 1126.9,148.9 1127.4,148.5 1127.9,150.2 1128.4,151.5 1128.9,151.2 1129.4,150.9 1129.9,150.3 1130.4,150.0 1130.9,150.9 1131.4,151.7 1131.9,151.6 1132.4,151.8 1132.9,151.2 1133.4,150.4 1133.9,150.9 1134.4,151.3 1134.9,150.2 1135.4,149.9 1135.9,151.4 1136.4,153.0 1136.9,153.9 1137.4,154.1 1137.9,152.8 1138.4,152.4 1138.9,153.5 1139.4,152.4 1139.9,151.0 1140.4,151.2 1140.9,151.5 1141.4,152.4 1141.9,153.5 1142.4,152.7 1142.9,150.2 1143.4,148.6 1143.9,149.7 1144.4,152.1 1144.9,153.7 1145.4,152.8 1145.9,152.3 1146.4,153.2 1146.9,154.1 1147.4,153.0 1147.9,151.7 1148.4,152.0 1148.9,151.9 1149.4,151.2 1149.9,151.3 1150.4,151.7 1150.9,152.2 1151.4,152.8 1151.9,151.8 1152.4,150.8 1152.9,151.4 1153.4,151.4 1153.9,150.0 1154.4,149.8 1154.9,149.9 1155.4,151.0 1155.9,152.3 1156.4,152.3 1156.9,151.3 1157.4,150.4 1157.9,150.5 1158.4,152.0 1158.9,153.3 1159.4,153.5 1159.9,152.1 1160.4,150.2 1160.9,149.6 1161.4,150.8 1161.9,151.0 1162.4,151.0 1162.9,152.4 1163.4,153.3 1163.9,152.7 1164.4,152.1 1164.9,151.6 1165.4,151.5 1165.9,152.4 1166.4,153.9 1166.9,154.2 1167.4,153.7 1167.9,153.7 1168.4,153.8 1168.9,152.6 1169.4,151.5 1169.9,151.8 1170.4,152.3 1170.9,152.2 1171.4,152.5 1171.9,154.1 1172.4,154.4 1172.9,154.4 1173.4,155.7 1173.9,155.6 1174.4,153.7 1174.9,152.6 1175.4,153.4 1175.9,153.4 1176.4,152.2 1176.9,152.9 1177.4,153.4 1177.9,152.3 1178.4,153.1 1178.9,153.7 1179.4,152.1 1179.9,151.8 1180.4,150.9 1180.9,150.4 1181.4,151.9 1181.9,153.2 1182.4,153.0 1182.9,151.1 1183.4,149.2 1183.9,149.2 1184.4,150.3 1184.9,151.0 1185.4,151.5 1185.9,152.4 1186.4,152.5 1186.9,151.2 1187.4,150.9 1187.9,151.8 1188.4,152.0 1188.9,152.7 1189.4,152.9 1189.9,152.4 1190.4,152.7 1190.9,153.3 1191.4,153.9 1191.9,154.3 1192.4,153.3 1192.9,153.2 1193.4,153.0 1193.9,152.2 1194.4,151.9 1194.9,152.3 1195.4,152.0 1195.9,151.7 1196.4,151.5 1196.9,150.7 1197.4,151.3 1197.9,152.3 1198.4,152.1 1198.9,152.3 1199.4,152.7 1199.9,151.9 1200.4,151.5 1200.9,151.6 1201.4,152.6 1201.9,153.4 1202.4,152.5 1202.9,150.3 1203.4,150.1 1203.9,151.3 1204.4,151.8 1204.9,153.3 1205.4,154.3 1205.9,154.0 1206.4,152.4 1206.9,151.8 1207.4,152.0 1207.9,151.2 1208.4,150.7 1208.9,151.6 1209.4,152.3 1209.9,150.6 1210.4,150.0 1210.9,150.2 1211.4,150.3 1211.9,151.2 1212.4,152.0 1212.9,151.7 1213.4,152.0 1213.9,152.9 1214.4,153.4 1214.9,153.8 1215.4,153.7 1215.9,153.1 1216.4,152.0 1216.9,151.8 1217.4,152.0 1217.9,151.6 1218.4,151.8 1218.9,152.7 1219.4,154.5 1219.9,154.9 1220.4,153.6 1220.9,153.3 1221.4,154.1 1221.9,154.0 1222.4,152.7 1222.9,153.2 1223.4,154.1 1223.9,153.0 1224.4,152.4 1224.9,153.3 1225.4,154.0 1225.9,154.2 1226.4,153.0 1226.9,150.6 1227.4,149.5 1227.9,150.2 1228.4,151.0 1228.9,151.4 1229.4,151.0 1229.9,151.0 1230.4,151.9 1230.9,152.6 1231.4,154.4 1231.9,156.3 1232.4,155.4 1232.9,153.7 1233.4,153.2 1233.9,152.9 1234.4,153.2 1234.9,154.3 1235.4,154.6 1235.9,153.7 1236.4,153.0 1236.9,152.8 1237.4,152.8 1237.9,153.6 1238.4,154.7 1238.9,154.6 1239.4,154.4 1239.9,154.0 1240.4,154.4 1240.9,155.3 1241.4,156.1 1241.9,155.0 1242.4,154.4 1242.9,155.4 1243.4,155.0 1243.9,153.0 1244.4,153.0 1244.9,154.2 1245.4,154.5 1245.9,154.6 1246.4,154.3 1246.9,153.6 1247.4,153.0 1247.9,153.6 1248.4,153.8 1248.9,153.0 1249.4,153.5 1249.9,154.0 1250.4,152.9 1250.9,151.5 1251.4,152.1 1251.9,153.3 1252.4,152.9 1252.9,152.4 1253.4,152.9 1253.9,153.5 1254.4,153.7 1254.9,153.2 1255.4,152.3 1255.9,151.9 1256.4,153.1 1256.9,154.1 1257.4,153.1 1257.9,152.7 1258.4,154.2 1258.9,155.2 1259.4,153.7 1259.9,152.2 1260.4,151.7 1260.9,152.4 1261.4,152.5 1261.9,151.7 1262.4,151.7 1262.9,152.2 1263.4,151.8 1263.9,151.9 1264.4,152.5 1264.9,153.3 1265.4,153.6 1265.9,153.6 1266.4,155.4 1266.9,156.2 1267.4,154.7 1267.9,153.8 1268.4,152.6 1268.9,152.1 1269.4,152.5 1269.9,153.0 1270.4,153.2 1270.9,153.7 1271.4,153.8 1271.9,152.9 1272.4,151.7 1272.9,151.5 1273.4,152.0 1273.9,152.3 1274.4,152.4 1274.9,152.1 1275.4,151.7 1275.9,151.1 1276.4,150.6 1276.9,150.7 1277.4,151.2 1277.9,151.3 1278.4,150.7 1278.9,151.7 1279.4,153.1 1279.9,153.5 1280.4,153.3 1280.9,152.5 1281.4,153.4 1281.9,154.2 1282.4,153.0 1282.9,153.1 1283.4,154.2 1283.9,154.1 1284.4,153.1 1284.9,152.9 1285.4,153.4 1285.9,153.8 1286.4,153.3 1286.9,151.9 1287.4,151.3 1287.9,151.2 1288.4,151.5 1288.9,152.4 1289.4,153.3 1289.9,153.0 1290.4,152.1 1290.9,152.2 1291.4,153.4 1291.9,153.7 1292.4,153.9 1292.9,153.8 1293.4,153.4 1293.9,152.9 1294.4,153.3 1294.9,153.8 1295.4,153.5 1295.9,153.8 1296.4,153.6 1296.9,153.5 1297.4,154.2 1297.9,153.4 1298.4,152.9 1298.9,153.7 1299.4,153.9 1299.9,153.6 1300.4,153.8 1300.9,153.5 1301.4,152.7 1301.9,152.7 1302.4,152.2 1302.9,151.2 1303.4,150.6 1303.9,151.0 1304.4,151.3 1304.9,151.3 1305.4,151.7 1305.9,151.7 1306.4,151.9 1306.9,151.6 1307.4,151.6 1307.9,152.6 1308.4,152.9 1308.9,152.5 1309.4,151.9 1309.9,152.8 1310.4,153.8 1310.9,153.9 1311.4,153.4 1311.9,153.5 1312.4,153.4 1312.9,153.4 1313.4,153.4 1313.9,154.5 1314.4,154.6 1314.9,152.6 1315.4,151.2 1315.9,151.6 1316.4,152.9 1316.9,153.6 1317.4,154.1 1317.9,154.5 1318.4,154.1 1318.9,153.4 1319.4,154.8 1319.9,156.0 1320.4,155.0 1320.9,154.3 1321.4,154.8 1321.9,155.6 1322.4,156.5 1322.9,157.3 1323.4,157.4 1323.9,156.5 1324.4,155.3 1324.9,153.6 1325.4,152.0 1325.9,152.1 1326.4,152.0 1326.9,151.7 1327.4,152.6 1327.9,154.3 1328.4,155.1 1328.9,154.8 1329.4,154.6 1329.9,153.7 1330.4,153.5 1330.9,154.5 1331.4,154.8 1331.9,153.9 1332.4,153.3 1332.9,153.8 1333.4,153.8 1333.9,154.3 1334.4,155.1 1334.9,154.8 1335.4,155.0 1335.9,155.6 1336.4,154.1 1336.9,151.9 1337.4,151.8 1337.9,152.1 1338.4,152.6 1338.9,153.4 1339.4,154.2 1339.9,154.8 1340.4,154.1 1340.9,152.7 1341.4,152.3 1341.9,153.0 1342.4,153.9 1342.9,154.6 1343.4,154.0 1343.9,153.1 1344.4,153.2 1344.9,153.8 1345.4,154.8 1345.9,155.2 1346.4,154.2 1346.9,154.2 1347.4,155.8 1347.9,157.2 1348.4,156.9 1348.9,157.0 1349.4,157.8 1349.9,156.3 1350.4,153.6 1350.9,153.1 1351.4,153.5 1351.9,153.5 1352.4,153.0 1352.9,152.9 1353.4,152.9 1353.9,153.4 1354.4,155.0 1354.9,156.1 1355.4,155.3 1355.9,153.6 1356.4,153.2 1356.9,154.0 1357.4,155.0 1357.9,155.8 1358.4,154.8 1358.9,154.0 1359.4,155.2 1359.9,155.2 1360.4,153.3 1360.9,151.3 1361.4,151.1 1361.9,153.0 1362.4,153.8 1362.9,153.1 1363.4,153.4 1363.9,154.0 1364.4,153.7 1364.9,152.9 1365.4,152.8 1365.9,153.4 1366.4,152.9 1366.9,152.7 1367.4,153.6 1367.9,153.3 1368.4,152.8 1368.9,153.7 1369.4,154.6 1369.9,155.0 1370.4,154.8 1370.9,154.7 1371.4,154.2 1371.9,153.2 1372.4,152.7 1372.9,152.5 1373.4,152.3 1373.9,152.6 1374.4,153.4 1374.9,154.0 1375.4,154.8 1375.9,154.0 1376.4,152.5 1376.9,152.1 1377.4,152.9 1377.9,153.2 1378.4,153.1 1378.9,152.5 1379.4,153.2 1379.9,153.6 1380.4,153.0 1380.9,152.8 1381.4,152.8 1381.9,153.4 1382.4,154.2 1382.9,155.0 1383.4,155.6 1383.9,156.4 1384.4,156.6 1384.9,155.7 1385.4,154.9 1385.9,155.0 1386.4,154.9 1386.9,154.5 1387.4,154.4 1387.9,154.6 1388.4,154.9 1388.9,154.4 1389.4,154.6 1389.9,155.5 1390.4,154.9 1390.9,154.5 1391.4,154.2 1391.9,154.1 1392.4,153.7 1392.9,153.1 1393.4,153.2 1393.9,154.7 1394.4,155.3 1394.9,155.8 1395.4,156.0 1395.9,155.3 1396.4,155.2 1396.9,155.1 1397.4,154.5 1397.9,153.1 1398.4,152.0 1398.9,153.1 1399.4,153.6 1399.9,153.8 1400.4,153.0 1400.9,152.4 1401.4,152.9 1401.9,155.0 1402.4,156.0 1402.9,154.7 1403.4,153.9 1403.9,154.0 1404.4,154.4 1404.9,155.2 1405.4,155.7 1405.9,155.5 1406.4,155.3 1406.9,155.3 1407.4,155.2 1407.9,154.4 1408.4,153.1 1408.9,152.7 1409.4,153.6 1409.9,154.6 1410.4,154.8 1410.9,154.2 1411.4,153.6 1411.9,154.3 1412.4,155.1 1412.9,155.5 1413.4,154.4 1413.9,153.0 1414.4,152.5 1414.9,153.3 1415.4,153.4 1415.9,153.2 1416.4,152.7 1416.9,153.3 1417.4,153.9 1417.9,153.7 1418.4,153.8 1418.9,153.9 1419.4,154.0 1419.9,155.4 1420.4,156.2 1420.9,156.3 1421.4,156.4 1421.9,156.6 1422.4,156.8 1422.9,155.5 1423.4,154.8 1423.9,155.2 1424.4,155.5 1424.9,156.0 1425.4,155.5 1425.9,154.0 1426.4,153.7 1426.9,154.6 1427.4,155.7 1427.9,155.4 1428.4,154.4 1428.9,153.8 1429.4,154.0 1429.9,153.7 1430.4,153.1 1430.9,153.1 1431.4,153.0 1431.9,153.7 1432.4,154.1 1432.9,153.5 1433.4,154.0 1433.9,154.5 1434.4,154.1 1434.9,154.9 1435.4,155.6 1435.9,155.2 1436.4,155.9 1436.9,156.4 1437.4,155.4 1437.9,153.9 1438.4,152.1 1438.9,152.0 1439.4,154.4 1439.9,156.2 1440.4,156.0 1440.9,154.8 1441.4,154.0 1441.9,154.2 1442.4,153.9 1442.9,154.1 1443.4,154.7 1443.9,154.6 1444.4,154.0 1444.9,152.1 1445.4,151.3 1445.9,151.9 1446.4,152.8 1446.9,154.6 1447.4,155.1 1447.9,154.2 1448.4,153.8 1448.9,153.8 1449.4,153.3 1449.9,153.7 1450.4,155.6 1450.9,156.6 1451.4,155.2 1451.9,153.9 1452.4,154.4 1452.9,156.6 1453.4,157.7 1453.9,156.8 1454.4,154.6 1454.9,154.1 1455.4,154.6 1455.9,154.5 1456.4,155.0 1456.9,155.6 1457.4,154.8 1457.9,154.3 1458.4,154.2 1458.9,153.8 1459.4,154.1 1459.9,154.8 1460.4,156.1 1460.9,157.1 1461.4,157.0 1461.9,157.0 1462.4,156.0 1462.9,156.1 1463.4,156.4 1463.9,155.2 1464.4,154.2 1464.9,154.7 1465.4,155.6 1465.9,155.3 1466.4,154.9 1466.9,154.8 1467.4,155.1 1467.9,155.4 1468.4,154.5 1468.9,153.6 1469.4,153.6 1469.9,154.6 1470.4,155.1 1470.9,154.1 1471.4,153.4 1471.9,153.6 1472.4,152.9 1472.9,151.8 1473.4,152.9 1473.9,153.8 1474.4,153.5 1474.9,153.5 1475.4,153.5 1475.9,152.6 1476.4,152.5 1476.9,154.2 1477.4,155.3 1477.9,155.6 1478.4,154.7 1478.9,154.4 1479.4,155.4 1479.9,156.2 1480.4,155.6 1480.9,154.5 1481.4,154.7 1481.9,154.7 1482.4,154.3 1482.9,154.2 1483.4,154.1 1483.9,154.9 1484.4,155.5 1484.9,154.7 1485.4,154.0 1485.9,154.1 1486.3,154.3" fill="none" stroke="#0000FF" stroke-width="5.3" stroke-linejoin="round" stroke-linecap="butt" clip-path="url(#cb)"/>
<polyline points="869.4,289.9 869.9,289.7 870.4,290.3 870.9,289.2 871.4,287.1 871.9,286.2 872.4,286.2 872.9,285.3 873.4,285.2 873.9,285.2 874.4,285.8 874.9,287.0 875.4,288.2 875.9,287.6 876.4,286.2 876.9,286.8 877.4,287.9 877.9,289.1 878.4,289.7 878.9,289.8 879.4,290.9 879.9,289.4 880.4,288.8 880.9,290.3 881.4,291.5 881.9,291.5 882.4,291.0 882.9,289.8 883.4,287.9 883.9,287.8 884.4,286.6 884.9,282.2 885.4,280.9 885.9,281.3 886.4,281.4 886.9,282.6 887.4,284.1 887.9,285.0 888.4,285.4 888.9,285.5 889.4,285.4 889.9,283.5 890.4,282.4 890.9,282.6 891.4,280.5 891.9,278.3 892.4,277.8 892.9,278.7 893.4,278.2 893.9,278.0 894.4,278.7 894.9,277.9 895.4,276.6 895.9,277.1 896.4,277.4 896.9,276.5 897.4,275.8 897.9,275.3 898.4,273.8 898.9,273.3 899.4,271.8 899.9,269.6 900.4,270.2 900.9,271.6 901.4,269.9 901.9,270.2 902.4,271.6 902.9,272.6 903.4,273.1 903.9,272.9 904.4,271.5 904.9,268.8 905.4,266.4 905.9,266.2 906.4,266.6 906.9,265.9 907.4,264.0 907.9,260.3 908.4,257.0 908.9,255.9 909.4,256.4 909.9,256.7 910.4,255.9 910.9,253.6 911.4,250.7 911.9,250.1 912.4,250.5 912.9,249.7 913.4,247.4 913.9,244.3 914.4,242.1 914.9,239.9 915.4,240.9 915.9,242.7 916.4,243.5 916.9,244.2 917.4,244.1 917.9,244.3 918.4,244.8 918.9,245.4 919.4,247.3 919.9,248.9 920.4,251.4 920.9,253.6 921.4,255.0 921.9,256.7 922.4,258.1 922.9,259.8 923.4,261.5 923.9,260.8 924.4,261.5 924.9,263.1 925.4,263.2 925.9,261.7 926.4,259.2 926.9,258.5 927.4,258.9 927.9,258.0 928.4,255.6 928.9,255.3 929.4,256.2 929.9,255.3 930.4,254.7 930.9,255.7 931.4,257.3 931.9,258.3 932.4,261.4 932.9,265.5 933.4,268.2 933.9,268.3 934.4,267.4 934.9,268.3 935.4,269.8 935.9,270.7 936.4,268.1 936.9,264.9 937.4,261.7 937.9,259.7 938.4,259.7 938.9,261.8 939.4,262.7 939.9,262.2 940.4,263.7 940.9,265.4 941.4,265.2 941.9,263.8 942.4,262.9 942.9,261.5 943.4,261.8 943.9,262.8 944.4,264.4 944.9,266.3 945.4,267.3 945.9,266.9 946.4,263.5 946.9,260.9 947.4,259.8 947.9,256.7 948.4,252.0 948.9,245.5 949.4,234.4 949.9,219.0 950.4,201.5 950.9,184.1 951.6,171.6 951.9,175.1 952.4,189.6 952.9,209.1 953.4,227.4 953.9,241.7 954.4,251.9 954.9,258.6 955.4,263.2 955.9,266.9 956.4,268.7 956.9,269.5 957.4,271.6 957.9,273.8 958.4,274.0 958.9,274.0 959.4,274.2 959.9,272.8 960.4,272.4 960.9,273.2 961.4,272.1 961.9,272.1 962.4,273.0 962.9,274.1 963.4,276.1 963.9,275.4 964.4,271.2 964.9,267.1 965.4,264.7 965.9,262.9 966.4,262.4 966.9,261.8 967.4,261.1 968.0,260.9 968.4,261.2 968.9,262.1 969.4,264.2 969.9,266.6 970.4,268.0 970.9,270.2 971.4,272.9 971.9,274.9 972.4,273.1 972.9,272.7 973.4,276.7 973.9,279.6 974.4,280.3 974.9,281.0 975.4,281.5 975.9,283.3 976.4,284.9 976.9,284.7 977.4,283.4 977.9,282.9 978.4,284.2 978.9,285.2 979.4,283.5 979.9,280.8 980.4,280.3 980.9,280.4 981.4,281.6 981.9,284.8 982.4,287.1 982.9,285.5 983.4,283.3 983.9,282.5 984.4,282.1 984.9,281.7 985.4,283.4 985.9,284.1 986.4,283.9 986.9,285.9 987.4,286.1 987.9,283.6 988.4,282.5 988.9,281.5 989.4,281.3 989.9,282.2 990.4,281.3 990.9,279.0 991.4,278.7 991.9,279.9 992.4,279.8 992.9,280.5 993.4,282.3 993.9,284.0 994.4,286.0 994.9,286.5 995.4,284.6 995.9,283.4 996.4,281.8 996.9,282.3 997.4,284.8 997.9,285.1 998.4,283.5 998.9,284.5 999.4,285.0 999.9,285.2 1000.4,286.4 1000.9,287.9 1001.4,287.5 1001.9,284.6 1002.4,282.1 1002.9,280.6 1003.4,279.7 1003.9,281.3 1004.4,283.4 1004.9,282.6 1005.4,282.6 1005.9,283.8 1006.4,284.2 1006.9,283.9 1007.4,284.1 1007.9,285.8 1008.4,288.2 1008.9,288.5 1009.4,287.4 1009.9,286.9 1010.4,287.9 1010.9,288.2 1011.4,287.1 1011.9,286.6 1012.4,286.9 1012.9,286.6 1013.4,286.9 1013.9,288.1 1014.4,288.7 1014.9,289.6 1015.4,291.3 1015.9,291.1 1016.4,290.6 1016.9,291.4 1017.4,291.4 1017.9,288.9 1018.4,286.2 1018.9,286.7 1019.4,288.8 1019.9,290.4 1020.4,291.4 1020.9,290.8 1021.4,290.1 1021.9,290.2 1022.4,290.1 1022.9,290.1 1023.4,290.0 1023.9,291.1 1024.4,291.3 1024.9,290.8 1025.4,289.4 1025.9,288.3 1026.4,289.1 1026.9,290.3 1027.4,290.9 1027.9,291.1 1028.4,290.8 1028.9,289.3 1029.4,288.2 1029.9,288.4 1030.4,288.8 1030.9,289.7 1031.4,290.4 1031.9,290.6 1032.4,290.8 1032.9,291.8 1033.4,292.5 1033.9,292.6 1034.4,292.6 1034.9,292.7 1035.4,292.2 1035.9,290.1 1036.4,288.1 1036.9,289.3 1037.4,290.4 1037.9,289.2 1038.4,289.6 1038.9,290.9 1039.4,292.2 1039.9,291.8 1040.4,290.6 1040.9,289.8 1041.4,290.1 1041.9,292.2 1042.4,291.8 1042.9,289.9 1043.4,289.7 1043.9,290.3 1044.4,289.7 1044.9,289.9 1045.4,291.0 1045.9,291.4 1046.4,291.8 1046.9,291.8 1047.4,291.6 1047.9,292.6 1048.4,292.0 1048.9,289.7 1049.4,289.1 1049.9,290.5 1050.4,291.0 1050.9,290.5 1051.4,290.4 1051.9,290.6 1052.4,291.0 1052.9,292.4 1053.4,294.2 1053.9,294.0 1054.4,292.2 1054.9,291.5 1055.4,291.6 1055.9,292.0 1056.4,292.9 1056.9,294.2 1057.4,293.9 1057.9,292.9 1058.4,292.8 1058.9,291.9 1059.4,291.8 1059.9,291.9 1060.4,291.1 1060.9,290.9 1061.4,291.9 1061.9,292.5 1062.4,292.8 1062.9,293.6 1063.4,293.0 1063.9,292.1 1064.4,292.3 1064.9,292.5 1065.4,293.1 1065.9,293.7 1066.4,294.3 1066.9,294.6 1067.4,293.9 1067.9,292.9 1068.4,291.4 1068.9,290.2 1069.4,290.5 1069.9,290.3 1070.4,289.5 1070.9,291.1 1071.4,292.9 1071.9,293.7 1072.4,293.7 1072.9,293.5 1073.4,292.5 1073.9,291.8 1074.4,291.7 1074.9,291.6 1075.4,292.1 1075.9,292.0 1076.4,292.4 1076.9,291.6 1077.4,290.5 1077.9,290.3 1078.4,290.8 1078.9,290.6 1079.4,289.0 1079.9,288.7 1080.4,289.7 1080.9,290.5 1081.4,292.5 1081.9,293.6 1082.4,294.1 1082.9,295.2 1083.4,293.5 1083.9,292.5 1084.4,293.9 1084.9,293.6 1085.4,292.5 1085.9,293.2 1086.4,294.9 1086.9,295.1 1087.4,293.3 1087.9,292.0 1088.4,292.7 1088.9,293.9 1089.4,294.1 1089.9,294.3 1090.4,294.9 1090.9,295.2 1091.4,294.0 1091.9,292.3 1092.4,291.1 1092.9,291.0 1093.4,290.7 1093.9,291.3 1094.4,292.1 1094.9,292.1 1095.4,291.3 1095.9,290.4 1096.4,291.4 1096.9,292.7 1097.4,293.0 1097.9,292.7 1098.4,292.4 1098.9,292.6 1099.4,292.2 1099.9,292.7 1100.4,294.3 1100.9,295.1 1101.4,293.9 1101.9,292.1 1102.4,291.8 1102.9,292.4 1103.4,293.8 1103.9,295.2 1104.4,294.4 1104.9,292.6 1105.4,292.8 1105.9,292.9 1106.4,292.4 1106.9,292.9 1107.4,293.9 1107.9,293.3 1108.4,292.3 1108.9,290.4 1109.4,289.2 1109.9,291.7 1110.4,295.0 1110.9,296.9 1111.4,296.3 1111.9,293.7 1112.4,292.7 1112.9,292.7 1113.4,292.6 1113.9,292.3 1114.4,293.0 1114.9,294.0 1115.4,294.2 1115.9,294.2 1116.4,294.0 1116.9,293.0 1117.4,292.4 1117.9,292.7 1118.4,293.3 1118.9,294.3 1119.4,294.7 1119.9,293.1 1120.4,291.1 1120.9,291.3 1121.4,293.6 1121.9,294.7 1122.4,293.5 1122.9,292.2 1123.4,294.7 1123.9,296.8 1124.4,295.1 1124.9,294.1 1125.4,294.1 1125.9,293.0 1126.4,292.9 1126.9,293.8 1127.4,293.6 1127.9,293.5 1128.4,293.0 1128.9,292.4 1129.4,292.5 1129.9,293.3 1130.4,293.3 1130.9,292.8 1131.4,292.5 1131.9,293.1 1132.4,294.6 1132.9,295.1 1133.4,294.2 1133.9,292.9 1134.4,292.7 1134.9,293.3 1135.4,295.9 1135.9,297.6 1136.4,297.0 1136.9,295.8 1137.4,294.8 1137.9,293.7 1138.4,293.5 1138.9,294.7 1139.4,294.9 1139.9,293.1 1140.4,291.9 1140.9,292.3 1141.4,292.7 1141.9,292.0 1142.4,291.0 1142.9,291.7 1143.4,294.1 1143.9,295.1 1144.4,293.6 1144.9,293.2 1145.4,293.5 1145.9,293.9 1146.4,294.4 1146.9,294.7 1147.4,293.8 1147.9,293.0 1148.4,293.4 1148.9,294.2 1149.4,294.9 1149.9,295.1 1150.4,294.8 1150.9,294.2 1151.4,293.7 1151.9,293.8 1152.4,294.8 1152.9,296.1 1153.4,295.8 1153.9,294.1 1154.4,293.6 1154.9,294.6 1155.4,295.2 1155.9,293.8 1156.4,292.4 1156.9,291.6 1157.4,292.6 1157.9,293.3 1158.4,294.2 1158.9,294.3 1159.4,292.3 1159.9,291.6 1160.4,293.3 1160.9,294.4 1161.4,295.6 1161.9,295.7 1162.4,293.5 1162.9,291.9 1163.4,291.6 1163.9,291.5 1164.4,292.8 1164.9,293.9 1165.4,292.6 1165.9,291.9 1166.4,293.1 1166.9,293.1 1167.4,291.9 1167.9,292.6 1168.4,293.5 1168.9,293.8 1169.4,293.2 1169.9,293.0 1170.4,294.3 1170.9,296.5 1171.4,296.8 1171.9,296.2 1172.4,296.0 1172.9,296.0 1173.4,296.7 1173.9,297.5 1174.4,298.5 1174.9,297.9 1175.4,296.2 1175.9,293.7 1176.4,292.8 1176.9,292.6 1177.4,292.4 1177.9,293.1 1178.4,293.7 1178.9,294.2 1179.4,295.2 1179.9,294.9 1180.4,294.1 1180.9,293.2 1181.4,293.4 1181.9,293.5 1182.4,294.2 1182.9,295.6 1183.4,295.1 1183.9,293.7 1184.4,293.8 1184.9,294.8 1185.4,294.6 1185.9,295.3 1186.4,296.9 1186.9,297.0 1187.4,295.6 1187.9,294.9 1188.4,294.7 1188.9,294.6 1189.4,295.3 1189.9,296.2 1190.4,296.0 1190.9,295.4 1191.4,295.5 1191.9,295.9 1192.4,295.5 1192.9,295.1 1193.4,294.3 1193.9,294.6 1194.4,295.2 1194.9,295.1 1195.4,295.5 1195.9,295.5 1196.4,295.4 1196.9,295.9 1197.4,295.7 1197.9,295.2 1198.4,295.6 1198.9,295.6 1199.4,294.1 1199.9,293.9 1200.4,294.8 1200.9,294.1 1201.4,292.8 1201.9,292.2 1202.4,293.5 1202.9,294.2 1203.4,294.0 1203.9,294.3 1204.4,294.2 1204.9,295.3 1205.4,297.3 1205.9,297.7 1206.4,296.9 1206.9,296.3 1207.4,295.4 1207.9,294.6 1208.4,293.6 1208.9,293.9 1209.4,293.7 1209.9,293.2 1210.4,293.5 1210.9,293.9 1211.4,294.3 1211.9,294.3 1212.4,293.3 1212.9,292.9 1213.4,293.4 1213.9,293.7 1214.4,293.7 1214.9,293.8 1215.4,294.5 1215.9,294.7 1216.4,295.6 1216.9,295.7 1217.4,295.1 1217.9,296.0 1218.4,296.5 1218.9,295.6 1219.4,294.8 1219.9,294.6 1220.4,295.5 1220.9,296.3 1221.4,297.1 1221.9,296.7 1222.4,295.4 1222.9,295.1 1223.4,296.4 1223.9,296.8 1224.4,296.1 1224.9,296.1 1225.4,295.6 1225.9,294.4 1226.4,294.0 1226.9,294.9 1227.4,295.4 1227.9,294.5 1228.4,294.3 1228.9,294.1 1229.4,293.5 1229.9,293.6 1230.4,295.2 1230.9,296.0 1231.4,294.9 1231.9,294.1 1232.4,294.7 1232.9,295.0 1233.4,294.9 1233.9,294.6 1234.4,295.2 1234.9,295.5 1235.4,295.9 1235.9,295.3 1236.4,294.6 1236.9,295.1 1237.4,296.0 1237.9,296.5 1238.4,295.7 1238.9,293.9 1239.4,293.5 1239.9,293.2 1240.4,292.7 1240.9,294.0 1241.4,295.2 1241.9,295.1 1242.4,295.0 1242.9,295.1 1243.4,295.1 1243.9,295.4 1244.4,296.8 1244.9,297.3 1245.4,297.4 1245.9,297.8 1246.4,296.8 1246.9,294.7 1247.4,293.2 1247.9,294.3 1248.4,296.9 1248.9,297.8 1249.4,296.9 1249.9,296.4 1250.4,295.5 1250.9,294.9 1251.4,294.8 1251.9,294.9 1252.4,295.3 1252.9,295.6 1253.4,296.1 1253.9,297.5 1254.4,296.5 1254.9,293.8 1255.4,294.2 1255.9,296.1 1256.4,295.4 1256.9,294.9 1257.4,295.8 1257.9,297.0 1258.4,296.1 1258.9,296.6 1259.4,296.5 1259.9,295.3 1260.4,294.5 1260.9,293.5 1261.4,293.6 1261.9,296.4 1262.4,298.3 1262.9,297.6 1263.4,297.4 1263.9,296.8 1264.4,295.0 1264.9,294.1 1265.4,294.3 1265.9,295.2 1266.4,296.0 1266.9,297.4 1267.4,297.3 1267.9,296.1 1268.4,296.3 1268.9,296.3 1269.4,295.7 1269.9,295.6 1270.4,295.3 1270.9,295.0 1271.4,296.0 1271.9,295.5 1272.4,295.1 1272.9,295.5 1273.4,296.0 1273.9,297.7 1274.4,298.3 1274.9,298.1 1275.4,299.0 1275.9,298.8 1276.4,296.2 1276.9,294.0 1277.4,294.0 1277.9,296.0 1278.4,298.0 1278.9,298.6 1279.4,298.9 1279.9,299.4 1280.4,298.3 1280.9,297.0 1281.4,295.6 1281.9,295.5 1282.4,296.5 1282.9,296.3 1283.4,295.2 1283.9,296.0 1284.4,296.3 1284.9,296.7 1285.4,295.9 1285.9,294.8 1286.4,296.1 1286.9,298.1 1287.4,297.2 1287.9,295.4 1288.4,294.6 1288.9,295.8 1289.4,298.6 1289.9,300.3 1290.4,300.0 1290.9,297.9 1291.4,295.8 1291.9,295.6 1292.4,296.5 1292.9,295.4 1293.4,294.2 1293.9,294.8 1294.4,296.2 1294.9,297.2 1295.4,297.5 1295.9,298.1 1296.4,297.7 1296.9,295.4 1297.4,292.6 1297.9,292.5 1298.4,295.2 1298.9,297.5 1299.4,297.5 1299.9,295.9 1300.4,296.5 1300.9,297.6 1301.4,297.6 1301.9,296.8 1302.4,296.0 1302.9,296.2 1303.4,297.0 1303.9,297.0 1304.4,295.7 1304.9,295.0 1305.4,295.1 1305.9,294.9 1306.4,294.8 1306.9,296.8 1307.4,296.9 1307.9,295.7 1308.4,295.7 1308.9,295.8 1309.4,295.9 1309.9,297.6 1310.4,300.2 1310.9,299.4 1311.4,295.9 1311.9,295.5 1312.4,295.8 1312.9,295.0 1313.4,295.0 1313.9,295.3 1314.4,294.7 1314.9,293.7 1315.4,294.5 1315.9,296.9 1316.4,298.1 1316.9,298.1 1317.4,297.2 1317.9,296.1 1318.4,296.3 1318.9,296.6 1319.4,297.1 1319.9,297.1 1320.4,297.1 1320.9,297.3 1321.4,298.2 1321.9,297.8 1322.4,296.9 1322.9,296.7 1323.4,298.0 1323.9,298.7 1324.4,297.9 1324.9,296.4 1325.4,296.3 1325.9,296.2 1326.4,296.1 1326.9,296.4 1327.4,296.6 1327.9,296.7 1328.4,295.2 1328.9,294.5 1329.4,295.2 1329.9,295.9 1330.4,294.8 1330.9,294.4 1331.4,296.3 1331.9,297.4 1332.4,296.7 1332.9,296.4 1333.4,296.5 1333.9,296.8 1334.4,296.4 1334.9,295.9 1335.4,297.4 1335.9,298.0 1336.4,298.2 1336.9,297.6 1337.4,296.9 1337.9,297.3 1338.4,296.2 1338.9,295.7 1339.4,297.6 1339.9,299.4 1340.4,297.7 1340.9,294.6 1341.4,294.7 1341.9,295.8 1342.4,295.5 1342.9,295.0 1343.4,295.0 1343.9,295.9 1344.4,297.4 1344.9,296.8 1345.4,295.7 1345.9,296.8 1346.4,297.8 1346.9,297.3 1347.4,296.7 1347.9,295.7 1348.4,297.0 1348.9,298.9 1349.4,297.4 1349.9,296.1 1350.4,297.1 1350.9,297.3 1351.4,297.2 1351.9,296.0 1352.4,295.6 1352.9,297.1 1353.4,296.3 1353.9,295.5 1354.4,297.1 1354.9,298.7 1355.4,300.0 1355.9,299.4 1356.4,296.9 1356.9,294.4 1357.4,294.0 1357.9,294.8 1358.4,295.3 1358.9,297.0 1359.4,298.7 1359.9,299.4 1360.4,300.0 1360.9,299.6 1361.4,298.2 1361.9,296.6 1362.4,295.9 1362.9,296.3 1363.4,297.3 1363.9,297.8 1364.4,296.4 1364.9,294.8 1365.4,294.2 1365.9,294.4 1366.4,296.3 1366.9,299.0 1367.4,299.4 1367.9,298.3 1368.4,297.6 1368.9,296.5 1369.4,295.4 1369.9,295.5 1370.4,297.3 1370.9,298.9 1371.4,298.9 1371.9,297.8 1372.4,297.1 1372.9,296.5 1373.4,296.7 1373.9,296.8 1374.4,296.3 1374.9,295.5 1375.4,296.2 1375.9,296.8 1376.4,297.5 1376.9,298.8 1377.4,299.4 1377.9,299.7 1378.4,299.2 1378.9,297.7 1379.4,296.8 1379.9,295.6 1380.4,295.5 1380.9,295.4 1381.4,296.0 1381.9,297.6 1382.4,298.6 1382.9,298.7 1383.4,298.7 1383.9,298.2 1384.4,297.6 1384.9,297.4 1385.4,296.8 1385.9,296.8 1386.4,297.8 1386.9,296.8 1387.4,295.1 1387.9,295.5 1388.4,297.2 1388.9,297.6 1389.4,297.4 1389.9,297.3 1390.4,296.6 1390.9,295.9 1391.4,296.0 1391.9,297.6 1392.4,298.1 1392.9,296.5 1393.4,296.1 1393.9,297.3 1394.4,298.0 1394.9,297.6 1395.4,296.8 1395.9,296.7 1396.4,296.8 1396.9,296.7 1397.4,296.2 1397.9,296.2 1398.4,296.6 1398.9,297.3 1399.4,296.4 1399.9,296.9 1400.4,298.0 1400.9,297.7 1401.4,297.1 1401.9,296.9 1402.4,298.4 1402.9,299.6 1403.4,299.2 1403.9,298.6 1404.4,299.0 1404.9,298.7 1405.4,297.8 1405.9,297.6 1406.4,298.5 1406.9,298.3 1407.4,297.0 1407.9,296.4 1408.4,296.3 1408.9,296.4 1409.4,298.1 1409.9,299.2 1410.4,299.1 1410.9,299.4 1411.4,300.9 1411.9,300.8 1412.4,300.6 1412.9,300.3 1413.4,299.5 1413.9,298.6 1414.4,298.6 1414.9,297.1 1415.4,296.0 1415.9,297.5 1416.4,299.5 1416.9,299.5 1417.4,298.3 1417.9,297.8 1418.4,298.7 1418.9,298.4 1419.4,297.6 1419.9,297.7 1420.4,297.0 1420.9,296.7 1421.4,297.5 1421.9,297.6 1422.4,297.5 1422.9,298.3 1423.4,297.7 1423.9,297.1 1424.4,296.4 1424.9,296.0 1425.4,296.1 1425.9,296.3 1426.4,297.1 1426.9,297.3 1427.4,297.0 1427.9,297.9 1428.4,298.2 1428.9,297.8 1429.4,298.1 1429.9,298.6 1430.4,298.7 1430.9,297.9 1431.4,297.0 1431.9,296.7 1432.4,297.2 1432.9,297.8 1433.4,297.8 1433.9,296.8 1434.4,296.4 1434.9,297.7 1435.4,300.3 1435.9,300.6 1436.4,297.4 1436.9,295.1 1437.4,295.3 1437.9,296.9 1438.4,298.1 1438.9,298.3 1439.4,298.2 1439.9,298.7 1440.4,300.2 1440.9,301.3 1441.4,300.1 1441.9,298.8 1442.4,298.1 1442.9,298.4 1443.4,299.6 1443.9,300.2 1444.4,298.3 1444.9,297.2 1445.4,297.6 1445.9,298.6 1446.4,298.5 1446.9,298.0 1447.4,298.5 1447.9,298.8 1448.4,298.5 1448.9,298.4 1449.4,298.8 1449.9,298.7 1450.4,298.4 1450.9,298.0 1451.4,297.5 1451.9,297.4 1452.4,297.3 1452.9,297.2 1453.4,297.2 1453.9,296.9 1454.4,297.2 1454.9,296.9 1455.4,296.8 1455.9,297.6 1456.4,298.4 1456.9,298.4 1457.4,297.1 1457.9,296.6 1458.4,298.0 1458.9,298.6 1459.4,297.9 1459.9,299.1 1460.4,299.9 1460.9,299.0 1461.4,298.8 1461.9,298.2 1462.4,297.3 1462.9,297.0 1463.4,296.8 1463.9,296.7 1464.4,297.4 1464.9,298.8 1465.4,300.8 1465.9,300.8 1466.4,299.4 1466.9,299.2 1467.4,300.9 1467.9,302.3 1468.4,301.7 1468.9,300.5 1469.4,299.0 1469.9,296.2 1470.4,295.5 1470.9,296.6 1471.4,296.9 1471.9,297.2 1472.4,297.5 1472.9,297.9 1473.4,298.0 1473.9,297.7 1474.4,298.2 1474.9,299.1 1475.4,298.7 1475.9,297.9 1476.4,297.2 1476.9,296.5 1477.4,297.0 1477.9,297.8 1478.4,297.1 1478.9,297.0 1479.4,297.3 1479.9,297.6 1480.4,299.4 1480.9,301.5 1481.4,300.8 1481.9,298.1 1482.4,296.7 1482.9,297.6 1483.4,297.8 1483.9,297.8 1484.4,298.4 1484.9,298.1 1485.4,298.5 1485.9,299.2 1486.3,298.7" fill="none" stroke="#FF0000" stroke-width="5.5" stroke-linejoin="round" stroke-linecap="butt" clip-path="url(#cb)"/>
<polyline points="869.4,442.8 869.9,442.0 870.4,441.2 870.9,441.7 871.4,441.1 871.9,439.1 872.4,438.5 872.9,438.7 873.4,440.8 873.9,443.9 874.4,444.1 874.9,443.8 875.4,443.0 875.9,441.2 876.4,439.4 876.9,439.9 877.4,442.4 877.9,442.8 878.4,440.2 878.9,439.5 879.4,440.5 879.9,441.2 880.4,440.7 880.9,440.1 881.4,439.3 881.9,439.2 882.4,441.4 882.9,443.5 883.4,442.3 883.9,441.0 884.4,442.1 884.9,442.4 885.4,442.8 885.9,442.7 886.4,439.6 886.9,435.9 887.4,434.0 887.9,435.5 888.4,436.6 888.9,435.8 889.4,435.4 889.9,435.3 890.4,434.1 890.9,432.3 891.4,430.8 891.9,429.4 892.4,426.6 893.0,423.6 893.4,424.7 893.9,428.8 894.4,433.2 894.9,436.2 895.4,437.5 895.9,437.1 896.4,435.4 896.9,434.4 897.4,434.6 897.9,433.7 898.4,433.6 898.9,433.9 899.4,432.3 899.9,430.7 900.4,430.7 900.9,429.9 901.4,429.6 901.9,430.6 902.4,431.5 902.9,430.9 903.4,427.4 903.9,426.3 904.4,427.4 904.9,427.5 905.4,426.5 905.9,426.1 906.4,424.2 906.9,422.1 907.4,421.5 907.9,421.1 908.4,419.8 908.9,418.2 909.4,417.8 909.9,418.5 910.4,418.9 910.9,417.8 911.4,414.3 911.9,413.0 912.4,413.9 912.9,411.3 913.4,406.8 913.9,403.0 914.4,401.1 914.9,399.6 915.4,398.7 915.9,397.8 916.4,395.5 916.9,393.6 917.4,392.5 917.9,393.4 918.4,395.1 918.9,397.3 919.4,398.5 919.9,400.9 920.4,401.8 920.9,403.8 921.4,408.4 921.9,411.4 922.4,411.7 922.9,411.4 923.4,412.3 923.9,415.4 924.4,416.9 924.9,416.3 925.4,418.1 925.9,418.9 926.4,417.3 926.9,418.7 927.4,420.4 927.9,421.1 928.4,422.3 928.9,423.5 929.4,426.2 929.9,427.6 930.4,425.8 930.9,423.8 931.4,425.0 931.9,429.7 932.4,431.4 932.9,429.6 933.4,429.2 933.9,430.6 934.4,431.4 934.9,430.5 935.4,430.2 935.9,429.8 936.4,431.1 936.9,432.2 937.4,433.0 937.9,431.2 938.4,427.7 938.9,425.4 939.4,426.0 939.9,429.1 940.4,430.0 940.9,428.8 941.4,429.6 941.9,432.9 942.4,435.0 942.9,436.2 943.4,437.7 943.9,438.2 944.4,436.9 944.9,435.1 945.4,432.7 945.9,430.2 946.4,428.3 946.9,427.5 947.4,426.4 947.9,425.3 948.4,424.9 948.9,424.0 949.4,423.2 949.9,422.8 950.4,421.0 950.9,417.8 951.4,414.9 951.9,408.8 952.4,397.0 952.9,378.8 953.4,353.6 953.9,327.5 954.4,315.6 954.9,329.0 955.4,357.2 955.9,384.4 956.4,403.1 956.9,414.6 957.4,423.2 957.9,428.6 958.4,431.5 958.9,433.3 959.4,435.5 959.9,435.8 960.4,434.4 960.9,434.2 961.4,434.2 961.9,434.3 962.4,436.0 962.9,437.5 963.4,439.4 963.9,440.9 964.4,441.7 964.9,440.0 965.4,436.7 965.9,436.1 966.4,436.3 966.9,436.2 967.4,437.1 967.9,435.9 968.4,432.6 968.9,429.7 969.4,426.0 969.9,421.9 970.4,418.9 971.0,417.1 971.4,417.4 971.9,419.6 972.4,423.0 972.9,427.3 973.4,431.4 973.9,434.1 974.4,437.6 974.9,438.9 975.4,436.4 975.9,436.1 976.4,438.3 976.9,438.8 977.4,438.8 977.9,440.4 978.4,441.9 978.9,441.8 979.4,439.9 979.9,439.5 980.4,440.8 980.9,442.4 981.4,442.7 981.9,442.2 982.4,443.6 982.9,445.6 983.4,444.9 983.9,444.0 984.4,444.1 984.9,445.3 985.4,446.9 985.9,447.7 986.4,448.9 986.9,449.4 987.4,448.0 987.9,446.1 988.4,446.1 988.9,446.8 989.4,446.0 989.9,445.0 990.4,444.2 990.9,443.1 991.4,443.3 991.9,443.8 992.4,442.9 992.9,442.8 993.4,444.8 993.9,445.4 994.4,444.0 994.9,443.6 995.4,445.0 995.9,443.9 996.4,440.7 996.9,438.8 997.4,437.4 997.9,438.1 998.4,441.5 998.9,441.7 999.4,439.7 999.9,441.2 1000.4,443.5 1000.9,445.7 1001.4,447.9 1001.9,448.5 1002.4,447.4 1002.9,446.9 1003.4,448.1 1003.9,448.0 1004.4,445.1 1004.9,444.2 1005.4,445.1 1005.9,445.7 1006.4,447.4 1006.9,449.5 1007.4,449.9 1007.9,449.4 1008.4,449.2 1008.9,449.5 1009.4,450.0 1009.9,448.8 1010.4,447.5 1010.9,448.1 1011.4,450.1 1011.9,451.5 1012.4,450.9 1012.9,451.5 1013.4,453.7 1013.9,454.0 1014.4,454.2 1014.9,454.0 1015.4,452.6 1015.9,451.1 1016.4,450.9 1016.9,450.0 1017.4,449.5 1017.9,450.4 1018.4,450.8 1018.9,451.1 1019.4,450.3 1019.9,448.2 1020.4,448.0 1020.9,447.2 1021.4,447.3 1021.9,449.0 1022.4,448.8 1022.9,448.2 1023.4,450.4 1023.9,453.1 1024.4,454.8 1024.9,454.4 1025.4,452.1 1025.9,450.6 1026.4,452.3 1026.9,454.7 1027.4,455.9 1027.9,455.6 1028.4,454.0 1028.9,452.2 1029.4,450.3 1029.9,449.6 1030.4,449.1 1030.9,446.2 1031.6,441.8 1031.9,442.0 1032.4,445.4 1032.9,448.4 1033.4,450.5 1033.9,451.9 1034.4,450.4 1034.9,449.2 1035.4,450.0 1035.9,451.3 1036.4,452.7 1036.9,454.4 1037.4,455.6 1037.9,454.9 1038.4,452.1 1038.9,449.7 1039.4,449.3 1039.9,448.9 1040.4,449.3 1040.9,450.2 1041.4,451.1 1041.9,451.8 1042.4,449.8 1042.9,447.8 1043.4,447.8 1043.9,447.9 1044.4,446.7 1044.9,446.8 1045.4,447.3 1045.9,447.1 1046.4,446.5 1046.9,447.9 1047.4,449.1 1047.9,448.9 1048.4,449.2 1048.9,448.5 1049.4,447.9 1049.9,448.3 1050.4,449.8 1050.9,450.3 1051.4,449.6 1051.9,448.8 1052.4,448.3 1052.9,448.6 1053.4,446.7 1053.9,444.2 1054.4,443.7 1054.9,443.5 1055.4,443.0 1055.9,445.0 1056.4,448.7 1056.9,450.3 1057.4,451.9 1057.9,453.0 1058.4,451.1 1058.9,449.1 1059.4,449.1 1059.9,449.3 1060.4,450.7 1060.9,451.5 1061.4,450.7 1061.9,447.9 1062.4,446.4 1062.9,448.1 1063.4,448.9 1063.9,447.8 1064.4,446.6 1064.9,446.5 1065.4,447.4 1065.9,448.1 1066.4,447.7 1066.9,448.9 1067.4,450.5 1067.9,450.1 1068.4,449.2 1068.9,449.5 1069.4,450.6 1069.9,450.5 1070.4,450.4 1070.9,452.6 1071.4,452.5 1071.9,450.7 1072.4,449.4 1072.9,450.0 1073.4,451.2 1073.9,449.9 1074.4,447.2 1074.9,446.9 1075.4,447.8 1075.9,449.1 1076.4,451.4 1076.9,451.1 1077.4,448.4 1077.9,447.0 1078.4,447.8 1078.9,448.1 1079.4,447.6 1079.9,447.7 1080.4,448.9 1080.9,449.7 1081.4,450.5 1081.9,450.1 1082.4,449.0 1082.9,448.6 1083.4,448.4 1083.9,448.3 1084.4,448.3 1084.9,448.1 1085.4,447.4 1085.9,448.6 1086.4,449.9 1086.9,450.0 1087.4,449.4 1087.9,450.1 1088.4,450.8 1088.9,450.5 1089.4,450.3 1089.9,450.0 1090.4,449.5 1090.9,448.9 1091.4,448.9 1091.9,450.2 1092.4,451.6 1092.9,452.0 1093.4,451.6 1093.9,452.3 1094.4,451.1 1094.9,448.7 1095.4,449.9 1095.9,451.9 1096.4,452.0 1096.9,452.3 1097.4,452.1 1097.9,451.2 1098.4,451.4 1098.9,451.8 1099.4,451.1 1099.9,449.0 1100.4,448.9 1100.9,449.7 1101.4,450.8 1101.9,451.9 1102.4,452.0 1102.9,452.0 1103.4,452.0 1103.9,451.6 1104.4,452.0 1104.9,451.3 1105.4,450.5 1105.9,451.4 1106.4,452.0 1106.9,451.2 1107.4,450.4 1107.9,452.1 1108.4,454.8 1108.9,454.5 1109.4,452.0 1109.9,451.0 1110.4,450.5 1110.9,449.8 1111.4,450.5 1111.9,453.0 1112.4,455.3 1112.9,456.2 1113.4,456.6 1113.9,455.8 1114.4,453.3 1114.9,451.5 1115.4,450.9 1115.9,452.0 1116.4,453.8 1116.9,453.9 1117.4,452.2 1117.9,451.7 1118.4,452.0 1118.9,451.6 1119.4,451.4 1119.9,452.4 1120.4,452.6 1120.9,452.1 1121.4,451.9 1121.9,452.0 1122.4,452.0 1122.9,452.9 1123.4,453.9 1123.9,453.6 1124.4,453.2 1124.9,452.2 1125.4,450.5 1125.9,450.6 1126.4,452.2 1126.9,452.4 1127.4,451.8 1127.9,451.2 1128.4,451.9 1128.9,455.3 1129.4,457.6 1129.9,455.8 1130.4,452.9 1130.9,452.4 1131.4,452.7 1131.9,452.1 1132.4,452.8 1132.9,454.4 1133.4,454.7 1133.9,452.7 1134.4,451.8 1134.9,450.7 1135.4,450.4 1135.9,451.5 1136.4,451.4 1136.9,452.5 1137.4,454.1 1137.9,454.0 1138.4,453.9 1138.9,454.1 1139.4,453.2 1139.9,453.2 1140.4,454.4 1140.9,453.6 1141.4,451.7 1141.9,451.0 1142.4,452.1 1142.9,453.4 1143.4,453.2 1143.9,454.1 1144.4,455.6 1144.9,454.9 1145.4,453.1 1145.9,452.4 1146.4,451.4 1146.9,451.9 1147.4,451.8 1147.9,451.8 1148.4,452.2 1148.9,452.7 1149.4,453.4 1149.9,454.5 1150.4,455.5 1150.9,454.1 1151.4,452.7 1151.9,452.8 1152.4,452.8 1152.9,453.0 1153.4,453.3 1153.9,454.1 1154.4,455.2 1154.9,456.3 1155.4,456.7 1155.9,455.6 1156.4,453.8 1156.9,452.5 1157.4,452.9 1157.9,454.3 1158.4,453.9 1158.9,453.6 1159.4,454.7 1159.9,456.2 1160.4,456.7 1160.9,455.2 1161.4,453.6 1161.9,454.0 1162.4,454.0 1162.9,454.0 1163.4,454.6 1163.9,453.9 1164.4,453.7 1164.9,454.2 1165.4,454.4 1165.9,454.3 1166.4,453.8 1166.9,453.1 1167.4,453.1 1167.9,453.8 1168.4,454.6 1168.9,454.5 1169.4,453.0 1169.9,452.1 1170.4,452.0 1170.9,454.3 1171.4,455.0 1171.9,453.6 1172.4,453.2 1172.9,453.3 1173.4,453.3 1173.9,454.3 1174.4,454.5 1174.9,453.4 1175.4,453.3 1175.9,454.0 1176.4,454.5 1176.9,453.1 1177.4,453.1 1177.9,454.0 1178.4,453.8 1178.9,453.3 1179.4,453.5 1179.9,453.4 1180.4,453.0 1180.9,452.0 1181.4,452.9 1181.9,455.5 1182.4,457.0 1182.9,456.5 1183.4,455.9 1183.9,457.4 1184.4,457.7 1184.9,457.7 1185.4,456.0 1185.9,454.1 1186.4,454.2 1186.9,454.3 1187.4,453.9 1187.9,453.6 1188.4,453.9 1188.9,453.9 1189.4,453.6 1189.9,453.8 1190.4,453.2 1190.9,452.4 1191.4,452.6 1191.9,453.7 1192.4,453.1 1192.9,451.7 1193.4,452.3 1193.9,453.9 1194.4,454.3 1194.9,453.9 1195.4,453.5 1195.9,454.0 1196.4,454.9 1196.9,455.5 1197.4,455.9 1197.9,456.2 1198.4,455.7 1198.9,456.0 1199.4,455.9 1199.9,454.3 1200.4,454.9 1200.9,456.4 1201.4,456.0 1201.9,456.4 1202.4,458.3 1202.9,458.4 1203.4,456.6 1203.9,455.4 1204.4,455.5 1204.9,455.8 1205.4,456.0 1205.9,454.1 1206.4,452.4 1206.9,452.5 1207.4,454.3 1207.9,455.8 1208.4,455.7 1208.9,455.8 1209.4,455.6 1209.9,455.3 1210.4,455.2 1210.9,454.8 1211.4,454.9 1211.9,456.1 1212.4,457.0 1212.9,457.1 1213.4,456.5 1213.9,456.0 1214.4,455.6 1214.9,455.3 1215.4,454.1 1215.9,454.1 1216.4,455.7 1216.9,455.9 1217.4,455.7 1217.9,455.3 1218.4,454.0 1218.9,452.5 1219.4,453.2 1219.9,454.2 1220.4,454.1 1220.9,454.1 1221.4,454.0 1221.9,454.5 1222.4,454.6 1222.9,453.3 1223.4,452.7 1223.9,454.3 1224.4,455.2 1224.9,454.9 1225.4,454.3 1225.9,454.1 1226.4,455.1 1226.9,455.9 1227.4,455.6 1227.9,453.9 1228.4,451.8 1228.9,451.9 1229.4,454.2 1229.9,456.0 1230.4,455.5 1230.9,455.2 1231.4,455.2 1231.9,455.2 1232.4,454.7 1232.9,454.0 1233.4,455.0 1233.9,455.5 1234.4,454.0 1234.9,453.9 1235.4,454.7 1235.9,454.9 1236.4,454.5 1236.9,454.8 1237.4,456.7 1237.9,457.3 1238.4,457.2 1238.9,456.8 1239.4,455.8 1239.9,455.4 1240.4,454.8 1240.9,455.1 1241.4,456.4 1241.9,457.0 1242.4,456.1 1242.9,455.5 1243.4,456.4 1243.9,457.4 1244.4,455.7 1244.9,454.2 1245.4,455.8 1245.9,455.9 1246.4,453.6 1246.9,452.5 1247.4,453.8 1247.9,454.9 1248.4,453.9 1248.9,453.8 1249.4,456.5 1249.9,457.6 1250.4,455.8 1250.9,455.1 1251.4,455.0 1251.9,454.6 1252.4,454.5 1252.9,455.5 1253.4,456.4 1253.9,454.8 1254.4,452.2 1254.9,452.1 1255.4,454.0 1255.9,456.1 1256.4,457.6 1256.9,458.4 1257.4,456.6 1257.9,453.8 1258.4,454.2 1258.9,456.1 1259.4,456.1 1259.9,455.3 1260.4,456.0 1260.9,456.3 1261.4,455.4 1261.9,455.3 1262.4,455.9 1262.9,455.3 1263.4,456.1 1263.9,457.1 1264.4,455.5 1264.9,453.8 1265.4,453.9 1265.9,453.7 1266.4,453.9 1266.9,454.8 1267.4,456.2 1267.9,456.2 1268.4,454.3 1268.9,453.8 1269.4,455.7 1269.9,457.8 1270.4,456.9 1270.9,454.6 1271.4,454.4 1271.9,454.8 1272.4,455.3 1272.9,455.8 1273.4,456.4 1273.9,457.9 1274.4,458.4 1274.9,455.9 1275.4,454.7 1275.9,455.6 1276.4,455.9 1276.9,455.5 1277.4,453.8 1277.9,452.9 1278.4,453.1 1278.9,453.4 1279.4,454.5 1279.9,455.2 1280.4,454.1 1280.9,454.2 1281.4,455.3 1281.9,455.2 1282.4,455.5 1282.9,456.4 1283.4,456.5 1283.9,455.4 1284.4,453.9 1284.9,453.4 1285.4,455.2 1285.9,456.7 1286.4,455.9 1286.9,454.4 1287.4,455.2 1287.9,456.0 1288.4,454.8 1288.9,453.0 1289.4,452.5 1289.9,453.8 1290.4,456.6 1290.9,457.6 1291.4,455.3 1291.9,453.2 1292.4,453.8 1292.9,455.4 1293.4,455.8 1293.9,455.3 1294.4,454.3 1294.9,454.7 1295.4,455.2 1295.9,456.2 1296.4,457.5 1296.9,458.4 1297.4,459.1 1297.9,457.8 1298.4,455.8 1298.9,454.5 1299.4,454.5 1299.9,454.4 1300.4,455.1 1300.9,455.4 1301.4,455.6 1301.9,455.1 1302.4,454.2 1302.9,454.0 1303.4,455.6 1303.9,457.4 1304.4,457.2 1304.9,457.5 1305.4,458.9 1305.9,458.5 1306.4,455.9 1306.9,453.5 1307.4,453.7 1307.9,455.8 1308.4,456.4 1308.9,457.6 1309.4,458.7 1309.9,459.3 1310.4,460.1 1310.9,458.9 1311.4,456.7 1311.9,455.6 1312.4,454.8 1312.9,454.5 1313.4,456.3 1313.9,457.2 1314.4,456.9 1314.9,455.7 1315.4,454.8 1315.9,454.7 1316.4,455.1 1316.9,455.2 1317.4,456.8 1317.9,458.0 1318.4,457.2 1318.9,455.9 1319.4,455.6 1319.9,455.6 1320.4,456.5 1320.9,457.3 1321.4,456.0 1321.9,454.4 1322.4,455.1 1322.9,456.9 1323.4,457.1 1323.9,456.1 1324.4,454.9 1324.9,454.2 1325.4,454.6 1325.9,455.9 1326.4,456.5 1326.9,457.1 1327.4,456.8 1327.9,456.5 1328.4,455.6 1328.9,455.2 1329.4,456.0 1329.9,455.9 1330.4,455.7 1330.9,456.6 1331.4,456.6 1331.9,456.5 1332.4,457.5 1332.9,456.3 1333.4,454.9 1333.9,456.1 1334.4,455.9 1334.9,454.6 1335.4,454.9 1335.9,456.5 1336.4,456.4 1336.9,454.6 1337.4,454.1 1337.9,454.7 1338.4,455.4 1338.9,454.1 1339.4,454.0 1339.9,455.9 1340.4,457.4 1340.9,457.2 1341.4,456.7 1341.9,456.0 1342.4,455.8 1342.9,456.2 1343.4,456.1 1343.9,455.7 1344.4,455.4 1344.9,456.3 1345.4,457.1 1345.9,456.9 1346.4,455.6 1346.9,454.4 1347.4,454.7 1347.9,455.3 1348.4,456.1 1348.9,456.7 1349.4,457.4 1349.9,458.6 1350.4,458.5 1350.9,456.7 1351.4,454.7 1351.9,453.6 1352.4,455.0 1352.9,456.8 1353.4,459.3 1353.9,459.7 1354.4,457.0 1354.9,455.3 1355.4,454.7 1355.9,455.4 1356.4,456.8 1356.9,456.4 1357.4,455.9 1357.9,456.9 1358.4,458.0 1358.9,457.0 1359.4,455.1 1359.9,455.7 1360.4,456.8 1360.9,457.5 1361.4,457.3 1361.9,456.8 1362.4,456.5 1362.9,456.3 1363.4,455.5 1363.9,455.6 1364.4,455.0 1364.9,455.2 1365.4,455.7 1365.9,454.6 1366.4,454.3 1366.9,455.0 1367.4,456.6 1367.9,459.3 1368.4,460.7 1368.9,459.5 1369.4,457.9 1369.9,455.7 1370.4,454.5 1370.9,453.0 1371.4,452.0 1371.9,453.5 1372.4,455.6 1372.9,458.5 1373.4,459.8 1373.9,459.1 1374.4,458.5 1374.9,457.6 1375.4,457.6 1375.9,457.4 1376.4,457.1 1376.9,458.5 1377.4,457.0 1377.9,454.9 1378.4,455.5 1378.9,455.7 1379.4,455.3 1379.9,455.2 1380.4,455.3 1380.9,455.0 1381.4,454.5 1381.9,453.5 1382.4,453.1 1382.9,455.1 1383.4,456.1 1383.9,455.0 1384.4,454.2 1384.9,455.0 1385.4,457.0 1385.9,457.7 1386.4,458.6 1386.9,458.5 1387.4,457.4 1387.9,455.9 1388.4,454.4 1388.9,453.8 1389.4,454.9 1389.9,455.4 1390.4,455.9 1390.9,455.8 1391.4,455.9 1391.9,457.7 1392.4,457.7 1392.9,456.4 1393.4,455.4 1393.9,456.0 1394.4,456.1 1394.9,455.7 1395.4,456.4 1395.9,457.8 1396.4,457.6 1396.9,456.3 1397.4,458.3 1397.9,461.1 1398.4,460.5 1398.9,457.8 1399.4,456.1 1399.9,456.7 1400.4,456.8 1400.9,457.3 1401.4,459.2 1401.9,458.9 1402.4,458.3 1402.9,458.0 1403.4,456.4 1403.9,456.0 1404.4,457.3 1404.9,458.4 1405.4,457.3 1405.9,455.5 1406.4,455.8 1406.9,455.8 1407.4,454.6 1407.9,455.4 1408.4,456.8 1408.9,456.3 1409.4,454.5 1409.9,454.4 1410.4,455.7 1410.9,456.0 1411.4,456.9 1411.9,459.1 1412.4,460.8 1412.9,460.0 1413.4,456.8 1413.9,455.3 1414.4,456.4 1414.9,457.0 1415.4,454.2 1415.9,452.5 1416.4,453.8 1416.9,454.9 1417.4,455.2 1417.9,456.4 1418.4,457.9 1418.9,457.3 1419.4,454.8 1419.9,453.7 1420.4,455.3 1420.9,457.0 1421.4,458.4 1421.9,458.0 1422.4,455.8 1422.9,454.5 1423.4,455.7 1423.9,456.3 1424.4,456.1 1424.9,456.7 1425.4,454.9 1425.9,452.4 1426.4,452.9 1426.9,455.4 1427.4,455.5 1427.9,455.2 1428.4,455.3 1428.9,457.6 1429.4,457.9 1429.9,455.0 1430.4,454.3 1430.9,456.0 1431.4,456.4 1431.9,455.8 1432.4,455.3 1432.9,455.8 1433.4,456.5 1433.9,456.9 1434.4,455.8 1434.9,456.3 1435.4,457.7 1435.9,456.8 1436.4,455.7 1436.9,456.0 1437.4,456.6 1437.9,457.4 1438.4,458.6 1438.9,458.5 1439.4,457.5 1439.9,457.9 1440.4,459.9 1440.9,459.7 1441.4,458.5 1441.9,458.1 1442.4,458.4 1442.9,458.6 1443.4,458.7 1443.9,458.6 1444.4,458.5 1444.9,458.4 1445.4,457.8 1445.9,457.8 1446.4,458.1 1446.9,457.6 1447.4,457.5 1447.9,458.7 1448.4,458.7 1448.9,457.9 1449.4,458.2 1449.9,458.3 1450.4,457.6 1450.9,456.0 1451.4,453.7 1451.9,453.4 1452.4,453.5 1452.9,454.7 1453.4,458.4 1453.9,459.9 1454.4,457.5 1454.9,456.9 1455.4,456.7 1455.9,455.5 1456.4,456.5 1456.9,456.7 1457.4,455.5 1457.9,457.3 1458.4,459.0 1458.9,459.3 1459.4,459.4 1459.9,458.4 1460.4,458.3 1460.9,458.8 1461.4,458.8 1461.9,458.1 1462.4,456.6 1462.9,455.6 1463.4,456.1 1463.9,458.2 1464.4,460.6 1464.9,462.1 1465.4,460.8 1465.9,458.3 1466.4,459.2 1466.9,460.2 1467.4,458.7 1467.9,458.0 1468.4,457.5 1468.9,458.5 1469.4,460.3 1469.9,460.8 1470.4,459.1 1470.9,456.5 1471.4,454.4 1471.9,455.3 1472.4,457.7 1472.9,458.1 1473.4,457.9 1473.9,458.7 1474.4,460.1 1474.9,460.7 1475.4,459.5 1475.9,459.0 1476.4,458.4 1476.9,457.2 1477.4,456.4 1477.9,456.4 1478.4,455.7 1478.9,456.0 1479.4,457.1 1479.9,455.6 1480.4,454.2 1480.9,454.7 1481.4,455.4 1481.9,455.9 1482.4,457.6 1482.9,458.4 1483.4,458.6 1483.9,458.2 1484.4,457.6 1484.9,457.8 1485.4,457.3 1485.9,456.8 1486.3,457.1" fill="none" stroke="#000000" stroke-width="6.1" stroke-linejoin="round" stroke-linecap="butt" clip-path="url(#cb)"/>
<line x1="869.4" y1="8.0" x2="869.4" y2="504.2" stroke="#000" stroke-width="2.9"/>
<line x1="867.9" y1="502.8" x2="1487.6" y2="502.8" stroke="#000" stroke-width="2.8"/>
<path d="M869.6 502.8V508.2M905.9 502.8V512.6M942.1 502.8V508.2M978.4 502.8V512.6M1014.6 502.8V508.2M1050.8 502.8V512.6M1087.1 502.8V508.2M1123.3 502.8V512.6M1159.6 502.8V508.2M1195.8 502.8V512.6M1232.1 502.8V508.2M1268.3 502.8V512.6M1304.6 502.8V508.2M1340.8 502.8V512.6M1377.1 502.8V508.2M1413.3 502.8V512.6M1449.6 502.8V508.2M1485.8 502.8V512.6" stroke="#000" stroke-width="2.6" fill="none"/>
<text x="905.9" y="539.8" font-size="25.6" text-anchor="middle" textLength="27.4" lengthAdjust="spacingAndGlyphs">10</text>
<text x="978.4" y="539.8" font-size="25.6" text-anchor="middle" textLength="27.4" lengthAdjust="spacingAndGlyphs">20</text>
<text x="1050.8" y="539.8" font-size="25.6" text-anchor="middle" textLength="27.4" lengthAdjust="spacingAndGlyphs">30</text>
<text x="1123.3" y="539.8" font-size="25.6" text-anchor="middle" textLength="27.4" lengthAdjust="spacingAndGlyphs">40</text>
<text x="1195.8" y="539.8" font-size="25.6" text-anchor="middle" textLength="27.4" lengthAdjust="spacingAndGlyphs">50</text>
<text x="1268.3" y="539.8" font-size="25.6" text-anchor="middle" textLength="27.4" lengthAdjust="spacingAndGlyphs">60</text>
<text x="1340.8" y="539.8" font-size="25.6" text-anchor="middle" textLength="27.4" lengthAdjust="spacingAndGlyphs">70</text>
<text x="1413.3" y="539.8" font-size="25.6" text-anchor="middle" textLength="27.4" lengthAdjust="spacingAndGlyphs">80</text>
<text x="1485.8" y="539.8" font-size="25.6" text-anchor="middle" textLength="27.4" lengthAdjust="spacingAndGlyphs">90</text>
<text transform="translate(843.6 354.5) rotate(-90)" font-size="38.8" textLength="194" lengthAdjust="spacingAndGlyphs">Intensity cts</text>
<text x="1047.8" y="576.5" font-size="37.3" textLength="280.2" lengthAdjust="spacingAndGlyphs">2 Theta (degree)</text>
<rect x="810" y="1" width="53.9" height="75.9" fill="#DDD9C4"/>
<text x="829.9" y="52.0" font-size="39.0" text-anchor="middle" font-weight="normal">b</text>
<line x1="1268.2" y1="24.9" x2="1324" y2="24.9" stroke="#0000FF" stroke-width="5.4"/>
<line x1="1268.2" y1="61.8" x2="1324" y2="61.8" stroke="#FF0000" stroke-width="5.4"/>
<line x1="1268.2" y1="98.7" x2="1324" y2="98.7" stroke="#000000" stroke-width="5.4"/>
<text x="1330.3" y="32.3" font-size="23.8" textLength="70.5" lengthAdjust="spacingAndGlyphs">Sb<tspan font-size="17" dy="8.4">2</tspan><tspan dy="-8.4">O</tspan><tspan font-size="17" dy="8.4">3</tspan></text>
<text x="1330.3" y="68.8" font-size="23.8" textLength="64.8" lengthAdjust="spacingAndGlyphs">SnCl<tspan font-size="17" dy="8.4">2</tspan></text>
<text x="1329.6" y="106.7" font-size="23.8" textLength="152.6" lengthAdjust="spacingAndGlyphs">MgO/MA(2:1)</text>
<rect x="379.5" y="640.4" width="650.0" height="521.0" fill="none" stroke="#3a3a3a" stroke-width="1"/>
<polyline points="379.5,670.8 380.0,670.8 380.5,670.8 381.0,670.8 381.5,670.8 382.0,670.9 382.5,670.9 383.0,671.0 383.5,671.1 384.0,671.1 384.5,671.1 385.0,671.1 385.5,671.1 386.0,671.1 386.5,671.1 387.0,671.1 387.5,671.1 388.0,671.2 388.5,671.2 389.0,671.4 389.5,671.5 390.0,671.6 390.5,671.7 391.0,671.7 391.5,671.7 392.0,671.7 392.5,671.7 393.0,671.7 393.5,671.8 394.0,671.9 394.5,671.9 395.0,672.0 395.5,672.0 396.0,671.9 396.5,671.9 397.0,671.8 397.5,671.8 398.0,671.7 398.5,671.8 399.0,671.8 399.5,671.9 400.0,672.0 400.5,672.1 401.0,672.1 401.5,672.2 402.0,672.3 402.5,672.3 403.0,672.4 403.5,672.4 404.0,672.4 404.5,672.3 405.0,672.2 405.5,672.2 406.0,672.2 406.5,672.3 407.0,672.4 407.5,672.5 408.0,672.6 408.5,672.6 409.0,672.6 409.5,672.7 410.0,672.7 410.5,672.7 411.0,672.7 411.5,672.7 412.0,672.7 412.5,672.6 413.0,672.6 413.5,672.6 414.0,672.6 414.5,672.6 415.0,672.5 415.5,672.5 416.0,672.4 416.5,672.4 417.0,672.5 417.5,672.6 418.0,672.6 418.5,672.7 419.0,672.7 419.5,672.7 420.0,672.8 420.5,672.8 421.0,672.9 421.5,672.9 422.0,673.0 422.5,673.0 423.0,673.0 423.5,673.0 424.0,672.9 424.5,672.9 425.0,672.8 425.5,672.6 426.0,672.5 426.5,672.4 427.0,672.3 427.5,672.3 428.0,672.3 428.5,672.3 429.0,672.4 429.5,672.4 430.0,672.5 430.5,672.5 431.0,672.6 431.5,672.7 432.0,672.7 432.5,672.8 433.0,672.8 433.5,672.7 434.0,672.5 434.5,672.2 435.0,671.9 435.5,671.6 436.0,671.1 436.5,670.7 437.0,670.4 437.3,670.3 438.0,670.5 438.5,670.9 439.0,671.3 439.5,671.8 440.0,672.1 440.5,672.4 441.0,672.5 441.5,672.6 442.0,672.7 442.5,672.7 443.0,672.7 443.5,672.7 444.0,672.7 444.5,672.7 445.0,672.6 445.5,672.6 446.0,672.6 446.5,672.5 447.0,672.6 447.5,672.6 448.0,672.6 448.5,672.7 449.0,672.7 449.5,672.8 450.0,672.8 450.5,672.9 451.0,672.8 451.5,672.8 452.0,672.7 452.5,672.7 453.0,672.6 453.5,672.6 454.0,672.7 454.5,672.7 455.0,672.8 455.5,672.8 456.0,672.8 456.5,672.7 457.0,672.7 457.5,672.7 458.0,672.7 458.5,672.7 459.0,672.7 459.5,672.7 460.0,672.7 460.5,672.7 461.0,672.7 461.5,672.7 462.0,672.8 462.5,672.8 463.0,672.9 463.5,673.0 464.0,673.0 464.5,673.0 465.0,672.9 465.5,672.9 466.0,672.9 466.5,672.9 467.0,672.8 467.5,672.8 468.0,672.8 468.5,672.9 469.0,672.9 469.5,673.0 470.0,673.0 470.5,673.1 471.0,673.1 471.5,673.1 472.0,673.1 472.5,673.1 473.0,673.1 473.5,673.1 474.0,673.1 474.5,673.0 475.0,673.0 475.5,673.0 476.0,673.0 476.5,673.1 477.0,673.1 477.5,673.1 478.0,673.2 478.5,673.2 479.0,673.2 479.5,673.3 480.0,673.3 480.5,673.3 481.0,673.3 481.5,673.2 482.0,673.1 482.5,673.0 483.0,672.9 483.5,672.8 484.0,672.8 484.5,672.8 485.0,672.8 485.5,672.8 486.0,672.8 486.5,672.8 487.0,672.8 487.5,672.8 488.0,672.8 488.5,672.8 489.0,672.8 489.5,672.7 490.0,672.6 490.5,672.6 491.0,672.4 491.5,672.4 492.0,672.3 492.5,672.3 493.0,672.3 493.5,672.3 494.0,672.4 494.5,672.4 495.0,672.3 495.5,672.2 496.0,672.2 496.5,672.1 497.0,672.1 497.5,672.1 498.0,672.1 498.5,672.1 499.0,672.1 499.5,672.1 500.0,672.0 500.5,672.0 501.0,672.0 501.5,672.0 502.0,671.9 502.3,671.9 503.0,671.8 503.5,671.7 504.0,671.6 504.5,671.6 505.0,671.6 505.5,671.6 506.0,671.5 506.5,671.4 507.0,671.3 507.5,671.2 508.0,671.0 508.5,670.8 509.0,670.6 509.5,670.4 510.0,670.1 510.5,669.7 511.0,669.0 511.5,668.0 512.0,666.6 512.5,665.0 513.0,663.3 513.5,661.8 514.1,660.9 514.5,661.0 515.0,661.9 515.5,663.3 516.0,664.7 516.5,665.9 517.0,666.9 517.5,667.5 518.0,667.8 518.5,667.6 519.0,667.0 519.5,665.6 520.0,663.2 520.5,659.0 521.0,652.2 521.5,642.9 522.0,633.1 522.4,629.5 523.0,636.0 523.5,646.2 524.0,654.9 524.5,660.9 525.0,664.5 525.5,666.7 526.0,668.0 526.5,668.9 527.0,669.5 527.5,670.0 528.0,670.4 528.5,670.6 529.0,670.8 529.5,671.0 530.0,671.0 530.5,671.1 531.0,671.1 531.5,671.2 532.0,671.3 532.5,671.4 533.0,671.6 533.5,671.7 534.0,671.8 534.5,671.8 535.0,671.8 535.5,671.7 536.0,671.7 536.5,671.6 537.0,671.6 537.5,671.6 538.0,671.6 538.5,671.6 539.0,671.6 539.5,671.6 540.0,671.6 540.5,671.6 541.0,671.6 541.5,671.6 542.0,671.6 542.5,671.6 543.0,671.6 543.5,671.7 544.0,671.7 544.5,671.8 545.0,671.8 545.5,671.8 546.0,671.7 546.5,671.6 547.0,671.5 547.5,671.4 548.0,671.2 548.5,671.0 549.0,670.9 549.6,670.7 550.0,670.7 550.5,670.7 551.0,670.7 551.5,670.7 552.0,670.6 552.5,670.5 553.0,670.4 553.5,670.2 554.0,669.8 554.5,669.2 555.0,668.0 555.5,666.3 556.0,663.7 556.5,660.5 557.0,657.2 557.5,655.6 558.0,656.9 558.5,660.0 559.0,663.3 559.5,665.9 560.0,667.7 560.5,668.9 561.0,669.6 561.5,670.1 562.0,670.4 562.5,670.7 563.0,670.9 563.5,671.1 564.0,671.3 564.5,671.4 565.0,671.5 565.5,671.6 566.0,671.6 566.5,671.5 567.0,671.5 567.5,671.5 568.0,671.6 568.5,671.6 569.0,671.7 569.5,671.8 570.0,671.9 570.5,672.0 571.0,672.1 571.5,672.1 572.0,672.1 572.5,672.0 573.0,672.0 573.5,672.0 574.0,672.0 574.5,672.0 575.0,672.0 575.5,672.1 576.0,672.1 576.5,672.1 577.0,672.0 577.5,672.0 578.0,672.0 578.5,672.1 579.0,672.1 579.5,672.2 580.0,672.2 580.5,672.2 581.0,672.2 581.5,672.1 582.0,672.0 582.5,671.9 583.0,671.8 583.5,671.8 584.0,671.8 584.5,671.8 585.0,671.8 585.5,671.9 586.0,671.9 586.5,671.9 587.0,671.8 587.5,671.7 588.0,671.6 588.5,671.6 589.0,671.6 589.5,671.5 590.0,671.5 590.5,671.4 591.0,671.3 591.5,671.2 592.2,671.0 592.5,670.9 593.0,670.9 593.5,670.8 594.0,670.9 594.5,670.9 595.0,670.9 595.5,670.8 596.0,670.6 596.5,670.2 597.0,669.7 597.5,668.9 598.0,667.8 598.5,666.4 599.0,664.8 599.5,663.3 600.0,662.1 600.4,661.7 601.0,662.3 601.5,663.7 602.0,665.3 602.5,666.8 603.0,668.1 603.5,669.1 604.0,669.8 604.5,670.3 605.0,670.7 605.5,670.9 606.0,671.0 606.5,671.2 607.0,671.3 607.5,671.5 608.0,671.6 608.5,671.7 609.0,671.7 609.5,671.7 610.0,671.6 610.5,671.4 611.0,671.2 611.5,671.1 612.0,670.9 612.5,670.7 613.0,670.5 613.5,670.2 614.0,669.8 614.6,669.4 615.0,669.0 615.5,668.5 616.0,667.9 616.5,667.2 617.0,666.4 617.5,665.5 618.0,664.7 618.5,664.0 619.0,663.6 619.3,663.6 620.0,663.9 620.5,664.6 621.0,665.5 621.5,666.5 622.0,667.5 622.5,668.4 623.0,669.1 623.5,669.8 624.0,670.3 624.5,670.6 625.0,670.9 625.5,671.1 626.0,671.3 626.5,671.5 627.0,671.6 627.5,671.6 628.0,671.7 628.5,671.8 629.0,671.8 629.5,671.9 630.0,672.0 630.5,672.1 631.0,672.1 631.5,672.2 632.0,672.2 632.5,672.1 633.0,672.2 633.5,672.2 634.0,672.2 634.5,672.2 635.0,672.3 635.5,672.3 636.0,672.3 636.5,672.3 637.0,672.4 637.5,672.4 638.0,672.4 638.5,672.3 639.0,672.3 639.5,672.2 640.0,672.2 640.5,672.2 641.0,672.1 641.5,672.1 642.0,672.1 642.5,672.1 643.0,672.2 643.5,672.2 644.0,672.2 644.5,672.2 645.0,672.2 645.5,672.2 646.0,672.1 646.5,672.1 647.0,672.1 647.5,672.2 648.0,672.2 648.5,672.2 649.0,672.3 649.5,672.3 650.0,672.2 650.5,672.2 651.0,672.1 651.5,672.0 652.0,672.0 652.5,672.0 653.0,672.0 653.5,671.9 654.0,671.8 654.5,671.7 655.0,671.6 655.5,671.5 656.0,671.3 656.5,671.0 657.0,670.7 657.5,670.3 658.0,669.8 658.5,669.3 659.0,668.9 659.5,668.8 660.0,668.9 660.5,669.2 661.0,669.7 661.5,670.3 662.0,670.9 662.5,671.3 663.0,671.7 663.5,671.9 664.0,672.0 664.5,672.0 665.0,672.0 665.5,672.0 666.0,672.0 666.5,672.1 667.0,672.2 667.5,672.2 668.0,672.3 668.5,672.3 669.0,672.4 669.5,672.4 670.0,672.3 670.5,672.3 671.0,672.2 671.5,672.2 672.0,672.3 672.5,672.3 673.0,672.4 673.5,672.4 674.0,672.4 674.5,672.4 675.0,672.4 675.5,672.4 676.0,672.4 676.5,672.5 677.0,672.5 677.5,672.6 678.0,672.6 678.5,672.6 679.0,672.5 679.5,672.4 680.0,672.4 680.5,672.3 681.0,672.2 681.5,672.2 682.0,672.2 682.5,672.2 683.0,672.2 683.5,672.1 684.0,672.1 684.5,672.0 685.0,672.0 685.5,671.8 686.0,671.7 686.5,671.5 687.0,671.2 687.5,670.8 688.0,670.5 688.5,670.0 689.0,669.5 689.5,669.1 690.0,668.6 690.5,668.2 691.0,668.0 691.4,668.0 692.0,668.2 692.5,668.5 693.0,669.0 693.5,669.6 694.0,670.1 694.5,670.5 695.0,670.8 695.5,671.1 696.0,671.2 696.5,671.3 697.0,671.4 697.5,671.5 698.0,671.6 698.5,671.7 699.0,671.8 699.5,671.9 700.0,671.9 700.5,671.9 701.0,671.8 701.5,671.7 702.0,671.6 702.5,671.4 703.0,671.2 703.5,670.9 704.0,670.6 704.5,670.6 705.0,670.7 705.5,671.1 706.0,671.4 706.5,671.7 707.0,671.9 707.5,672.0 708.0,672.0 708.5,672.0 709.0,672.0 709.5,672.0 710.0,671.9 710.5,671.8 711.0,671.6 711.5,671.5 712.0,671.5 712.5,671.5 713.0,671.6 713.5,671.7 714.0,671.8 714.5,671.9 715.0,672.0 715.5,672.1 716.0,672.1 716.5,672.2 717.0,672.1 717.5,672.0 718.0,671.9 718.5,671.8 719.0,671.7 719.5,671.6 720.0,671.4 720.5,671.2 721.0,671.0 721.5,670.5 722.0,669.9 722.5,669.0 723.0,667.9 723.5,666.5 724.0,665.0 724.5,663.6 725.0,662.8 725.3,662.6 726.0,663.6 726.5,665.0 727.0,666.6 727.5,668.0 728.0,669.1 728.5,670.0 729.0,670.6 729.5,671.0 730.0,671.3 730.5,671.6 731.0,671.7 731.5,671.7 732.0,671.7 732.5,671.7 733.0,671.5 733.5,671.3 734.0,671.0 734.5,670.7 735.2,670.5 735.5,670.4 736.0,670.4 736.5,670.6 737.0,670.9 737.5,671.2 738.0,671.5 738.5,671.7 739.0,672.0 739.5,672.1 740.0,672.1 740.5,672.1 741.0,672.0 741.5,671.8 742.0,671.6 742.3,671.5 743.0,671.6 743.5,671.8 744.0,672.0 744.5,672.2 745.0,672.4 745.5,672.5 746.0,672.5 746.5,672.5 747.0,672.4 747.5,672.3 748.0,672.1 748.5,672.1 749.0,672.0 749.5,672.0 750.0,672.1 750.5,672.2 751.0,672.2 751.5,672.3 752.0,672.4 752.5,672.5 753.0,672.5 753.5,672.6 754.0,672.6 754.5,672.6 755.0,672.6 755.5,672.6 756.0,672.6 756.5,672.6 757.0,672.7 757.5,672.7 758.0,672.8 758.5,672.8 759.0,672.7 759.5,672.5 760.0,672.4 760.5,672.3 761.0,672.2 761.5,672.3 762.0,672.4 762.5,672.5 763.0,672.6 763.5,672.6 764.0,672.6 764.5,672.6 765.0,672.6 765.5,672.6 766.0,672.6 766.5,672.5 767.0,672.5 767.5,672.6 768.0,672.7 768.5,672.7 769.0,672.8 769.5,672.9 770.0,672.9 770.5,672.8 771.0,672.7 771.5,672.6 772.0,672.6 772.5,672.5 773.0,672.5 773.5,672.5 774.0,672.4 774.5,672.4 775.0,672.3 775.5,672.3 776.0,672.3 776.5,672.3 777.0,672.2 777.5,672.2 778.0,672.1 778.5,672.1 779.0,672.0 779.5,671.9 780.0,671.8 780.5,671.8 781.0,671.7 781.5,671.7 782.0,671.6 782.5,671.5 783.0,671.4 783.5,671.3 784.0,671.1 784.5,670.9 785.0,670.7 785.5,670.4 786.0,670.1 786.5,669.9 787.0,669.7 787.5,669.5 788.0,669.4 788.5,669.3 789.0,669.3 789.5,669.3 790.0,669.4 790.5,669.6 791.0,669.7 791.5,669.9 792.0,670.1 792.5,670.3 793.0,670.5 793.5,670.7 794.0,670.8 794.5,671.0 795.0,671.2 795.5,671.4 796.0,671.6 796.5,671.8 797.0,671.9 797.5,672.0 798.0,672.1 798.5,672.1 799.0,672.2 799.5,672.2 800.0,672.2 800.5,672.2 801.0,672.3 801.5,672.4 802.0,672.4 802.5,672.5 803.0,672.6 803.5,672.7 804.0,672.7 804.5,672.8 805.0,672.7 805.5,672.7 806.0,672.6 806.5,672.5 807.0,672.4 807.5,672.4 808.0,672.3 808.5,672.3 809.0,672.4 809.5,672.5 810.0,672.6 810.5,672.6 811.0,672.6 811.5,672.6 812.0,672.6 812.5,672.6 813.0,672.6 813.5,672.7 814.0,672.7 814.5,672.8 815.0,672.7 815.5,672.7 816.0,672.7 816.5,672.6 817.0,672.6 817.5,672.6 818.0,672.6 818.5,672.6 819.0,672.7 819.5,672.7 820.0,672.8 820.5,672.8 821.0,672.8 821.5,672.9 822.0,672.9 822.5,672.9 823.0,672.8 823.5,672.8 824.0,672.8 824.5,672.8 825.0,672.8 825.5,672.8 826.0,672.8 826.5,672.8 827.0,672.9 827.5,672.9 828.0,672.9 828.5,672.9 829.0,672.9 829.5,672.8 830.0,672.8 830.5,672.8 831.0,672.8 831.5,672.7 832.0,672.7 832.5,672.7 833.0,672.7 833.5,672.7 834.0,672.7 834.5,672.7 835.0,672.6 835.5,672.6 836.0,672.6 836.5,672.6 837.0,672.6 837.5,672.7 838.0,672.8 838.5,672.9 839.0,672.9 839.5,672.8 840.0,672.8 840.5,672.7 841.0,672.7 841.5,672.7 842.0,672.7 842.5,672.6 843.0,672.6 843.5,672.6 844.0,672.6 844.5,672.6 845.0,672.6 845.5,672.6 846.0,672.5 846.5,672.6 847.0,672.6 847.5,672.7 848.0,672.8 848.5,672.9 849.0,673.1 849.5,673.2 850.0,673.3 850.5,673.2 851.0,673.2 851.5,673.1 852.0,673.0 852.5,673.0 853.0,672.9 853.5,672.9 854.0,672.9 854.5,672.8 855.0,672.8 855.5,672.8 856.0,672.8 856.5,672.8 857.0,672.8 857.5,672.8 858.0,672.8 858.5,672.8 859.0,672.8 859.5,672.8 860.0,672.9 860.5,672.9 861.0,673.0 861.5,673.1 862.0,673.1 862.5,673.1 863.0,673.0 863.5,673.0 864.0,672.9 864.5,672.9 865.0,672.9 865.5,672.9 866.0,672.8 866.5,672.8 867.0,672.8 867.5,672.7 868.0,672.7 868.5,672.7 869.0,672.8 869.5,672.8 870.0,672.9 870.5,672.9 871.0,672.9 871.5,672.8 872.0,672.7 872.5,672.6 873.0,672.6 873.5,672.6 874.0,672.7 874.5,672.7 875.0,672.8 875.5,672.9 876.0,672.9 876.5,673.0 877.0,673.0 877.5,673.0 878.0,673.0 878.5,673.0 879.0,672.9 879.5,672.9 880.0,672.9 880.5,672.8 881.0,672.8 881.5,672.8 882.0,672.9 882.5,673.0 883.0,673.1 883.5,673.1 884.0,673.1 884.5,673.0 885.0,673.0 885.5,672.9 886.0,672.9 886.5,672.9 887.0,672.9 887.5,673.0 888.0,673.0 888.5,673.0 889.0,673.0 889.5,673.0 890.0,673.0 890.5,673.0 891.0,673.1 891.5,673.1 892.0,673.2 892.5,673.1 893.0,673.0 893.5,672.9 894.0,672.9 894.5,672.9 895.0,673.0 895.5,673.0 896.0,673.0 896.5,673.0 897.0,672.9 897.5,672.9 898.0,672.8 898.5,672.7 899.0,672.6 899.5,672.5 900.0,672.4 900.5,672.3 901.0,672.1 901.5,671.9 902.0,671.7 902.5,671.5 903.0,671.3 903.5,671.1 904.0,670.9 904.5,670.8 905.0,670.7 905.4,670.6 906.0,670.6 906.5,670.7 907.0,670.9 907.5,671.1 908.0,671.4 908.5,671.6 909.0,671.9 909.5,672.1 910.0,672.3 910.5,672.5 911.0,672.7 911.5,672.9 912.0,672.9 912.5,673.0 913.0,672.9 913.5,672.9 914.0,672.9 914.5,672.9 915.0,672.9 915.5,673.0 916.0,673.1 916.5,673.2 917.0,673.3 917.5,673.3 918.0,673.3 918.5,673.3 919.0,673.2 919.5,673.1 920.0,673.0 920.5,672.9 921.0,672.8 921.5,672.8 922.0,672.9 922.5,673.0 923.0,673.1 923.5,673.1 924.0,673.1 924.5,673.1 925.0,673.1 925.5,673.1 926.0,673.1 926.5,673.0 927.0,673.0 927.5,672.9 928.0,672.9 928.5,672.9 929.0,672.9 929.5,673.0 930.0,673.0 930.5,673.1 931.0,673.1 931.5,673.1 932.0,673.1 932.5,673.1 933.0,673.1 933.5,673.1 934.0,673.1 934.5,673.1 935.0,673.1 935.5,673.1 936.0,673.1 936.5,673.2 937.0,673.2 937.5,673.2 938.0,673.2 938.5,673.3 939.0,673.3 939.5,673.2 940.0,673.2 940.5,673.3 941.0,673.3 941.5,673.4 942.0,673.5 942.5,673.6 943.0,673.6 943.5,673.6 944.0,673.5 944.5,673.4 945.0,673.3 945.5,673.2 946.0,673.1 946.5,673.0 947.0,673.0 947.5,673.1 948.0,673.1 948.5,673.1 949.0,673.1 949.5,673.0 950.0,672.9 950.5,672.7 951.0,672.6 951.5,672.4 952.0,672.4 952.5,672.3 953.0,672.2 953.5,672.1 954.0,672.0 954.5,671.8 955.0,671.7 955.5,671.6 956.2,671.6 956.5,671.6 957.0,671.7 957.5,671.7 958.0,671.8 958.5,671.9 959.0,672.1 959.5,672.2 960.0,672.3 960.5,672.4 961.0,672.6 961.5,672.7 962.0,672.8 962.5,672.8 963.0,672.9 963.5,672.9 964.0,673.0 964.5,673.0 965.0,672.9 965.5,672.9 966.0,672.9 966.5,672.9 967.0,672.9 967.5,672.9 968.0,673.0 968.5,673.1 969.0,673.1 969.5,673.2 970.0,673.2 970.5,673.3 971.0,673.3 971.5,673.3 972.0,673.2 972.5,673.2 973.0,673.2 973.5,673.3 974.0,673.3 974.5,673.3 975.0,673.3 975.5,673.3 976.0,673.2 976.5,673.2 977.0,673.1 977.5,673.2 978.0,673.2 978.5,673.3 979.0,673.4 979.5,673.5 980.0,673.5 980.5,673.4 981.0,673.4 981.5,673.3 982.0,673.3 982.5,673.3 983.0,673.3 983.5,673.3 984.0,673.3 984.5,673.4 985.0,673.4 985.5,673.4 986.0,673.4 986.5,673.4 987.0,673.4 987.5,673.4 988.0,673.5 988.5,673.5 989.0,673.5 989.5,673.5 990.0,673.5 990.5,673.5 991.0,673.5 991.5,673.4 992.0,673.4 992.5,673.3 993.0,673.4 993.5,673.4 994.0,673.5 994.5,673.5 995.0,673.5 995.5,673.5 996.0,673.5 996.5,673.6 997.0,673.6 997.5,673.7 998.0,673.8 998.5,673.8 999.0,673.8 999.5,673.7 1000.0,673.7 1000.5,673.8 1001.0,673.8 1001.5,673.7 1002.0,673.7 1002.5,673.6 1003.0,673.5 1003.5,673.5 1004.0,673.5 1004.5,673.5 1005.0,673.5 1005.5,673.5 1006.0,673.4 1006.5,673.4 1007.0,673.4 1007.5,673.4 1008.0,673.4 1008.5,673.4 1009.0,673.4 1009.5,673.4 1010.0,673.4 1010.5,673.5 1011.0,673.5 1011.5,673.6 1012.0,673.6 1012.5,673.7 1013.0,673.7 1013.5,673.6 1014.0,673.6 1014.5,673.5 1015.0,673.5 1015.5,673.5 1016.0,673.5 1016.5,673.5 1017.0,673.4 1017.5,673.4 1018.0,673.4 1018.5,673.3 1019.0,673.3 1019.5,673.2 1020.0,673.2 1020.5,673.3 1021.0,673.4 1021.5,673.5 1022.0,673.7 1022.5,673.7 1023.0,673.8 1023.5,673.8 1024.0,673.7 1024.5,673.8 1025.0,673.8 1025.5,673.8 1026.0,673.8 1026.5,673.7 1027.0,673.6 1027.5,673.6 1028.0,673.5 1028.5,673.5 1029.0,673.5 1029.5,673.5" fill="none" stroke="#7F00FF" stroke-width="4.4" stroke-linejoin="round" stroke-linecap="butt" clip-path="url(#cc)"/>
<polyline points="379.5,731.0 380.0,731.1 380.5,731.2 381.0,731.4 381.5,731.5 382.0,731.5 382.5,731.6 383.0,731.6 383.5,731.6 384.0,731.6 384.5,731.7 385.0,731.8 385.5,731.8 386.0,731.9 386.5,731.9 387.0,732.0 387.5,732.0 388.0,732.0 388.5,732.1 389.0,732.1 389.5,732.1 390.0,732.1 390.5,732.1 391.0,732.1 391.5,732.1 392.0,732.1 392.5,732.2 393.0,732.3 393.5,732.5 394.0,732.6 394.5,732.7 395.0,732.8 395.5,732.8 396.0,732.7 396.5,732.7 397.0,732.7 397.5,732.7 398.0,732.8 398.5,732.9 399.0,732.9 399.5,732.9 400.0,732.8 400.5,732.8 401.0,732.7 401.5,732.7 402.0,732.7 402.5,732.8 403.0,732.9 403.5,733.0 404.0,733.0 404.5,733.1 405.0,733.1 405.5,733.1 406.0,733.1 406.5,733.2 407.0,733.3 407.5,733.3 408.0,733.3 408.5,733.2 409.0,733.1 409.5,733.0 410.0,733.0 410.5,733.0 411.0,733.1 411.5,733.2 412.0,733.4 412.5,733.5 413.0,733.6 413.5,733.6 414.0,733.6 414.5,733.5 415.0,733.5 415.5,733.5 416.0,733.5 416.5,733.6 417.0,733.8 417.5,733.9 418.0,734.0 418.5,734.0 419.0,734.0 419.5,734.0 420.0,734.0 420.5,733.9 421.0,733.9 421.5,733.8 422.0,733.8 422.5,733.7 423.0,733.6 423.5,733.6 424.0,733.6 424.5,733.7 425.0,733.7 425.5,733.7 426.0,733.7 426.5,733.6 427.0,733.6 427.5,733.5 428.0,733.5 428.5,733.4 429.0,733.4 429.5,733.3 430.0,733.3 430.5,733.4 431.0,733.4 431.5,733.5 432.0,733.5 432.5,733.4 433.0,733.1 433.5,732.7 434.0,732.2 434.5,731.5 435.0,730.9 435.5,730.5 436.0,730.7 436.5,731.3 437.0,731.9 437.5,732.5 438.0,732.9 438.5,733.2 439.0,733.3 439.5,733.4 440.0,733.5 440.5,733.5 441.0,733.6 441.5,733.6 442.0,733.6 442.5,733.7 443.0,733.7 443.5,733.7 444.0,733.7 444.5,733.8 445.0,733.8 445.5,733.8 446.0,733.8 446.5,733.7 447.0,733.7 447.5,733.6 448.0,733.6 448.5,733.6 449.0,733.6 449.5,733.6 450.0,733.6 450.5,733.6 451.0,733.7 451.5,733.8 452.0,733.8 452.5,733.9 453.0,733.9 453.5,733.9 454.0,733.9 454.5,733.9 455.0,733.8 455.5,733.8 456.0,733.8 456.5,733.8 457.0,733.8 457.5,733.7 458.0,733.7 458.5,733.7 459.0,733.6 459.5,733.7 460.0,733.8 460.5,733.8 461.0,733.9 461.5,733.9 462.0,733.9 462.5,733.9 463.0,733.9 463.5,733.8 464.0,733.7 464.5,733.6 465.0,733.5 465.5,733.4 466.0,733.4 466.5,733.4 467.0,733.4 467.5,733.5 468.0,733.6 468.5,733.7 469.0,733.8 469.5,733.8 470.0,733.9 470.5,733.9 471.0,733.9 471.5,733.9 472.0,733.9 472.5,733.9 473.0,733.9 473.5,733.9 474.0,733.8 474.5,733.8 475.0,733.8 475.5,733.7 476.0,733.7 476.5,733.6 477.0,733.6 477.5,733.6 478.0,733.6 478.5,733.6 479.0,733.6 479.5,733.6 480.0,733.7 480.5,733.7 481.0,733.6 481.5,733.6 482.0,733.5 482.5,733.4 483.0,733.4 483.5,733.4 484.0,733.4 484.5,733.5 485.0,733.5 485.5,733.5 486.0,733.5 486.5,733.4 487.0,733.3 487.5,733.2 488.0,733.2 488.5,733.1 489.0,733.0 489.5,732.9 490.0,732.8 490.5,732.7 491.0,732.6 491.5,732.5 492.0,732.4 492.5,732.3 493.0,732.3 493.5,732.2 494.0,732.1 494.5,732.1 495.0,732.1 495.5,732.1 496.0,732.2 496.5,732.2 497.0,732.1 497.5,732.0 498.0,731.9 498.5,731.7 499.0,731.4 499.5,731.2 500.0,731.0 500.5,730.8 501.1,730.7 501.5,730.6 502.0,730.6 502.5,730.7 503.0,730.7 503.5,730.8 504.0,730.8 504.5,730.8 505.0,730.8 505.5,730.8 506.0,730.8 506.5,730.7 507.0,730.6 507.5,730.4 508.0,730.2 508.5,729.9 509.0,729.6 509.5,729.1 510.0,728.5 510.5,727.6 511.0,726.1 511.5,723.8 512.0,720.2 512.5,715.5 513.0,710.3 513.6,707.3 514.0,709.1 514.5,713.9 515.0,718.8 515.5,722.4 516.0,724.8 516.5,726.0 517.0,726.6 517.5,726.5 518.0,725.9 518.5,724.6 519.0,721.9 519.5,717.1 520.0,709.2 520.5,698.4 521.2,687.3 521.5,689.1 522.0,699.1 522.5,710.0 523.0,717.9 523.5,722.7 524.0,725.5 524.5,727.1 525.0,728.1 525.5,728.8 526.0,729.4 526.5,729.8 527.0,730.2 527.5,730.4 528.0,730.6 528.5,730.6 529.0,730.7 529.5,730.6 530.0,730.6 530.5,730.6 531.0,730.6 531.5,730.7 532.0,730.7 532.5,730.8 533.0,730.9 533.5,730.9 534.0,731.0 534.5,731.1 535.0,731.1 535.5,731.1 536.0,731.2 536.5,731.2 537.0,731.3 537.5,731.3 538.0,731.3 538.5,731.2 539.0,731.0 539.5,730.8 540.0,730.4 540.5,730.0 541.0,729.4 541.5,728.6 542.0,727.7 542.5,726.7 543.0,725.8 543.7,725.2 544.0,725.2 544.5,725.7 545.0,726.5 545.5,727.4 546.0,728.2 546.5,728.9 547.0,729.2 547.5,729.3 548.0,729.1 548.5,728.6 549.0,727.8 549.5,727.0 550.2,726.3 550.5,726.4 551.0,726.9 551.5,727.6 552.0,728.1 552.5,728.3 553.0,728.1 553.5,727.4 554.0,725.9 554.5,722.9 555.0,718.1 555.5,711.0 556.0,703.8 556.3,701.8 557.0,708.1 557.5,715.6 558.0,721.4 558.5,725.0 559.0,727.0 559.5,728.1 560.0,728.8 560.5,729.4 561.0,729.8 561.5,730.2 562.0,730.5 562.5,730.7 563.0,730.9 563.5,730.9 564.0,730.9 564.5,730.9 565.0,730.8 565.5,730.6 566.0,730.4 566.5,730.1 567.0,729.8 567.5,729.5 568.0,729.2 568.5,729.1 569.0,729.3 569.5,729.5 570.0,729.9 570.5,730.2 571.0,730.5 571.5,730.6 572.0,730.8 572.5,730.8 573.0,730.9 573.5,730.9 574.0,730.9 574.5,730.9 575.0,730.9 575.5,730.9 576.0,730.9 576.5,730.8 577.0,730.7 577.5,730.6 578.0,730.4 578.5,730.3 579.0,730.1 579.5,730.0 580.0,729.9 580.5,729.7 581.0,729.6 581.5,729.6 582.0,729.6 582.5,729.7 583.0,729.9 583.5,730.1 584.0,730.3 584.5,730.4 585.0,730.5 585.5,730.6 586.0,730.6 586.5,730.5 587.0,730.2 587.5,729.9 588.0,729.5 588.5,728.9 589.0,728.1 589.5,727.2 590.0,726.2 590.5,725.5 591.0,725.3 591.5,725.6 592.0,726.3 592.5,727.2 593.0,728.0 593.5,728.6 594.0,729.1 594.5,729.3 595.0,729.4 595.5,729.3 596.0,728.9 596.5,728.0 597.0,726.4 597.5,723.8 598.0,719.8 598.5,714.8 599.0,710.4 599.3,709.8 600.0,714.9 600.5,720.0 601.0,724.0 601.5,726.6 602.0,728.2 602.5,729.1 603.0,729.7 603.5,730.1 604.0,730.3 604.5,730.5 605.0,730.6 605.5,730.7 606.0,730.7 606.5,730.7 607.0,730.8 607.5,730.8 608.0,730.8 608.5,730.8 609.0,730.7 609.5,730.6 610.0,730.5 610.5,730.3 611.0,730.0 611.5,729.6 612.0,729.1 612.5,728.4 613.0,727.5 613.5,726.7 614.0,726.0 614.6,725.3 615.0,725.2 615.5,724.9 616.0,724.5 616.5,723.5 617.0,721.8 617.5,719.3 618.0,716.4 618.5,714.0 618.9,713.4 619.5,715.4 620.0,718.5 620.5,721.7 621.0,724.4 621.5,726.4 622.0,727.9 622.5,728.9 623.0,729.6 623.5,730.0 624.0,730.3 624.5,730.4 625.0,730.5 625.5,730.6 626.0,730.7 626.5,730.8 627.0,730.9 627.5,731.0 628.0,731.1 628.5,731.1 629.0,731.2 629.5,731.2 630.0,731.3 630.5,731.3 631.0,731.3 631.5,731.3 632.0,731.3 632.5,731.3 633.0,731.3 633.5,731.3 634.0,731.3 634.5,731.3 635.0,731.3 635.5,731.3 636.0,731.3 636.5,731.3 637.0,731.3 637.5,731.4 638.0,731.4 638.5,731.4 639.0,731.4 639.5,731.3 640.0,731.2 640.5,731.1 641.0,731.0 641.5,731.0 642.0,731.0 642.5,731.2 643.0,731.3 643.5,731.4 644.0,731.5 644.5,731.5 645.0,731.4 645.5,731.4 646.0,731.3 646.5,731.3 647.0,731.2 647.5,731.2 648.0,731.1 648.5,731.0 649.0,731.0 649.5,731.0 650.0,731.0 650.5,731.1 651.0,731.2 651.5,731.2 652.0,731.1 652.5,731.0 653.0,730.7 653.5,730.5 654.0,730.1 654.5,729.8 655.0,729.3 655.5,728.6 656.0,727.6 656.5,726.4 657.0,725.0 657.5,723.7 658.0,722.8 658.4,722.6 659.0,723.3 659.5,724.5 660.0,725.9 660.5,727.3 661.0,728.4 661.5,729.3 662.0,729.9 662.5,730.2 663.0,730.5 663.5,730.7 664.0,730.8 664.5,730.9 665.0,731.0 665.5,731.0 666.0,731.0 666.5,731.0 667.0,731.0 667.5,731.1 668.0,731.1 668.5,731.1 669.0,731.1 669.5,731.1 670.0,731.1 670.5,731.1 671.0,731.1 671.5,731.1 672.0,731.1 672.5,731.2 673.0,731.2 673.5,731.3 674.0,731.4 674.5,731.4 675.0,731.4 675.5,731.3 676.0,731.3 676.5,731.2 677.0,731.3 677.5,731.3 678.0,731.4 678.5,731.4 679.0,731.3 679.5,731.2 680.0,731.0 680.5,730.9 681.0,730.9 681.5,730.9 682.0,730.9 682.5,730.9 683.0,730.9 683.5,730.8 684.0,730.6 684.5,730.4 685.0,730.0 685.5,729.5 686.0,728.8 686.5,727.9 687.0,726.9 687.5,725.8 688.0,724.7 688.5,723.8 689.1,723.4 689.5,723.6 690.0,724.3 690.5,725.4 691.0,726.5 691.5,727.5 692.0,728.4 692.5,729.1 693.0,729.6 693.5,730.0 694.0,730.2 694.5,730.4 695.0,730.5 695.5,730.6 696.0,730.6 696.5,730.7 697.0,730.8 697.5,730.8 698.0,730.8 698.5,730.8 699.0,730.8 699.5,730.8 700.0,730.7 700.5,730.5 701.0,730.1 701.5,729.5 702.0,728.8 702.5,728.0 703.0,727.4 703.3,727.3 704.0,728.0 704.5,728.8 705.0,729.6 705.5,730.2 706.0,730.6 706.5,730.8 707.0,730.9 707.5,730.9 708.0,730.9 708.5,730.8 709.0,730.8 709.5,730.7 710.0,730.6 710.5,730.4 711.0,730.3 711.5,730.2 712.0,730.3 712.5,730.5 713.0,730.7 713.5,730.8 714.0,730.9 714.5,730.9 715.0,730.9 715.5,730.8 716.0,730.7 716.5,730.7 717.0,730.6 717.5,730.5 718.0,730.3 718.5,730.1 719.0,729.9 719.5,729.6 720.0,729.2 720.5,728.8 721.0,728.1 721.5,727.0 722.0,725.1 722.5,721.7 723.0,716.0 723.5,707.3 724.0,696.7 724.5,690.3 725.0,695.0 725.5,705.5 726.0,714.8 726.5,721.0 727.0,724.6 727.5,726.6 728.0,727.7 728.5,728.5 729.0,729.0 729.5,729.4 730.0,729.6 730.5,729.8 731.0,729.8 731.5,729.6 732.0,729.4 732.5,729.0 733.0,728.7 733.5,728.4 734.0,728.3 734.5,728.5 735.0,728.9 735.5,729.3 736.0,729.7 736.5,730.1 737.0,730.5 737.5,730.7 738.0,730.8 738.5,730.7 739.0,730.5 739.5,730.3 740.0,729.9 740.5,729.6 741.1,729.4 741.5,729.6 742.0,729.9 742.5,730.2 743.0,730.5 743.5,730.6 744.0,730.7 744.5,730.8 745.0,730.8 745.5,730.9 746.0,730.9 746.5,730.9 747.0,731.0 747.5,731.0 748.0,731.1 748.5,731.2 749.0,731.2 749.5,731.3 750.0,731.3 750.5,731.3 751.0,731.2 751.5,731.2 752.0,731.2 752.5,731.2 753.0,731.2 753.5,731.3 754.0,731.3 754.5,731.4 755.0,731.4 755.5,731.4 756.0,731.4 756.5,731.3 757.0,731.2 757.5,731.1 758.0,731.1 758.5,731.1 759.0,731.1 759.5,731.2 760.0,731.2 760.5,731.3 761.0,731.3 761.5,731.3 762.0,731.3 762.5,731.3 763.0,731.4 763.5,731.4 764.0,731.4 764.5,731.4 765.0,731.3 765.5,731.3 766.0,731.2 766.5,731.1 767.0,730.9 767.5,730.7 768.0,730.5 768.5,730.1 769.0,729.5 769.5,728.9 770.0,728.1 770.6,727.6 771.0,727.8 771.5,728.4 772.0,729.2 772.5,729.9 773.0,730.5 773.5,730.9 774.0,731.1 774.5,731.3 775.0,731.4 775.5,731.4 776.0,731.4 776.5,731.4 777.0,731.4 777.5,731.3 778.0,731.2 778.5,731.1 779.0,731.0 779.5,730.9 780.0,730.8 780.5,730.7 781.0,730.6 781.5,730.5 782.0,730.4 782.5,730.3 783.0,730.2 783.5,730.1 784.0,730.0 784.5,729.9 785.0,729.7 785.5,729.6 786.0,729.5 786.5,729.4 787.0,729.3 787.5,729.2 788.0,729.2 788.4,729.2 789.0,729.2 789.5,729.2 790.0,729.2 790.5,729.2 791.0,729.2 791.5,729.3 792.0,729.5 792.5,729.7 793.0,729.9 793.5,730.1 794.0,730.4 794.5,730.6 795.0,730.7 795.5,730.9 796.0,731.0 796.5,731.0 797.0,731.1 797.5,731.1 798.0,731.1 798.5,731.2 799.0,731.2 799.5,731.2 800.0,731.2 800.5,731.2 801.0,731.1 801.5,731.2 802.0,731.2 802.5,731.3 803.0,731.4 803.5,731.4 804.0,731.5 804.5,731.5 805.0,731.5 805.5,731.5 806.0,731.5 806.5,731.5 807.0,731.5 807.5,731.5 808.0,731.5 808.5,731.6 809.0,731.6 809.5,731.6 810.0,731.6 810.5,731.6 811.0,731.6 811.5,731.6 812.0,731.6 812.5,731.6 813.0,731.6 813.5,731.6 814.0,731.6 814.5,731.5 815.0,731.5 815.5,731.5 816.0,731.5 816.5,731.5 817.0,731.5 817.5,731.6 818.0,731.6 818.5,731.7 819.0,731.7 819.5,731.7 820.0,731.7 820.5,731.7 821.0,731.7 821.5,731.7 822.0,731.7 822.5,731.8 823.0,731.9 823.5,731.9 824.0,732.0 824.5,731.9 825.0,731.8 825.5,731.8 826.0,731.7 826.5,731.7 827.0,731.7 827.5,731.8 828.0,731.8 828.5,731.8 829.0,731.7 829.5,731.7 830.0,731.7 830.5,731.7 831.0,731.7 831.5,731.8 832.0,731.9 832.5,732.0 833.0,732.1 833.5,732.1 834.0,732.1 834.5,732.0 835.0,732.0 835.5,731.9 836.0,731.8 836.5,731.8 837.0,731.8 837.5,731.7 838.0,731.7 838.5,731.7 839.0,731.7 839.5,731.8 840.0,731.8 840.5,731.9 841.0,732.0 841.5,732.0 842.0,732.0 842.5,731.9 843.0,731.8 843.5,731.8 844.0,731.7 844.5,731.6 845.0,731.7 845.5,731.7 846.0,731.8 846.5,731.9 847.0,731.9 847.5,732.0 848.0,732.0 848.5,731.9 849.0,731.9 849.5,731.9 850.0,731.9 850.5,731.8 851.0,731.8 851.5,731.9 852.0,731.9 852.5,731.9 853.0,732.0 853.5,732.0 854.0,732.0 854.5,732.1 855.0,732.1 855.5,732.1 856.0,732.2 856.5,732.2 857.0,732.1 857.5,732.1 858.0,732.1 858.5,732.1 859.0,732.1 859.5,732.2 860.0,732.3 860.5,732.4 861.0,732.5 861.5,732.6 862.0,732.6 862.5,732.5 863.0,732.4 863.5,732.4 864.0,732.3 864.5,732.3 865.0,732.3 865.5,732.3 866.0,732.3 866.5,732.3 867.0,732.3 867.5,732.3 868.0,732.3 868.5,732.2 869.0,732.2 869.5,732.2 870.0,732.2 870.5,732.3 871.0,732.3 871.5,732.4 872.0,732.4 872.5,732.4 873.0,732.4 873.5,732.4 874.0,732.4 874.5,732.4 875.0,732.4 875.5,732.3 876.0,732.3 876.5,732.3 877.0,732.4 877.5,732.4 878.0,732.4 878.5,732.5 879.0,732.5 879.5,732.4 880.0,732.4 880.5,732.4 881.0,732.4 881.5,732.5 882.0,732.5 882.5,732.5 883.0,732.4 883.5,732.4 884.0,732.5 884.5,732.5 885.0,732.6 885.5,732.8 886.0,732.8 886.5,732.8 887.0,732.8 887.5,732.7 888.0,732.6 888.5,732.6 889.0,732.6 889.5,732.6 890.0,732.7 890.5,732.8 891.0,732.8 891.5,732.8 892.0,732.7 892.5,732.6 893.0,732.5 893.5,732.4 894.0,732.4 894.5,732.3 895.0,732.3 895.5,732.2 896.0,732.2 896.5,732.2 897.0,732.1 897.5,732.1 898.0,732.0 898.5,732.0 899.0,731.9 899.5,731.7 900.0,731.6 900.5,731.4 901.0,731.2 901.5,730.9 902.0,730.6 902.5,730.3 903.0,730.0 903.5,729.8 904.2,729.7 904.5,729.8 905.0,730.0 905.5,730.3 906.0,730.6 906.5,730.9 907.0,731.1 907.5,731.4 908.0,731.6 908.5,731.8 909.0,732.0 909.5,732.1 910.0,732.2 910.5,732.3 911.0,732.4 911.5,732.5 912.0,732.6 912.5,732.7 913.0,732.8 913.5,732.8 914.0,732.8 914.5,732.8 915.0,732.8 915.5,732.8 916.0,732.8 916.5,732.8 917.0,732.8 917.5,732.8 918.0,732.9 918.5,732.9 919.0,732.9 919.5,733.0 920.0,733.0 920.5,733.0 921.0,733.0 921.5,733.0 922.0,732.9 922.5,732.9 923.0,732.8 923.5,732.8 924.0,732.8 924.5,732.9 925.0,733.0 925.5,733.0 926.0,733.1 926.5,733.1 927.0,733.1 927.5,733.2 928.0,733.2 928.5,733.2 929.0,733.2 929.5,733.2 930.0,733.2 930.5,733.2 931.0,733.2 931.5,733.1 932.0,733.1 932.5,733.1 933.0,733.1 933.5,733.1 934.0,733.2 934.5,733.2 935.0,733.1 935.5,733.1 936.0,733.0 936.5,732.9 937.0,732.9 937.5,732.9 938.0,733.0 938.5,733.1 939.0,733.3 939.5,733.3 940.0,733.4 940.5,733.3 941.0,733.3 941.5,733.2 942.0,733.1 942.5,733.0 943.0,732.9 943.5,732.8 944.0,732.7 944.5,732.7 945.0,732.8 945.5,732.9 946.0,733.1 946.5,733.2 947.0,733.2 947.5,733.2 948.0,733.1 948.5,733.0 949.0,732.9 949.5,732.9 950.0,732.8 950.5,732.8 951.0,732.7 951.5,732.6 952.0,732.4 952.5,732.3 953.0,732.1 953.5,731.9 954.0,731.8 954.5,731.7 955.0,731.6 955.5,731.6 956.2,731.5 956.5,731.6 957.0,731.7 957.5,731.8 958.0,732.0 958.5,732.2 959.0,732.3 959.5,732.4 960.0,732.6 960.5,732.7 961.0,732.8 961.5,732.9 962.0,732.9 962.5,733.0 963.0,733.1 963.5,733.2 964.0,733.2 964.5,733.3 965.0,733.3 965.5,733.3 966.0,733.3 966.5,733.2 967.0,733.2 967.5,733.2 968.0,733.1 968.5,733.1 969.0,733.2 969.5,733.2 970.0,733.2 970.5,733.2 971.0,733.2 971.5,733.1 972.0,733.1 972.5,733.1 973.0,733.1 973.5,733.2 974.0,733.3 974.5,733.4 975.0,733.5 975.5,733.6 976.0,733.7 976.5,733.7 977.0,733.7 977.5,733.6 978.0,733.6 978.5,733.5 979.0,733.5 979.5,733.4 980.0,733.3 980.5,733.2 981.0,733.2 981.5,733.2 982.0,733.3 982.5,733.3 983.0,733.3 983.5,733.4 984.0,733.4 984.5,733.5 985.0,733.6 985.5,733.7 986.0,733.7 986.5,733.7 987.0,733.7 987.5,733.6 988.0,733.6 988.5,733.6 989.0,733.6 989.5,733.5 990.0,733.5 990.5,733.4 991.0,733.4 991.5,733.5 992.0,733.5 992.5,733.6 993.0,733.7 993.5,733.8 994.0,733.8 994.5,733.8 995.0,733.8 995.5,733.8 996.0,733.7 996.5,733.6 997.0,733.5 997.5,733.5 998.0,733.4 998.5,733.4 999.0,733.3 999.5,733.3 1000.0,733.3 1000.5,733.4 1001.0,733.4 1001.5,733.4 1002.0,733.4 1002.5,733.4 1003.0,733.4 1003.5,733.4 1004.0,733.5 1004.5,733.5 1005.0,733.5 1005.5,733.5 1006.0,733.5 1006.5,733.5 1007.0,733.5 1007.5,733.5 1008.0,733.5 1008.5,733.5 1009.0,733.6 1009.5,733.6 1010.0,733.7 1010.5,733.7 1011.0,733.6 1011.5,733.6 1012.0,733.6 1012.5,733.6 1013.0,733.5 1013.5,733.5 1014.0,733.5 1014.5,733.5 1015.0,733.5 1015.5,733.6 1016.0,733.6 1016.5,733.6 1017.0,733.6 1017.5,733.7 1018.0,733.7 1018.5,733.7 1019.0,733.6 1019.5,733.6 1020.0,733.6 1020.5,733.6 1021.0,733.7 1021.5,733.7 1022.0,733.7 1022.5,733.7 1023.0,733.6 1023.5,733.5 1024.0,733.4 1024.5,733.3 1025.0,733.2 1025.5,733.2 1026.0,733.3 1026.5,733.4 1027.0,733.5 1027.5,733.5 1028.0,733.6 1028.5,733.7 1029.0,733.7 1029.5,733.7" fill="none" stroke="#000080" stroke-width="4.4" stroke-linejoin="round" stroke-linecap="butt" clip-path="url(#cc)"/>
<polyline points="379.5,794.0 380.0,794.0 380.5,794.0 381.0,794.0 381.5,794.1 382.0,794.2 382.5,794.4 383.0,794.4 383.5,794.5 384.0,794.5 384.5,794.5 385.0,794.5 385.5,794.4 386.0,794.4 386.5,794.4 387.0,794.4 387.5,794.5 388.0,794.6 388.5,794.7 389.0,794.8 389.5,794.9 390.0,794.9 390.5,794.9 391.0,794.9 391.5,794.9 392.0,795.0 392.5,795.0 393.0,795.1 393.5,795.1 394.0,795.2 394.5,795.2 395.0,795.3 395.5,795.3 396.0,795.4 396.5,795.4 397.0,795.4 397.5,795.4 398.0,795.5 398.5,795.5 399.0,795.6 399.5,795.6 400.0,795.7 400.5,795.7 401.0,795.6 401.5,795.6 402.0,795.6 402.5,795.6 403.0,795.7 403.5,795.7 404.0,795.7 404.5,795.7 405.0,795.7 405.5,795.7 406.0,795.8 406.5,795.9 407.0,796.0 407.5,796.1 408.0,796.1 408.5,796.1 409.0,796.1 409.5,796.0 410.0,796.0 410.5,795.9 411.0,795.9 411.5,795.9 412.0,796.0 412.5,796.0 413.0,796.1 413.5,796.1 414.0,796.2 414.5,796.2 415.0,796.1 415.5,796.1 416.0,796.1 416.5,796.1 417.0,796.1 417.5,796.1 418.0,796.2 418.5,796.2 419.0,796.3 419.5,796.3 420.0,796.3 420.5,796.3 421.0,796.3 421.5,796.3 422.0,796.3 422.5,796.3 423.0,796.3 423.5,796.2 424.0,796.2 424.5,796.2 425.0,796.2 425.5,796.1 426.0,796.2 426.5,796.2 427.0,796.3 427.5,796.4 428.0,796.4 428.5,796.5 429.0,796.4 429.5,796.4 430.0,796.3 430.5,796.2 431.0,796.2 431.5,796.1 432.0,796.1 432.5,796.0 433.0,795.9 433.5,795.8 434.0,795.6 434.5,795.3 435.0,794.9 435.5,794.2 436.0,793.4 436.5,792.4 437.0,791.7 437.3,791.5 438.0,792.2 438.5,793.1 439.0,794.0 439.5,794.7 440.0,795.1 440.5,795.4 441.0,795.6 441.5,795.8 442.0,796.0 442.5,796.1 443.0,796.1 443.5,796.1 444.0,796.1 444.5,796.0 445.0,796.0 445.5,796.0 446.0,796.0 446.5,796.0 447.0,796.0 447.5,796.0 448.0,796.0 448.5,796.0 449.0,795.9 449.5,795.9 450.0,795.8 450.5,795.7 451.0,795.7 451.5,795.7 452.0,795.8 452.5,795.8 453.0,795.9 453.5,795.9 454.0,795.9 454.5,795.9 455.0,795.9 455.5,795.9 456.0,795.9 456.5,796.0 457.0,796.0 457.5,796.0 458.0,796.1 458.5,796.1 459.0,796.2 459.5,796.2 460.0,796.3 460.5,796.3 461.0,796.3 461.5,796.3 462.0,796.3 462.5,796.2 463.0,796.1 463.5,796.1 464.0,796.1 464.5,796.1 465.0,796.2 465.5,796.3 466.0,796.3 466.5,796.4 467.0,796.5 467.5,796.5 468.0,796.4 468.5,796.4 469.0,796.3 469.5,796.3 470.0,796.2 470.5,796.2 471.0,796.2 471.5,796.1 472.0,796.1 472.5,796.1 473.0,796.0 473.5,796.0 474.0,796.0 474.5,796.0 475.0,796.0 475.5,796.0 476.0,796.0 476.5,796.0 477.0,796.0 477.5,796.0 478.0,796.1 478.5,796.1 479.0,796.1 479.5,796.1 480.0,796.1 480.5,796.1 481.0,796.1 481.5,796.1 482.0,796.1 482.5,796.0 483.0,796.0 483.5,796.0 484.0,796.1 484.5,796.1 485.0,796.1 485.5,796.1 486.0,796.1 486.5,796.1 487.0,796.1 487.5,796.1 488.0,796.1 488.5,796.1 489.0,796.1 489.5,796.1 490.0,796.0 490.5,795.9 491.0,795.9 491.5,795.8 492.0,795.7 492.5,795.7 493.0,795.6 493.5,795.5 494.0,795.5 494.5,795.4 495.0,795.4 495.5,795.3 496.0,795.3 496.5,795.2 497.0,795.2 497.5,795.1 498.0,795.0 498.5,794.9 499.0,794.8 499.5,794.6 500.0,794.5 500.5,794.3 501.0,794.2 501.5,794.2 502.0,794.1 502.3,794.2 503.0,794.2 503.5,794.3 504.0,794.4 504.5,794.5 505.0,794.6 505.5,794.6 506.0,794.6 506.5,794.5 507.0,794.4 507.5,794.2 508.0,794.1 508.5,793.9 509.0,793.6 509.5,793.3 510.0,792.8 510.5,792.2 511.0,791.3 511.5,790.1 512.0,788.3 512.5,785.9 513.0,783.0 513.5,780.0 514.1,778.1 514.5,778.6 515.0,780.8 515.5,783.6 516.0,786.0 516.5,787.9 517.0,789.1 517.5,789.8 518.0,790.1 518.5,789.9 519.0,789.2 519.5,787.8 520.0,785.2 520.5,780.7 521.0,773.3 521.5,762.9 522.0,752.2 522.4,748.1 523.0,755.3 523.5,766.5 524.0,776.1 524.5,782.6 525.0,786.6 525.5,788.9 526.0,790.4 526.5,791.4 527.0,792.0 527.5,792.4 528.0,792.8 528.5,793.0 529.0,793.3 529.5,793.5 530.0,793.7 530.5,793.9 531.0,794.0 531.5,794.1 532.0,794.1 532.5,794.1 533.1,794.2 533.5,794.2 534.0,794.3 534.5,794.4 535.0,794.4 535.5,794.5 536.0,794.5 536.5,794.5 537.0,794.6 537.5,794.6 538.0,794.7 538.5,794.7 539.0,794.7 539.5,794.7 540.0,794.6 540.5,794.6 541.0,794.5 541.5,794.5 542.0,794.4 542.5,794.2 543.0,794.0 543.5,793.8 544.0,793.5 544.5,793.3 545.0,793.2 545.5,793.3 546.0,793.4 546.5,793.6 547.0,793.8 547.5,793.9 548.0,793.8 548.5,793.6 549.0,793.2 549.5,792.8 550.2,792.4 550.5,792.3 551.0,792.5 551.5,792.6 552.0,792.7 552.5,792.6 553.0,792.3 553.5,791.6 554.0,790.3 554.5,788.1 555.0,784.1 555.5,777.8 556.0,769.3 556.7,761.4 557.0,763.2 557.5,771.1 558.0,779.2 558.5,785.1 559.0,788.6 559.5,790.6 560.0,791.8 560.5,792.5 561.0,793.0 561.5,793.2 562.0,793.4 562.5,793.6 563.0,793.7 563.5,793.9 564.0,794.1 564.5,794.3 565.0,794.4 565.5,794.4 566.0,794.4 566.5,794.3 567.0,794.2 567.5,794.1 568.0,794.0 568.5,794.0 569.0,794.1 569.5,794.2 570.0,794.4 570.5,794.6 571.0,794.7 571.5,794.9 572.0,795.0 572.5,795.1 573.0,795.1 573.5,795.2 574.0,795.2 574.5,795.2 575.0,795.1 575.5,795.1 576.0,795.1 576.5,795.1 577.0,795.1 577.5,795.1 578.0,795.2 578.5,795.2 579.0,795.1 579.5,795.1 580.0,795.0 580.5,794.9 581.0,794.8 581.5,794.6 582.0,794.6 582.5,794.5 583.0,794.6 583.5,794.6 584.0,794.7 584.5,794.7 585.0,794.7 585.5,794.7 586.0,794.6 586.5,794.4 587.0,794.2 587.5,793.9 588.0,793.7 588.5,793.4 589.0,793.2 589.5,793.1 590.0,793.0 590.5,792.9 591.0,792.9 591.5,792.9 592.0,793.0 592.5,793.1 593.0,793.1 593.5,793.2 594.0,793.2 594.5,793.2 595.0,793.1 595.5,793.1 596.0,793.0 596.5,792.8 597.0,792.3 597.5,791.5 598.0,790.2 598.5,788.3 599.0,785.8 599.5,783.1 600.0,780.8 600.4,780.0 601.0,781.3 601.5,783.8 602.0,786.6 602.5,789.0 603.0,790.7 603.5,791.9 604.0,792.7 604.5,793.2 605.0,793.6 605.5,793.8 606.0,794.0 606.5,794.1 607.0,794.2 607.5,794.2 608.0,794.3 608.5,794.3 609.0,794.4 609.5,794.3 610.0,794.3 610.5,794.2 611.0,794.0 611.5,793.7 612.0,793.3 612.5,792.8 613.0,792.2 613.5,791.5 614.0,790.8 614.6,790.3 615.0,790.1 615.5,790.0 616.0,789.7 616.5,789.2 617.0,788.2 617.5,786.9 618.0,785.3 618.5,783.6 619.0,782.5 619.3,782.3 620.0,783.4 620.5,785.1 621.0,787.1 621.5,788.9 622.0,790.4 622.5,791.6 623.0,792.4 623.5,793.0 624.0,793.4 624.5,793.7 625.0,793.9 625.5,794.0 626.0,794.1 626.5,794.1 627.0,794.2 627.5,794.2 628.0,794.3 628.5,794.4 629.0,794.5 629.5,794.6 630.0,794.7 630.5,794.8 631.0,794.8 631.5,794.8 632.0,794.8 632.5,794.8 633.0,794.9 633.5,794.9 634.0,794.9 634.5,795.0 635.0,795.0 635.5,795.0 636.0,794.9 636.5,794.9 637.0,794.9 637.5,794.8 638.0,794.8 638.5,794.8 639.0,794.8 639.5,794.8 640.0,794.9 640.5,794.9 641.0,794.9 641.5,795.0 642.0,795.0 642.5,795.0 643.0,795.0 643.5,795.0 644.0,795.0 644.5,794.9 645.0,794.9 645.5,794.8 646.0,794.8 646.5,794.7 647.0,794.7 647.5,794.7 648.0,794.7 648.5,794.7 649.0,794.8 649.5,794.8 650.0,794.9 650.5,794.9 651.0,794.9 651.5,794.9 652.0,794.9 652.5,794.8 653.0,794.8 653.5,794.7 654.0,794.6 654.5,794.5 655.0,794.3 655.5,794.1 656.0,793.9 656.5,793.6 657.0,793.1 657.5,792.6 658.0,791.9 658.5,791.1 659.0,790.5 659.5,790.2 660.0,790.4 660.5,790.9 661.0,791.6 661.5,792.3 662.0,793.0 662.5,793.6 663.0,794.0 663.5,794.4 664.0,794.6 664.5,794.7 665.0,794.7 665.5,794.7 666.0,794.7 666.5,794.7 667.0,794.7 667.5,794.7 668.0,794.7 668.5,794.8 669.0,794.8 669.5,794.9 670.0,794.9 670.5,794.9 671.0,794.9 671.5,794.8 672.0,794.9 672.5,794.9 673.0,794.9 673.5,794.9 674.0,795.0 674.5,795.0 675.0,795.0 675.5,795.1 676.0,795.2 676.5,795.2 677.0,795.2 677.5,795.2 678.0,795.1 678.5,795.0 679.0,794.9 679.5,794.8 680.0,794.7 680.5,794.7 681.0,794.6 681.5,794.6 682.0,794.5 682.5,794.5 683.0,794.5 683.5,794.5 684.0,794.4 684.5,794.3 685.0,794.1 685.5,793.8 686.0,793.5 686.5,793.1 687.0,792.6 687.5,792.2 688.0,791.7 688.5,791.2 689.0,790.7 689.5,790.5 689.8,790.4 690.5,790.6 691.0,790.9 691.5,791.4 692.0,792.0 692.5,792.5 693.0,793.0 693.5,793.4 694.0,793.8 694.5,794.0 695.0,794.2 695.5,794.4 696.0,794.5 696.5,794.5 697.0,794.5 697.5,794.5 698.0,794.5 698.5,794.5 699.0,794.4 699.5,794.4 700.0,794.3 700.5,794.3 701.0,794.2 701.5,794.1 702.0,794.0 702.5,793.8 703.0,793.6 703.3,793.7 704.0,794.0 704.5,794.3 705.0,794.6 705.5,794.7 706.0,794.8 706.5,794.8 707.0,794.8 707.5,794.7 708.0,794.7 708.5,794.7 709.0,794.7 709.5,794.6 710.0,794.6 710.5,794.5 711.0,794.5 711.5,794.5 712.0,794.5 712.5,794.6 713.0,794.6 713.5,794.6 714.0,794.7 714.5,794.7 715.0,794.7 715.5,794.7 716.0,794.7 716.5,794.7 717.0,794.6 717.5,794.5 718.0,794.4 718.5,794.4 719.0,794.3 719.5,794.2 720.0,794.0 720.5,793.7 721.0,793.4 721.5,792.9 722.0,792.3 722.5,791.3 723.0,789.9 723.5,787.8 724.0,784.9 724.5,781.5 725.0,778.9 725.3,778.5 726.0,781.5 726.5,785.0 727.0,788.0 727.5,790.2 728.0,791.7 728.5,792.7 729.0,793.3 729.5,793.8 730.0,794.1 730.5,794.4 731.0,794.5 731.5,794.6 732.0,794.6 732.5,794.5 733.0,794.5 733.5,794.3 734.0,794.2 734.5,794.1 735.2,794.0 735.5,794.0 736.0,794.1 736.5,794.3 737.0,794.4 737.5,794.6 738.0,794.7 738.5,794.8 739.0,794.8 739.5,794.8 740.0,794.8 740.5,794.7 741.1,794.6 741.5,794.7 742.0,794.7 742.5,794.8 743.0,794.9 743.5,795.0 744.0,795.0 744.5,795.0 745.0,795.0 745.5,795.0 746.0,794.9 746.5,794.9 747.0,794.9 747.5,794.9 748.0,794.9 748.5,794.9 749.0,794.9 749.5,794.9 750.0,795.0 750.5,795.0 751.0,795.0 751.5,795.0 752.0,795.0 752.5,795.0 753.0,795.0 753.5,795.0 754.0,795.0 754.5,795.0 755.0,795.0 755.5,794.9 756.0,794.9 756.5,794.8 757.0,794.8 757.5,794.8 758.0,794.9 758.5,795.0 759.0,795.1 759.5,795.2 760.0,795.2 760.5,795.2 761.0,795.2 761.5,795.1 762.0,795.1 762.5,795.0 763.0,795.0 763.5,795.0 764.0,795.0 764.5,794.9 765.0,794.8 765.5,794.8 766.0,794.7 766.5,794.6 767.0,794.6 767.5,794.6 768.0,794.7 768.5,794.8 769.0,794.9 769.5,794.9 770.0,795.0 770.5,795.0 771.0,795.0 771.5,795.0 772.0,795.1 772.5,795.2 773.0,795.2 773.5,795.2 774.0,795.2 774.5,795.1 775.0,795.1 775.5,795.1 776.0,795.1 776.5,795.1 777.0,795.1 777.5,795.0 778.0,794.9 778.5,794.8 779.0,794.8 779.5,794.7 780.0,794.7 780.5,794.6 781.0,794.5 781.5,794.5 782.0,794.4 782.5,794.4 783.0,794.3 783.5,794.2 784.0,794.0 784.5,793.8 785.0,793.6 785.5,793.5 786.0,793.4 786.5,793.3 787.0,793.2 787.5,793.0 788.0,792.9 788.5,792.9 789.0,792.8 789.5,792.8 790.0,792.9 790.5,793.0 791.0,793.1 791.5,793.2 792.0,793.3 792.5,793.4 793.0,793.6 793.5,793.7 794.0,793.9 794.5,794.1 795.0,794.2 795.5,794.4 796.0,794.5 796.5,794.6 797.0,794.7 797.5,794.8 798.0,794.9 798.5,795.0 799.0,795.0 799.5,795.0 800.0,795.0 800.5,795.0 801.0,795.0 801.5,795.0 802.0,795.0 802.5,795.1 803.0,795.1 803.5,795.2 804.0,795.2 804.5,795.2 805.0,795.2 805.5,795.3 806.0,795.3 806.5,795.2 807.0,795.2 807.5,795.2 808.0,795.2 808.5,795.2 809.0,795.3 809.5,795.4 810.0,795.5 810.5,795.6 811.0,795.6 811.5,795.5 812.0,795.4 812.5,795.3 813.0,795.2 813.5,795.1 814.0,795.1 814.5,795.2 815.0,795.3 815.5,795.3 816.0,795.3 816.5,795.3 817.0,795.3 817.5,795.3 818.0,795.2 818.5,795.2 819.0,795.1 819.5,795.2 820.0,795.2 820.5,795.2 821.0,795.2 821.5,795.2 822.0,795.2 822.5,795.3 823.0,795.3 823.5,795.4 824.0,795.5 824.5,795.5 825.0,795.6 825.5,795.6 826.0,795.6 826.5,795.5 827.0,795.5 827.5,795.4 828.0,795.4 828.5,795.4 829.0,795.3 829.5,795.3 830.0,795.3 830.5,795.3 831.0,795.3 831.5,795.3 832.0,795.4 832.5,795.4 833.0,795.4 833.5,795.5 834.0,795.5 834.5,795.5 835.0,795.6 835.5,795.6 836.0,795.6 836.5,795.6 837.0,795.6 837.5,795.6 838.0,795.5 838.5,795.5 839.0,795.5 839.5,795.5 840.0,795.5 840.5,795.6 841.0,795.6 841.5,795.6 842.0,795.6 842.5,795.5 843.0,795.5 843.5,795.5 844.0,795.5 844.5,795.5 845.0,795.5 845.5,795.5 846.0,795.5 846.5,795.5 847.0,795.6 847.5,795.6 848.0,795.7 848.5,795.7 849.0,795.7 849.5,795.7 850.0,795.6 850.5,795.6 851.0,795.5 851.5,795.5 852.0,795.4 852.5,795.4 853.0,795.4 853.5,795.4 854.0,795.5 854.5,795.6 855.0,795.7 855.5,795.8 856.0,795.8 856.5,795.8 857.0,795.8 857.5,795.7 858.0,795.7 858.5,795.7 859.0,795.7 859.5,795.7 860.0,795.7 860.5,795.7 861.0,795.7 861.5,795.7 862.0,795.7 862.5,795.7 863.0,795.7 863.5,795.7 864.0,795.8 864.5,795.8 865.0,795.8 865.5,795.8 866.0,795.9 866.5,795.9 867.0,795.9 867.5,796.0 868.0,796.0 868.5,796.0 869.0,796.0 869.5,795.9 870.0,795.9 870.5,795.9 871.0,795.9 871.5,795.9 872.0,795.9 872.5,795.9 873.0,795.9 873.5,795.8 874.0,795.8 874.5,795.7 875.0,795.7 875.5,795.7 876.0,795.7 876.5,795.8 877.0,795.8 877.5,795.7 878.0,795.7 878.5,795.6 879.0,795.6 879.5,795.5 880.0,795.6 880.5,795.6 881.0,795.6 881.5,795.7 882.0,795.7 882.5,795.8 883.0,795.8 883.5,795.8 884.0,795.8 884.5,795.9 885.0,795.9 885.5,795.9 886.0,795.9 886.5,795.9 887.0,795.9 887.5,795.9 888.0,795.8 888.5,795.8 889.0,795.8 889.5,795.8 890.0,795.9 890.5,795.9 891.0,796.0 891.5,796.0 892.0,795.9 892.5,795.9 893.0,795.8 893.5,795.7 894.0,795.6 894.5,795.5 895.0,795.5 895.5,795.5 896.0,795.5 896.5,795.6 897.0,795.6 897.5,795.6 898.0,795.6 898.5,795.6 899.0,795.6 899.5,795.6 900.0,795.6 900.5,795.5 901.0,795.3 901.5,795.2 902.0,794.9 902.5,794.7 903.0,794.5 903.5,794.2 904.0,794.0 904.5,793.8 905.0,793.7 905.4,793.6 906.0,793.7 906.5,793.8 907.0,794.0 907.5,794.3 908.0,794.5 908.5,794.7 909.0,794.9 909.5,795.1 910.0,795.2 910.5,795.4 911.0,795.5 911.5,795.5 912.0,795.6 912.5,795.6 913.0,795.7 913.5,795.7 914.0,795.8 914.5,795.8 915.0,795.9 915.5,795.9 916.0,795.9 916.5,795.9 917.0,795.9 917.5,795.9 918.0,795.9 918.5,796.0 919.0,796.0 919.5,796.0 920.0,796.1 920.5,796.1 921.0,796.1 921.5,796.1 922.0,796.1 922.5,796.0 923.0,796.0 923.5,796.0 924.0,796.0 924.5,796.0 925.0,796.0 925.5,796.0 926.0,795.9 926.5,795.9 927.0,795.9 927.5,795.9 928.0,795.9 928.5,796.0 929.0,796.0 929.5,796.0 930.0,796.0 930.5,796.0 931.0,795.9 931.5,795.9 932.0,795.8 932.5,795.8 933.0,795.8 933.5,795.8 934.0,795.8 934.5,795.8 935.0,795.9 935.5,795.9 936.0,796.0 936.5,796.1 937.0,796.2 937.5,796.3 938.0,796.3 938.5,796.3 939.0,796.3 939.5,796.3 940.0,796.2 940.5,796.2 941.0,796.2 941.5,796.2 942.0,796.2 942.5,796.3 943.0,796.3 943.5,796.3 944.0,796.4 944.5,796.4 945.0,796.4 945.5,796.4 946.0,796.4 946.5,796.3 947.0,796.2 947.5,796.1 948.0,796.0 948.5,796.0 949.0,795.9 949.5,795.9 950.0,795.9 950.5,795.8 951.0,795.8 951.5,795.7 952.0,795.7 952.5,795.7 953.0,795.7 953.5,795.6 954.0,795.5 954.5,795.5 955.0,795.4 955.5,795.4 956.2,795.4 956.5,795.5 957.0,795.6 957.5,795.6 958.0,795.6 958.5,795.6 959.0,795.6 959.5,795.7 960.0,795.8 960.5,796.0 961.0,796.1 961.5,796.2 962.0,796.2 962.5,796.2 963.0,796.2 963.5,796.1 964.0,796.1 964.5,796.2 965.0,796.2 965.5,796.3 966.0,796.4 966.5,796.4 967.0,796.3 967.5,796.3 968.0,796.3 968.5,796.3 969.0,796.3 969.5,796.3 970.0,796.4 970.5,796.4 971.0,796.4 971.5,796.5 972.0,796.5 972.5,796.6 973.0,796.7 973.5,796.7 974.0,796.7 974.5,796.7 975.0,796.6 975.5,796.6 976.0,796.5 976.5,796.5 977.0,796.5 977.5,796.5 978.0,796.5 978.5,796.4 979.0,796.4 979.5,796.5 980.0,796.5 980.5,796.5 981.0,796.5 981.5,796.5 982.0,796.5 982.5,796.5 983.0,796.5 983.5,796.5 984.0,796.4 984.5,796.4 985.0,796.3 985.5,796.3 986.0,796.3 986.5,796.4 987.0,796.4 987.5,796.5 988.0,796.5 988.5,796.5 989.0,796.5 989.5,796.5 990.0,796.6 990.5,796.6 991.0,796.7 991.5,796.7 992.0,796.8 992.5,796.7 993.0,796.6 993.5,796.5 994.0,796.4 994.5,796.2 995.0,796.2 995.5,796.2 996.0,796.3 996.5,796.4 997.0,796.4 997.5,796.5 998.0,796.5 998.5,796.5 999.0,796.5 999.5,796.5 1000.0,796.4 1000.5,796.4 1001.0,796.3 1001.5,796.3 1002.0,796.3 1002.5,796.4 1003.0,796.4 1003.5,796.4 1004.0,796.5 1004.5,796.5 1005.0,796.5 1005.5,796.6 1006.0,796.6 1006.5,796.7 1007.0,796.7 1007.5,796.7 1008.0,796.7 1008.5,796.7 1009.0,796.7 1009.5,796.6 1010.0,796.6 1010.5,796.6 1011.0,796.7 1011.5,796.7 1012.0,796.7 1012.5,796.8 1013.0,796.8 1013.5,796.9 1014.0,796.8 1014.5,796.8 1015.0,796.7 1015.5,796.7 1016.0,796.7 1016.5,796.8 1017.0,796.8 1017.5,796.8 1018.0,796.7 1018.5,796.7 1019.0,796.6 1019.5,796.5 1020.0,796.5 1020.5,796.5 1021.0,796.5 1021.5,796.6 1022.0,796.7 1022.5,796.7 1023.0,796.7 1023.5,796.7 1024.0,796.7 1024.5,796.7 1025.0,796.8 1025.5,796.8 1026.0,796.8 1026.5,796.8 1027.0,796.8 1027.5,796.7 1028.0,796.6 1028.5,796.6 1029.0,796.6 1029.5,796.6" fill="none" stroke="#008000" stroke-width="4.4" stroke-linejoin="round" stroke-linecap="butt" clip-path="url(#cc)"/>
<polyline points="379.5,840.6 380.0,840.6 380.5,840.5 381.0,840.5 381.5,840.6 382.0,840.7 382.5,840.8 383.0,840.9 383.5,841.0 384.0,841.1 384.5,841.1 385.0,841.1 385.5,841.1 386.0,841.1 386.5,841.1 387.0,841.2 387.5,841.2 388.0,841.2 388.5,841.3 389.0,841.3 389.5,841.4 390.0,841.5 390.5,841.6 391.0,841.7 391.5,841.8 392.0,841.8 392.5,841.9 393.0,841.9 393.5,841.9 394.0,841.9 394.5,842.0 395.0,842.0 395.5,842.1 396.0,842.2 396.5,842.3 397.0,842.3 397.5,842.4 398.0,842.4 398.5,842.4 399.0,842.4 399.5,842.4 400.0,842.4 400.5,842.4 401.0,842.4 401.5,842.5 402.0,842.5 402.5,842.6 403.0,842.7 403.5,842.7 404.0,842.8 404.5,842.9 405.0,842.9 405.5,842.9 406.0,842.9 406.5,842.9 407.0,843.0 407.5,843.0 408.0,843.1 408.5,843.2 409.0,843.2 409.5,843.2 410.0,843.3 410.5,843.2 411.0,843.2 411.5,843.3 412.0,843.3 412.5,843.4 413.0,843.4 413.5,843.5 414.0,843.5 414.5,843.6 415.0,843.6 415.5,843.6 416.0,843.6 416.5,843.6 417.0,843.7 417.5,843.7 418.0,843.7 418.5,843.7 419.0,843.7 419.5,843.6 420.0,843.5 420.5,843.4 421.0,843.3 421.5,843.3 422.0,843.3 422.5,843.4 423.0,843.4 423.5,843.5 424.0,843.6 424.5,843.6 425.0,843.6 425.5,843.6 426.0,843.6 426.5,843.6 427.0,843.6 427.5,843.6 428.0,843.6 428.5,843.6 429.0,843.5 429.5,843.5 430.0,843.4 430.5,843.3 431.0,843.2 431.5,843.2 432.0,843.1 432.5,843.0 433.0,842.9 433.5,842.7 434.0,842.4 434.5,842.1 435.0,841.7 435.5,841.3 436.1,841.1 436.5,841.1 437.0,841.3 437.5,841.6 438.0,842.0 438.5,842.3 439.0,842.7 439.5,842.9 440.0,843.1 440.5,843.3 441.0,843.4 441.5,843.4 442.0,843.5 442.5,843.5 443.0,843.5 443.5,843.5 444.0,843.5 444.5,843.5 445.0,843.5 445.5,843.5 446.0,843.5 446.5,843.5 447.0,843.6 447.5,843.6 448.0,843.7 448.5,843.8 449.0,843.8 449.5,843.9 450.0,843.9 450.5,843.9 451.0,843.9 451.5,843.9 452.0,843.8 452.5,843.8 453.0,843.8 453.5,843.8 454.0,843.8 454.5,843.8 455.0,843.8 455.5,843.7 456.0,843.7 456.5,843.7 457.0,843.7 457.5,843.7 458.0,843.7 458.5,843.7 459.0,843.8 459.5,843.8 460.0,843.8 460.5,843.8 461.0,843.8 461.5,843.7 462.0,843.6 462.5,843.5 463.0,843.5 463.5,843.5 464.0,843.5 464.5,843.5 465.0,843.5 465.5,843.4 466.0,843.4 466.5,843.3 467.0,843.3 467.5,843.3 468.0,843.4 468.5,843.4 469.0,843.5 469.5,843.5 470.0,843.5 470.5,843.5 471.0,843.4 471.5,843.4 472.0,843.5 472.5,843.6 473.0,843.7 473.5,843.8 474.0,843.9 474.5,843.9 475.0,843.8 475.5,843.8 476.0,843.7 476.5,843.6 477.0,843.6 477.5,843.6 478.0,843.6 478.5,843.7 479.0,843.8 479.5,843.8 480.0,843.9 480.5,843.8 481.0,843.8 481.5,843.8 482.0,843.7 482.5,843.6 483.0,843.5 483.5,843.4 484.0,843.3 484.5,843.2 485.0,843.2 485.5,843.2 486.0,843.2 486.5,843.3 487.0,843.3 487.5,843.2 488.0,843.1 488.5,843.1 489.0,843.0 489.5,843.0 490.0,843.1 490.5,843.2 491.0,843.2 491.5,843.3 492.0,843.3 492.5,843.3 493.0,843.3 493.5,843.3 494.0,843.2 494.5,843.1 495.0,843.0 495.5,842.9 496.0,842.8 496.5,842.7 497.0,842.7 497.5,842.7 498.0,842.6 498.5,842.5 499.0,842.5 499.5,842.4 500.0,842.4 500.5,842.4 501.0,842.4 501.5,842.4 502.0,842.3 502.5,842.2 503.0,842.1 503.5,842.1 504.0,842.0 504.7,842.0 505.0,842.0 505.5,842.0 506.0,841.9 506.5,841.9 507.0,841.8 507.5,841.7 508.0,841.5 508.5,841.4 509.0,841.3 509.5,841.2 510.0,841.1 510.5,841.1 511.0,840.9 511.5,840.7 512.0,840.4 512.5,840.0 513.0,839.6 513.5,839.2 514.0,838.8 514.5,838.5 515.0,838.2 515.3,838.0 516.0,837.6 516.5,837.4 517.0,837.1 517.5,836.5 518.0,835.7 518.5,834.4 519.0,832.3 519.5,829.4 520.0,825.5 520.5,820.8 521.0,816.0 521.5,812.5 521.8,811.8 522.5,814.8 523.0,819.5 523.5,824.4 524.0,828.8 524.5,832.2 525.0,834.8 525.5,836.6 526.0,837.9 526.5,838.8 527.0,839.4 527.5,839.9 528.0,840.4 528.5,840.7 529.0,840.9 529.5,841.1 530.0,841.1 530.5,841.1 531.0,841.1 531.5,841.1 532.0,841.1 532.5,841.2 533.1,841.3 533.5,841.3 534.0,841.4 534.5,841.5 535.0,841.6 535.5,841.6 536.0,841.7 536.5,841.7 537.0,841.8 537.5,841.9 538.0,841.9 538.5,841.9 539.0,841.9 539.5,841.9 540.0,841.9 540.5,842.0 541.0,842.0 541.5,842.0 542.0,841.9 542.5,841.9 543.0,841.8 543.5,841.7 544.0,841.5 544.5,841.3 545.0,841.0 545.5,840.6 546.0,840.2 546.5,839.8 547.0,839.3 547.5,838.9 548.0,838.6 548.5,838.3 549.0,838.1 549.5,838.1 550.0,838.3 550.5,838.4 551.0,838.6 551.5,838.8 552.0,838.9 552.5,838.8 553.0,838.6 553.5,838.0 554.0,837.0 554.5,835.4 555.0,833.2 555.5,830.3 556.0,827.2 556.7,825.1 557.0,825.5 557.5,827.9 558.0,831.0 558.5,833.8 559.0,836.1 559.5,837.7 560.0,838.8 560.5,839.6 561.0,840.2 561.5,840.6 562.0,840.9 562.5,841.0 563.0,841.2 563.5,841.2 564.0,841.3 564.5,841.3 565.0,841.3 565.5,841.3 566.0,841.3 566.5,841.1 567.0,840.8 567.5,840.5 568.0,840.3 568.5,840.2 569.0,840.3 569.5,840.5 570.0,840.8 570.5,841.1 571.0,841.4 571.5,841.6 572.0,841.7 572.5,841.8 573.0,842.0 573.5,842.1 574.0,842.2 574.5,842.2 575.0,842.3 575.5,842.2 576.0,842.2 576.5,842.1 577.0,842.1 577.5,842.1 578.0,842.0 578.5,842.0 579.0,842.0 579.5,841.9 580.0,841.9 580.5,841.9 581.0,842.0 581.5,842.0 582.0,842.1 582.5,842.1 583.0,842.0 583.5,842.0 584.0,842.0 584.5,842.0 585.0,842.0 585.5,841.9 586.0,841.7 586.5,841.6 587.0,841.3 587.5,841.1 588.0,840.8 588.5,840.6 589.0,840.3 589.5,840.0 590.0,839.6 590.5,839.3 591.0,839.0 591.5,838.7 592.2,838.5 592.5,838.4 593.0,838.4 593.5,838.6 594.0,838.7 594.5,838.9 595.0,839.1 595.5,839.0 596.0,838.8 596.5,838.2 597.0,837.2 597.5,835.8 598.0,834.1 598.5,832.2 599.0,830.3 599.5,829.0 599.8,828.8 600.5,829.9 601.0,831.8 601.5,833.8 602.0,835.8 602.5,837.3 603.0,838.5 603.5,839.4 604.0,839.9 604.5,840.3 605.0,840.6 605.5,840.8 606.0,841.0 606.5,841.1 607.0,841.3 607.5,841.3 608.0,841.4 608.5,841.4 609.0,841.3 609.5,841.3 610.0,841.2 610.5,841.0 611.0,840.8 611.5,840.4 612.0,839.9 612.5,839.3 613.0,838.6 613.5,837.9 614.0,837.1 614.6,836.4 615.0,836.1 615.5,835.6 616.0,835.1 616.5,834.3 617.0,833.3 617.5,832.1 618.0,831.0 618.5,830.3 618.9,830.2 619.5,831.1 620.0,832.5 620.5,834.1 621.0,835.8 621.5,837.2 622.0,838.4 622.5,839.3 623.0,840.0 623.5,840.5 624.0,840.8 624.5,841.0 625.0,841.2 625.5,841.3 626.0,841.3 626.5,841.4 627.0,841.5 627.5,841.5 628.0,841.6 628.5,841.7 629.0,841.7 629.5,841.7 630.0,841.8 630.5,841.8 631.0,841.9 631.5,842.0 632.0,842.1 632.5,842.2 633.0,842.2 633.5,842.1 634.0,842.1 634.5,842.1 635.0,842.2 635.5,842.3 636.0,842.3 636.5,842.3 637.0,842.3 637.5,842.2 638.0,842.2 638.5,842.1 639.0,842.1 639.5,842.0 640.0,842.1 640.5,842.1 641.0,842.2 641.5,842.4 642.0,842.5 642.5,842.5 643.0,842.5 643.5,842.4 644.0,842.3 644.5,842.2 645.0,842.2 645.5,842.2 646.0,842.2 646.5,842.2 647.0,842.2 647.5,842.1 648.0,842.1 648.5,842.1 649.0,842.1 649.5,842.1 650.0,842.1 650.5,842.1 651.0,842.1 651.5,842.1 652.0,842.1 652.5,842.0 653.0,841.9 653.5,841.8 654.0,841.7 654.5,841.6 655.0,841.5 655.5,841.4 656.0,841.2 656.5,840.9 657.0,840.5 657.5,840.1 658.0,839.7 658.5,839.3 659.0,839.0 659.5,838.8 660.0,838.8 660.5,838.9 661.0,839.2 661.5,839.6 662.0,840.0 662.5,840.3 663.0,840.7 663.5,840.9 664.0,841.2 664.5,841.3 665.0,841.5 665.5,841.6 666.0,841.7 666.5,841.8 667.0,841.9 667.5,842.0 668.0,842.0 668.5,841.9 669.0,841.9 669.5,841.9 670.0,842.0 670.5,842.0 671.0,842.0 671.5,842.0 672.0,842.0 672.5,842.0 673.0,842.0 673.5,842.0 674.0,842.0 674.5,842.0 675.0,842.0 675.5,841.9 676.0,841.9 676.5,841.9 677.0,842.0 677.5,842.0 678.0,842.1 678.5,842.2 679.0,842.2 679.5,842.2 680.0,842.2 680.5,842.2 681.0,842.1 681.5,841.9 682.0,841.8 682.5,841.7 683.0,841.6 683.5,841.5 684.0,841.4 684.5,841.3 685.0,841.1 685.5,840.8 686.0,840.4 686.5,840.0 687.0,839.5 687.5,839.1 688.0,838.6 688.5,838.2 689.0,837.8 689.5,837.5 690.0,837.3 690.3,837.3 691.0,837.5 691.5,837.8 692.0,838.3 692.5,838.8 693.0,839.3 693.5,839.7 694.0,840.1 694.5,840.4 695.0,840.8 695.5,841.0 696.0,841.2 696.5,841.3 697.0,841.3 697.5,841.4 698.0,841.5 698.5,841.6 699.0,841.6 699.5,841.6 700.0,841.6 700.5,841.6 701.0,841.5 701.5,841.3 702.0,841.1 702.5,840.7 703.0,840.3 703.5,839.9 704.0,839.5 704.5,839.4 705.0,839.6 705.5,840.0 706.0,840.4 706.5,840.9 707.0,841.2 707.5,841.4 708.0,841.5 708.5,841.5 709.0,841.5 709.5,841.4 710.0,841.3 710.5,841.2 711.0,841.2 711.5,841.1 712.0,841.2 712.5,841.2 713.0,841.3 713.5,841.4 714.0,841.4 714.5,841.5 715.0,841.5 715.5,841.5 716.0,841.6 716.5,841.5 717.0,841.5 717.5,841.4 718.0,841.2 718.5,841.0 719.0,840.7 719.5,840.5 720.0,840.2 720.5,839.9 721.0,839.4 721.5,838.8 722.0,837.8 722.5,836.2 723.0,834.0 723.5,830.8 724.0,826.6 724.5,821.7 725.0,817.3 725.5,815.5 726.0,817.4 726.5,821.9 727.0,826.7 727.5,830.9 728.0,834.0 728.5,836.3 729.0,837.8 729.5,838.8 730.0,839.4 730.5,839.9 731.0,840.3 731.5,840.6 732.0,840.8 732.5,840.8 733.0,840.8 733.5,840.6 734.0,840.5 734.5,840.3 735.2,840.3 735.5,840.3 736.0,840.6 736.5,840.8 737.0,841.1 737.5,841.4 738.0,841.6 738.5,841.7 739.0,841.7 739.5,841.6 740.0,841.6 740.5,841.5 741.1,841.4 741.5,841.4 742.0,841.5 742.5,841.6 743.0,841.7 743.5,841.7 744.0,841.8 744.5,841.9 745.0,841.9 745.5,842.0 746.0,842.0 746.5,842.1 747.0,842.2 747.5,842.3 748.0,842.4 748.5,842.4 749.0,842.3 749.5,842.3 750.0,842.2 750.5,842.2 751.0,842.2 751.5,842.2 752.0,842.2 752.5,842.2 753.0,842.2 753.5,842.3 754.0,842.3 754.5,842.3 755.0,842.2 755.5,842.3 756.0,842.3 756.5,842.3 757.0,842.3 757.5,842.3 758.0,842.3 758.5,842.2 759.0,842.2 759.5,842.1 760.0,842.1 760.5,842.2 761.0,842.3 761.5,842.4 762.0,842.4 762.5,842.4 763.0,842.4 763.5,842.3 764.0,842.3 764.5,842.2 765.0,842.3 765.5,842.3 766.0,842.4 766.5,842.4 767.0,842.4 767.5,842.4 768.0,842.4 768.5,842.4 769.0,842.3 769.5,842.3 770.0,842.2 770.5,842.1 771.0,842.1 771.5,842.0 772.0,841.9 772.5,841.9 773.0,842.0 773.5,842.0 774.0,842.0 774.5,842.0 775.0,841.9 775.5,841.8 776.0,841.7 776.5,841.6 777.0,841.6 777.5,841.5 778.0,841.5 778.5,841.5 779.0,841.5 779.5,841.4 780.0,841.3 780.5,841.2 781.0,841.0 781.5,840.9 782.0,840.8 782.5,840.6 783.0,840.5 783.5,840.3 784.0,840.2 784.5,840.0 785.0,839.8 785.5,839.6 786.0,839.4 786.5,839.2 787.0,839.0 787.5,838.9 788.0,838.8 788.4,838.8 789.0,838.8 789.5,838.9 790.0,839.0 790.5,839.2 791.0,839.4 791.5,839.7 792.0,840.0 792.5,840.2 793.0,840.4 793.5,840.7 794.0,840.9 794.5,841.0 795.0,841.1 795.5,841.2 796.0,841.3 796.5,841.4 797.0,841.4 797.5,841.5 798.0,841.6 798.5,841.7 799.0,841.9 799.5,841.9 800.0,842.0 800.5,842.1 801.0,842.1 801.5,842.1 802.0,842.2 802.5,842.1 803.0,842.1 803.5,842.1 804.0,842.1 804.5,842.1 805.0,842.1 805.5,842.1 806.0,842.1 806.5,842.2 807.0,842.2 807.5,842.1 808.0,842.1 808.5,842.1 809.0,842.2 809.5,842.2 810.0,842.2 810.5,842.3 811.0,842.3 811.5,842.3 812.0,842.3 812.5,842.3 813.0,842.3 813.5,842.3 814.0,842.4 814.5,842.5 815.0,842.5 815.5,842.5 816.0,842.5 816.5,842.5 817.0,842.5 817.5,842.5 818.0,842.5 818.5,842.6 819.0,842.6 819.5,842.7 820.0,842.7 820.5,842.8 821.0,842.8 821.5,842.8 822.0,842.9 822.5,842.9 823.0,842.9 823.5,842.9 824.0,842.8 824.5,842.7 825.0,842.7 825.5,842.7 826.0,842.7 826.5,842.7 827.0,842.6 827.5,842.6 828.0,842.5 828.5,842.5 829.0,842.5 829.5,842.5 830.0,842.5 830.5,842.5 831.0,842.4 831.5,842.3 832.0,842.2 832.5,842.1 833.0,842.0 833.5,842.1 834.0,842.1 834.5,842.2 835.0,842.3 835.5,842.4 836.0,842.5 836.5,842.5 837.0,842.5 837.5,842.6 838.0,842.6 838.5,842.6 839.0,842.7 839.5,842.7 840.0,842.8 840.5,842.8 841.0,842.8 841.5,842.8 842.0,842.8 842.5,842.8 843.0,842.8 843.5,842.7 844.0,842.7 844.5,842.6 845.0,842.6 845.5,842.6 846.0,842.6 846.5,842.6 847.0,842.7 847.5,842.8 848.0,842.8 848.5,842.8 849.0,842.8 849.5,842.8 850.0,842.8 850.5,842.8 851.0,842.7 851.5,842.7 852.0,842.7 852.5,842.7 853.0,842.7 853.5,842.7 854.0,842.7 854.5,842.6 855.0,842.6 855.5,842.6 856.0,842.6 856.5,842.7 857.0,842.8 857.5,842.9 858.0,842.9 858.5,842.9 859.0,842.9 859.5,842.8 860.0,842.9 860.5,842.9 861.0,843.0 861.5,843.0 862.0,843.0 862.5,843.0 863.0,843.0 863.5,843.0 864.0,843.0 864.5,843.0 865.0,843.0 865.5,843.0 866.0,842.9 866.5,842.9 867.0,842.9 867.5,842.8 868.0,842.8 868.5,842.8 869.0,842.8 869.5,842.7 870.0,842.7 870.5,842.7 871.0,842.7 871.5,842.7 872.0,842.7 872.5,842.8 873.0,842.8 873.5,842.9 874.0,842.9 874.5,842.9 875.0,842.8 875.5,842.8 876.0,842.8 876.5,842.8 877.0,842.7 877.5,842.7 878.0,842.7 878.5,842.7 879.0,842.7 879.5,842.7 880.0,842.7 880.5,842.7 881.0,842.8 881.5,842.8 882.0,842.9 882.5,842.9 883.0,843.0 883.5,843.0 884.0,843.0 884.5,842.9 885.0,842.9 885.5,842.8 886.0,842.7 886.5,842.7 887.0,842.7 887.5,842.8 888.0,842.8 888.5,842.8 889.0,842.7 889.5,842.7 890.0,842.5 890.5,842.4 891.0,842.4 891.5,842.4 892.0,842.4 892.5,842.5 893.0,842.5 893.5,842.5 894.0,842.5 894.5,842.5 895.0,842.5 895.5,842.5 896.0,842.6 896.5,842.6 897.0,842.6 897.5,842.6 898.0,842.6 898.5,842.5 899.0,842.5 899.5,842.4 900.0,842.2 900.5,842.1 901.0,841.8 901.5,841.6 902.0,841.3 902.5,841.1 903.0,840.8 903.5,840.6 904.0,840.4 904.5,840.2 905.0,840.0 905.4,839.9 906.0,839.9 906.5,840.0 907.0,840.1 907.5,840.4 908.0,840.7 908.5,841.0 909.0,841.3 909.5,841.6 910.0,841.8 910.5,842.1 911.0,842.2 911.5,842.3 912.0,842.4 912.5,842.4 913.0,842.5 913.5,842.5 914.0,842.5 914.5,842.6 915.0,842.7 915.5,842.8 916.0,842.9 916.5,843.0 917.0,843.1 917.5,843.2 918.0,843.2 918.5,843.1 919.0,843.1 919.5,843.0 920.0,843.0 920.5,843.1 921.0,843.1 921.5,843.1 922.0,843.1 922.5,843.0 923.0,842.9 923.5,842.8 924.0,842.7 924.5,842.7 925.0,842.7 925.5,842.8 926.0,842.8 926.5,842.9 927.0,842.9 927.5,842.9 928.0,842.9 928.5,842.9 929.0,842.9 929.5,842.9 930.0,842.9 930.5,842.9 931.0,843.0 931.5,843.0 932.0,842.9 932.5,842.9 933.0,842.9 933.5,842.8 934.0,842.8 934.5,842.8 935.0,842.7 935.5,842.7 936.0,842.7 936.5,842.7 937.0,842.8 937.5,842.9 938.0,842.9 938.5,842.9 939.0,842.9 939.5,842.8 940.0,842.8 940.5,842.7 941.0,842.7 941.5,842.8 942.0,842.8 942.5,842.8 943.0,842.9 943.5,842.9 944.0,842.9 944.5,842.9 945.0,842.9 945.5,842.9 946.0,842.9 946.5,842.8 947.0,842.7 947.5,842.6 948.0,842.5 948.5,842.4 949.0,842.3 949.5,842.2 950.0,842.2 950.5,842.2 951.0,842.2 951.5,842.2 952.0,842.1 952.5,842.1 953.0,842.0 953.5,841.9 954.0,841.7 954.5,841.5 955.0,841.3 955.5,841.1 956.2,841.0 956.5,840.9 957.0,841.0 957.5,841.1 958.0,841.3 958.5,841.5 959.0,841.7 959.5,841.9 960.0,842.1 960.5,842.2 961.0,842.4 961.5,842.5 962.0,842.7 962.5,842.7 963.0,842.8 963.5,842.9 964.0,842.9 964.5,842.9 965.0,842.9 965.5,842.9 966.0,843.0 966.5,843.0 967.0,843.0 967.5,843.1 968.0,843.2 968.5,843.3 969.0,843.3 969.5,843.3 970.0,843.3 970.5,843.2 971.0,843.1 971.5,843.0 972.0,843.0 972.5,843.0 973.0,843.0 973.5,843.1 974.0,843.1 974.5,843.2 975.0,843.2 975.5,843.3 976.0,843.3 976.5,843.3 977.0,843.3 977.5,843.2 978.0,843.2 978.5,843.2 979.0,843.2 979.5,843.2 980.0,843.2 980.5,843.2 981.0,843.2 981.5,843.1 982.0,843.1 982.5,843.1 983.0,843.1 983.5,843.1 984.0,843.2 984.5,843.2 985.0,843.2 985.5,843.2 986.0,843.1 986.5,843.1 987.0,843.0 987.5,843.0 988.0,842.9 988.5,842.9 989.0,843.0 989.5,843.0 990.0,843.1 990.5,843.1 991.0,843.1 991.5,843.1 992.0,843.1 992.5,843.1 993.0,843.1 993.5,843.1 994.0,843.1 994.5,843.1 995.0,843.1 995.5,843.1 996.0,843.2 996.5,843.2 997.0,843.2 997.5,843.3 998.0,843.3 998.5,843.4 999.0,843.3 999.5,843.3 1000.0,843.3 1000.5,843.2 1001.0,843.2 1001.5,843.1 1002.0,843.1 1002.5,843.0 1003.0,842.9 1003.5,842.8 1004.0,842.8 1004.5,842.9 1005.0,843.0 1005.5,843.1 1006.0,843.2 1006.5,843.2 1007.0,843.2 1007.5,843.1 1008.0,843.1 1008.5,843.0 1009.0,843.0 1009.5,843.0 1010.0,843.0 1010.5,843.1 1011.0,843.1 1011.5,843.1 1012.0,843.2 1012.5,843.2 1013.0,843.3 1013.5,843.3 1014.0,843.4 1014.5,843.4 1015.0,843.5 1015.5,843.5 1016.0,843.5 1016.5,843.4 1017.0,843.3 1017.5,843.3 1018.0,843.3 1018.5,843.3 1019.0,843.3 1019.5,843.3 1020.0,843.3 1020.5,843.3 1021.0,843.3 1021.5,843.3 1022.0,843.2 1022.5,843.2 1023.0,843.2 1023.5,843.1 1024.0,843.1 1024.5,843.0 1025.0,843.0 1025.5,843.1 1026.0,843.1 1026.5,843.1 1027.0,843.1 1027.5,843.1 1028.0,843.0 1028.5,843.1 1029.0,843.1 1029.5,843.1" fill="none" stroke="#FF00FF" stroke-width="4.4" stroke-linejoin="round" stroke-linecap="butt" clip-path="url(#cc)"/>
<polyline points="379.5,926.2 380.0,926.1 380.5,926.1 381.0,926.1 381.5,926.3 382.0,926.5 382.5,926.6 383.0,926.7 383.5,926.7 384.0,926.7 384.5,926.7 385.0,926.7 385.5,926.7 386.0,926.8 386.5,926.9 387.0,926.9 387.5,927.0 388.0,927.1 388.5,927.2 389.0,927.3 389.5,927.4 390.0,927.4 390.5,927.4 391.0,927.4 391.5,927.4 392.0,927.4 392.5,927.5 393.0,927.5 393.5,927.5 394.0,927.5 394.5,927.6 395.0,927.6 395.5,927.7 396.0,927.8 396.5,927.9 397.0,927.9 397.5,928.0 398.0,928.1 398.5,928.2 399.0,928.3 399.5,928.3 400.0,928.2 400.5,928.2 401.0,928.1 401.5,928.0 402.0,928.0 402.5,928.0 403.0,928.0 403.5,928.0 404.0,928.1 404.5,928.2 405.0,928.2 405.5,928.3 406.0,928.4 406.5,928.5 407.0,928.6 407.5,928.6 408.0,928.7 408.5,928.7 409.0,928.7 409.5,928.7 410.0,928.7 410.5,928.7 411.0,928.8 411.5,928.9 412.0,929.0 412.5,929.1 413.0,929.2 413.5,929.1 414.0,929.1 414.5,929.0 415.0,928.8 415.5,928.7 416.0,928.6 416.5,928.6 417.0,928.6 417.5,928.6 418.0,928.7 418.5,928.8 419.0,928.9 419.5,929.0 420.0,929.0 420.5,929.0 421.0,929.0 421.5,929.0 422.0,928.9 422.5,928.9 423.0,928.9 423.5,928.8 424.0,928.9 424.5,928.9 425.0,929.0 425.5,929.0 426.0,929.0 426.5,929.0 427.0,929.0 427.5,929.0 428.0,929.0 428.5,929.0 429.0,929.0 429.5,929.0 430.0,928.9 430.5,928.8 431.0,928.7 431.5,928.5 432.0,928.4 432.5,928.3 433.0,928.2 433.5,928.0 434.0,927.5 434.5,926.8 435.0,925.8 435.5,924.4 436.0,923.0 436.7,921.9 437.0,922.1 437.5,923.2 438.0,924.7 438.5,926.1 439.0,927.1 439.5,927.8 440.0,928.2 440.5,928.4 441.0,928.5 441.5,928.6 442.0,928.6 442.5,928.7 443.0,928.8 443.5,928.8 444.0,928.9 444.5,929.0 445.0,929.0 445.5,928.9 446.0,928.9 446.5,928.8 447.0,928.8 447.5,928.8 448.0,928.8 448.5,928.9 449.0,928.9 449.5,928.9 450.0,928.8 450.5,928.8 451.0,928.8 451.5,928.7 452.0,928.7 452.5,928.6 453.0,928.6 453.5,928.6 454.0,928.6 454.5,928.6 455.0,928.7 455.5,928.8 456.0,928.8 456.5,928.8 457.0,928.8 457.5,928.8 458.0,928.8 458.5,928.8 459.0,928.8 459.5,928.7 460.0,928.7 460.5,928.7 461.0,928.7 461.5,928.7 462.0,928.8 462.5,928.9 463.0,929.0 463.5,929.0 464.0,929.1 464.5,929.1 465.0,929.0 465.5,928.9 466.0,928.8 466.5,928.7 467.0,928.6 467.5,928.6 468.0,928.6 468.5,928.7 469.0,928.9 469.5,929.0 470.0,929.1 470.5,929.2 471.0,929.1 471.5,929.0 472.0,928.9 472.5,928.8 473.0,928.7 473.5,928.7 474.0,928.7 474.5,928.8 475.0,928.8 475.5,928.9 476.0,928.9 476.5,928.9 477.0,928.9 477.5,928.9 478.0,928.9 478.5,928.9 479.0,928.9 479.5,928.9 480.0,928.8 480.5,928.8 481.0,928.7 481.5,928.7 482.0,928.7 482.5,928.7 483.0,928.7 483.5,928.7 484.0,928.8 484.5,928.8 485.0,928.8 485.5,928.8 486.0,928.8 486.5,928.7 487.0,928.7 487.5,928.6 488.0,928.6 488.5,928.5 489.0,928.4 489.5,928.4 490.0,928.3 490.5,928.3 491.0,928.3 491.5,928.3 492.0,928.3 492.5,928.2 493.0,928.1 493.5,928.0 494.0,927.9 494.5,927.8 495.0,927.7 495.5,927.7 496.0,927.7 496.5,927.7 497.0,927.8 497.5,927.8 498.0,927.7 498.5,927.6 499.0,927.4 499.5,927.2 500.0,927.1 500.5,927.0 501.0,927.1 501.5,927.1 502.0,927.2 502.5,927.2 503.0,927.2 503.5,927.1 504.0,927.0 504.5,926.8 505.0,926.6 505.5,926.3 506.0,925.9 506.5,925.5 507.0,924.9 507.5,924.4 508.2,924.0 508.5,924.0 509.0,924.3 509.5,924.8 510.0,925.3 510.5,925.7 511.0,926.0 511.5,926.2 512.0,926.3 512.5,926.4 513.0,926.3 513.5,926.2 514.0,926.1 514.5,925.8 515.0,925.5 515.5,925.2 516.0,924.8 516.5,924.3 517.0,923.6 517.5,922.5 518.0,920.9 518.5,918.4 519.0,913.8 519.5,906.0 520.0,893.2 520.5,875.7 521.2,857.7 521.5,860.5 522.0,876.4 522.5,893.8 523.0,906.3 523.5,914.1 524.0,918.5 524.5,921.0 525.0,922.5 525.5,923.5 526.0,924.2 526.5,924.7 527.0,925.1 527.5,925.5 528.0,925.8 528.5,926.1 529.0,926.3 529.5,926.4 530.0,926.5 530.5,926.5 531.0,926.4 531.5,926.4 532.0,926.4 532.5,926.5 533.1,926.6 533.5,926.6 534.0,926.7 534.5,926.8 535.0,926.9 535.5,927.0 536.0,927.1 536.5,927.2 537.0,927.2 537.5,927.3 538.0,927.3 538.5,927.2 539.0,927.1 539.5,927.0 540.0,926.9 540.5,926.8 541.0,926.7 541.5,926.7 542.0,926.7 542.5,926.6 543.0,926.6 543.5,926.4 544.0,926.3 544.5,926.1 545.0,925.8 545.5,925.4 546.0,924.9 546.5,924.1 547.0,923.1 547.5,921.8 548.0,920.3 548.5,919.0 549.0,918.4 549.5,918.7 550.0,919.7 550.5,920.9 551.0,922.0 551.5,922.6 552.0,922.9 552.5,922.7 553.0,921.9 553.5,920.4 554.0,917.6 554.5,912.3 555.0,903.3 555.5,889.9 556.0,875.8 556.3,871.7 557.0,884.1 557.5,898.7 558.0,909.5 558.5,916.1 559.0,919.8 559.5,921.8 560.0,923.1 560.5,924.0 561.0,924.6 561.5,925.0 562.0,925.3 562.5,925.5 563.0,925.7 563.5,925.8 564.0,925.9 564.5,925.9 565.0,925.9 565.5,925.7 566.0,925.4 566.5,925.0 567.0,924.5 567.5,923.9 568.0,923.5 568.5,923.4 569.0,923.7 569.5,924.4 570.0,925.1 570.5,925.7 571.0,926.2 571.5,926.5 572.0,926.7 572.5,926.8 573.0,926.8 573.5,926.8 574.0,926.8 574.5,926.8 575.0,926.8 575.5,926.8 576.0,926.8 576.5,926.9 577.0,926.9 577.5,927.0 578.0,927.1 578.5,927.1 579.0,927.1 579.5,927.1 580.0,927.0 580.5,927.0 581.0,927.0 581.5,926.9 582.0,926.9 582.5,926.8 583.0,926.7 583.5,926.6 584.0,926.5 584.5,926.4 585.0,926.3 585.5,926.2 586.0,926.1 586.5,925.9 587.0,925.6 587.5,925.2 588.0,924.6 588.5,923.8 589.0,922.8 589.5,921.7 590.0,920.5 590.5,919.6 591.0,919.2 591.5,919.5 592.0,920.3 592.5,921.3 593.0,922.3 593.5,923.1 594.0,923.6 594.5,923.9 595.0,923.9 595.5,923.5 596.0,922.7 596.5,921.2 597.0,918.6 597.5,914.1 598.0,907.3 598.5,898.4 599.0,890.9 599.3,889.6 600.0,898.4 600.5,907.3 601.0,914.1 601.5,918.6 602.0,921.3 602.5,922.9 603.0,923.8 603.5,924.5 604.0,925.0 604.5,925.4 605.0,925.7 605.5,925.9 606.0,926.0 606.5,926.1 607.0,926.2 607.5,926.3 608.0,926.3 608.5,926.4 609.0,926.3 609.5,926.1 610.0,925.8 610.5,925.4 611.0,924.8 611.5,924.1 612.0,923.2 612.5,922.0 613.0,920.6 613.5,919.1 614.0,917.6 614.6,916.3 615.0,915.9 615.5,915.5 616.0,914.8 616.5,913.3 617.0,910.7 617.5,906.9 618.0,902.3 618.5,898.5 618.9,897.5 619.5,900.9 620.0,906.1 620.5,911.3 621.0,915.6 621.5,918.8 622.0,921.0 622.5,922.6 623.0,923.6 623.5,924.2 624.0,924.7 624.5,925.0 625.0,925.3 625.5,925.6 626.0,925.8 626.5,926.1 627.0,926.3 627.5,926.5 628.0,926.6 628.5,926.7 629.0,926.8 629.5,926.8 630.0,926.8 630.5,926.9 631.0,926.9 631.5,926.9 632.0,926.9 632.5,927.0 633.0,927.0 633.5,927.1 634.0,927.1 634.5,927.1 635.0,927.1 635.5,927.0 636.0,926.9 636.5,926.8 637.0,926.7 637.5,926.6 638.0,926.6 638.5,926.5 639.0,926.4 639.4,926.4 640.0,926.5 640.5,926.6 641.0,926.8 641.5,926.9 642.0,927.0 642.5,927.1 643.0,927.1 643.5,927.1 644.0,927.1 644.5,927.1 645.0,927.1 645.5,927.0 646.0,927.0 646.5,927.0 647.0,926.9 647.5,926.9 648.0,926.9 648.5,926.9 649.0,926.9 649.5,926.9 650.0,926.9 650.5,926.9 651.0,926.8 651.5,926.7 652.0,926.6 652.5,926.5 653.0,926.4 653.5,926.3 654.0,926.2 654.5,926.0 655.0,925.8 655.5,925.4 656.0,924.8 656.5,923.8 657.0,922.4 657.5,920.6 658.0,918.4 658.5,916.1 659.0,914.2 659.5,913.4 660.0,914.0 660.5,915.8 661.0,918.0 661.5,920.2 662.0,922.0 662.5,923.4 663.0,924.4 663.5,925.1 664.0,925.6 664.5,926.0 665.0,926.3 665.5,926.5 666.0,926.6 666.5,926.7 667.0,926.6 667.5,926.6 668.0,926.5 668.5,926.4 669.0,926.4 669.5,926.3 670.0,926.1 670.5,925.9 671.0,925.7 671.5,925.5 671.9,925.4 672.5,925.5 673.0,925.7 673.5,926.0 674.0,926.2 674.5,926.4 675.0,926.5 675.5,926.6 676.0,926.6 676.5,926.6 677.0,926.6 677.5,926.7 678.0,926.7 678.5,926.8 679.0,926.8 679.5,926.8 680.0,926.8 680.5,926.8 681.0,926.8 681.5,926.7 682.0,926.7 682.5,926.6 683.0,926.5 683.5,926.4 684.0,926.3 684.5,926.1 685.0,925.8 685.5,925.3 686.0,924.6 686.5,923.7 687.0,922.3 687.5,920.6 688.0,918.5 688.5,916.2 689.0,914.2 689.5,912.9 689.8,912.7 690.5,913.9 691.0,915.8 691.5,917.9 692.0,920.0 692.5,921.7 693.0,923.1 693.5,924.1 694.0,924.8 694.5,925.3 695.0,925.6 695.5,925.8 696.0,925.9 696.5,926.0 697.0,926.1 697.5,926.1 698.0,926.2 698.5,926.2 699.0,926.3 699.5,926.2 700.0,926.1 700.5,925.8 701.0,925.3 701.5,924.6 702.0,923.6 702.5,922.4 703.0,921.2 703.5,920.3 703.9,920.1 704.5,920.7 705.0,921.9 705.5,923.1 706.0,924.1 706.5,924.9 707.0,925.5 707.5,925.8 708.0,926.0 708.5,926.2 709.0,926.2 709.5,926.2 710.0,926.2 710.5,926.1 711.0,926.0 711.5,926.0 712.0,926.1 712.5,926.2 713.0,926.3 713.5,926.4 714.0,926.5 714.5,926.5 715.0,926.5 715.5,926.5 716.0,926.4 716.5,926.2 717.0,926.0 717.5,925.9 718.0,925.7 718.5,925.6 719.0,925.4 719.5,925.2 720.0,924.8 720.5,924.2 721.0,923.5 721.5,922.5 722.0,921.0 722.5,918.7 723.0,914.6 723.5,907.3 724.0,895.5 724.5,879.3 725.0,864.6 725.3,862.0 726.0,878.9 726.5,895.1 727.0,906.9 727.5,914.1 728.0,918.3 728.5,920.6 729.0,922.0 729.5,922.9 730.0,923.5 730.5,923.8 731.0,923.8 731.5,923.6 732.0,923.2 732.5,922.7 733.0,922.2 733.5,921.7 734.0,921.6 734.5,921.9 735.0,922.6 735.5,923.4 736.0,924.1 736.5,924.8 737.0,925.3 737.5,925.6 738.0,925.8 738.5,925.8 739.0,925.7 739.5,925.3 740.0,924.9 740.5,924.4 741.1,924.1 741.5,924.3 742.0,924.8 742.5,925.4 743.0,925.9 743.5,926.3 744.0,926.6 744.5,926.8 745.0,926.9 745.5,927.0 746.0,927.1 746.5,927.1 747.0,927.1 747.5,927.1 748.0,927.0 748.5,926.9 749.0,926.8 749.5,926.8 750.0,926.7 750.5,926.7 751.0,926.8 751.5,926.9 752.0,927.0 752.5,927.0 753.0,927.0 753.5,927.0 754.0,927.0 754.5,926.9 755.0,926.9 755.5,926.9 756.0,926.9 756.5,926.9 757.0,926.9 757.5,926.9 758.0,927.0 758.5,927.1 759.0,927.1 759.5,927.2 760.0,927.2 760.5,927.1 761.0,927.0 761.5,927.0 762.0,926.9 762.5,926.8 763.0,926.8 763.5,926.8 764.0,926.8 764.5,926.7 765.0,926.7 765.5,926.6 766.0,926.5 766.5,926.4 767.0,926.2 767.5,925.9 768.0,925.4 768.5,924.5 769.0,923.1 769.5,920.9 770.0,918.1 770.5,915.0 771.2,912.6 771.5,913.0 772.0,915.2 772.5,918.1 773.0,920.9 773.5,922.9 774.0,924.3 774.5,925.2 775.0,925.7 775.5,926.1 776.0,926.3 776.5,926.4 777.0,926.4 777.5,926.4 778.0,926.4 778.5,926.3 779.0,926.2 779.5,926.1 780.0,926.0 780.5,925.9 781.0,925.8 781.5,925.7 782.0,925.7 782.5,925.6 783.0,925.4 783.5,925.2 784.0,925.0 784.5,924.6 785.0,924.3 785.5,924.1 786.0,923.9 786.5,923.8 787.0,923.7 787.5,923.6 788.0,923.5 788.4,923.5 789.0,923.5 789.5,923.6 790.0,923.8 790.5,923.9 791.0,924.1 791.5,924.3 792.0,924.5 792.5,924.7 793.0,924.9 793.5,925.1 794.0,925.3 794.5,925.6 795.0,925.8 795.5,926.0 796.0,926.2 796.5,926.4 797.0,926.5 797.5,926.7 798.0,926.8 798.5,926.8 799.0,926.9 799.5,926.9 800.0,927.0 800.5,927.0 801.0,927.1 801.5,927.2 802.0,927.2 802.5,927.3 803.0,927.3 803.5,927.3 804.0,927.3 804.5,927.3 805.0,927.3 805.5,927.3 806.0,927.2 806.5,927.2 807.0,927.1 807.5,927.0 808.0,927.0 808.5,926.9 809.0,927.0 809.5,927.0 810.0,927.2 810.5,927.3 811.0,927.4 811.5,927.4 812.0,927.5 812.5,927.5 813.0,927.4 813.5,927.3 814.0,927.2 814.5,927.2 815.0,927.1 815.5,927.0 816.0,926.9 816.5,926.8 817.0,926.7 817.5,926.6 818.0,926.5 818.5,926.4 819.1,926.3 819.5,926.3 820.0,926.4 820.5,926.5 821.0,926.7 821.5,926.9 822.0,927.1 822.5,927.3 823.0,927.5 823.5,927.6 824.0,927.7 824.5,927.7 825.0,927.6 825.5,927.5 826.0,927.4 826.5,927.3 827.0,927.2 827.5,927.3 828.0,927.4 828.5,927.4 829.0,927.5 829.5,927.5 830.0,927.4 830.5,927.4 831.0,927.3 831.5,927.3 832.0,927.3 832.5,927.4 833.0,927.4 833.5,927.4 834.0,927.3 834.5,927.2 835.0,927.1 835.5,926.9 836.0,926.8 836.5,926.6 837.0,926.4 837.5,926.3 838.0,926.1 838.5,925.9 839.2,925.8 839.5,925.8 840.0,925.9 840.5,926.1 841.0,926.4 841.5,926.6 842.0,926.9 842.5,927.1 843.0,927.3 843.5,927.4 844.0,927.4 844.5,927.5 845.0,927.5 845.5,927.6 846.0,927.6 846.5,927.6 847.0,927.6 847.5,927.5 848.0,927.5 848.5,927.5 849.0,927.6 849.5,927.7 850.0,927.8 850.5,927.9 851.0,927.9 851.5,927.8 852.0,927.7 852.5,927.6 853.0,927.5 853.5,927.3 854.0,927.1 854.5,926.9 855.0,926.6 855.5,926.3 856.0,925.9 856.5,925.4 857.0,925.0 857.5,924.7 858.1,924.5 858.5,924.6 859.0,924.9 859.5,925.3 860.0,925.8 860.5,926.3 861.0,926.7 861.5,927.0 862.0,927.2 862.5,927.4 863.0,927.4 863.5,927.5 864.0,927.5 864.5,927.5 865.0,927.4 865.5,927.4 866.0,927.4 866.5,927.4 867.0,927.4 867.5,927.4 868.0,927.5 868.5,927.5 869.0,927.6 869.5,927.6 870.0,927.7 870.5,927.7 871.0,927.7 871.5,927.6 872.0,927.5 872.5,927.3 873.0,927.1 873.5,926.8 874.0,926.5 874.5,926.2 875.0,925.9 875.5,925.6 876.0,925.4 876.5,925.3 877.0,925.3 877.5,925.4 878.0,925.7 878.5,926.0 879.0,926.3 879.5,926.5 880.0,926.7 880.5,926.9 881.0,927.1 881.5,927.3 882.0,927.5 882.5,927.6 883.0,927.7 883.5,927.7 884.0,927.6 884.5,927.5 885.0,927.3 885.5,927.1 886.0,926.8 886.5,926.5 887.0,926.2 887.5,925.8 888.0,925.5 888.5,925.2 888.8,925.2 889.5,925.4 890.0,925.8 890.5,926.3 891.0,926.8 891.5,927.2 892.0,927.5 892.5,927.7 893.0,927.8 893.5,927.9 894.0,927.9 894.5,927.9 895.0,927.9 895.5,927.9 896.0,927.9 896.5,927.9 897.0,927.8 897.5,927.7 898.0,927.5 898.5,927.3 899.0,927.1 899.5,926.8 900.0,926.5 900.5,926.0 901.0,925.5 901.5,924.9 902.0,924.2 902.5,923.5 903.0,923.0 903.5,922.5 904.2,922.3 904.5,922.4 905.0,922.8 905.5,923.3 906.0,923.8 906.5,924.4 907.0,925.0 907.5,925.5 908.0,926.0 908.5,926.4 909.0,926.7 909.5,927.1 910.0,927.3 910.5,927.5 911.0,927.7 911.5,927.8 912.0,927.9 912.5,928.0 913.0,928.0 913.5,928.1 914.0,928.1 914.5,928.2 915.0,928.2 915.5,928.2 916.0,928.2 916.5,928.2 917.0,928.3 917.5,928.3 918.0,928.3 918.5,928.3 919.0,928.4 919.5,928.3 920.0,928.3 920.5,928.3 921.0,928.2 921.5,928.2 922.0,928.2 922.5,928.2 923.0,928.2 923.5,928.2 924.0,928.3 924.5,928.3 925.0,928.4 925.5,928.4 926.0,928.4 926.5,928.3 927.0,928.3 927.5,928.2 928.0,928.2 928.5,928.1 929.0,928.1 929.5,928.0 930.0,928.1 930.5,928.1 931.0,928.2 931.5,928.2 932.0,928.2 932.5,928.3 933.0,928.3 933.5,928.4 934.0,928.4 934.5,928.4 935.0,928.5 935.5,928.5 936.0,928.4 936.5,928.4 937.0,928.4 937.5,928.4 938.0,928.4 938.5,928.3 939.0,928.3 939.5,928.3 940.0,928.2 940.5,928.2 941.0,928.2 941.5,928.2 942.0,928.2 942.5,928.3 943.0,928.4 943.5,928.4 944.0,928.5 944.5,928.5 945.0,928.4 945.5,928.3 946.0,928.2 946.5,928.1 947.0,928.0 947.5,927.9 948.0,927.8 948.5,927.7 949.0,927.6 949.5,927.5 950.0,927.5 950.5,927.3 951.0,927.2 951.5,927.0 952.0,926.8 952.5,926.6 953.0,926.4 953.5,926.1 954.0,925.9 954.5,925.7 955.0,925.6 955.5,925.7 956.0,925.8 956.5,926.0 957.0,926.2 957.5,926.5 958.0,926.7 958.5,926.9 959.0,927.1 959.5,927.3 960.0,927.5 960.5,927.7 961.0,927.8 961.5,928.0 962.0,928.0 962.5,928.0 963.0,928.0 963.5,928.0 964.0,928.0 964.5,928.0 965.0,928.0 965.5,928.0 966.0,928.0 966.5,928.0 967.0,928.0 967.5,928.0 968.0,928.0 968.5,928.0 969.0,928.0 969.5,928.0 970.0,928.1 970.5,928.1 971.0,928.1 971.5,928.1 972.0,928.1 972.5,928.1 973.0,928.2 973.5,928.2 974.0,928.1 974.5,928.0 975.0,927.9 975.5,927.9 976.0,927.8 976.5,927.9 977.0,927.9 977.5,927.9 978.0,927.9 978.5,927.9 979.0,927.9 979.5,927.8 980.0,927.8 980.5,927.8 981.0,927.9 981.5,928.0 982.0,928.1 982.5,928.2 983.0,928.2 983.5,928.2 984.0,928.2 984.5,928.2 985.0,928.2 985.5,928.2 986.0,928.1 986.5,928.1 987.0,928.1 987.5,928.1 988.0,928.1 988.5,928.1 989.0,928.1 989.5,928.1 990.0,928.2 990.5,928.2 991.0,928.1 991.5,928.1 992.0,928.0 992.5,927.9 993.0,927.8 993.5,927.8 994.0,927.7 994.5,927.7 995.0,927.6 995.5,927.6 996.0,927.6 996.5,927.7 997.0,927.8 997.5,927.8 998.0,927.9 998.5,927.8 999.0,927.8 999.5,927.8 1000.0,927.9 1000.5,927.9 1001.0,928.0 1001.5,928.0 1002.0,928.0 1002.5,927.9 1003.0,927.9 1003.5,927.9 1004.0,927.9 1004.5,928.0 1005.0,928.0 1005.5,927.9 1006.0,927.9 1006.5,927.9 1007.0,927.8 1007.5,927.8 1008.0,927.7 1008.5,927.7 1009.0,927.7 1009.5,927.8 1010.0,927.8 1010.5,927.9 1011.0,927.9 1011.5,927.9 1012.0,927.9 1012.5,927.9 1013.0,927.9 1013.5,928.0 1014.0,928.0 1014.5,928.1 1015.0,928.1 1015.5,928.1 1016.0,928.0 1016.5,927.9 1017.0,927.8 1017.5,927.8 1018.0,927.7 1018.5,927.7 1019.0,927.8 1019.5,927.8 1020.0,927.9 1020.5,927.9 1021.0,928.0 1021.5,928.0 1022.0,928.0 1022.5,928.0 1023.0,927.9 1023.5,927.9 1024.0,927.9 1024.5,927.9 1025.0,927.8 1025.5,927.8 1026.0,927.8 1026.5,927.9 1027.0,927.9 1027.5,927.9 1028.0,927.8 1028.5,927.8 1029.0,927.7 1029.5,927.8" fill="none" stroke="#0000FF" stroke-width="4.4" stroke-linejoin="round" stroke-linecap="butt" clip-path="url(#cc)"/>
<polyline points="379.5,1056.0 380.0,1056.1 380.5,1056.2 381.0,1056.1 381.5,1056.1 382.0,1056.0 382.5,1056.0 383.0,1056.0 383.5,1056.0 384.0,1056.0 384.5,1056.0 385.0,1056.0 385.5,1056.0 386.0,1056.1 386.5,1056.2 387.0,1056.3 387.5,1056.5 388.0,1056.6 388.5,1056.6 389.0,1056.7 389.5,1056.8 390.0,1056.9 390.5,1056.9 391.0,1056.9 391.5,1056.9 392.0,1056.8 392.5,1056.8 393.0,1056.7 393.5,1056.8 394.0,1056.9 394.5,1057.0 395.0,1057.1 395.5,1057.2 396.0,1057.2 396.5,1057.2 397.0,1057.2 397.5,1057.2 398.0,1057.3 398.5,1057.4 399.0,1057.5 399.5,1057.6 400.0,1057.7 400.5,1057.8 401.0,1057.8 401.5,1057.8 402.0,1057.7 402.5,1057.7 403.0,1057.6 403.5,1057.6 404.0,1057.6 404.5,1057.6 405.0,1057.7 405.5,1057.8 406.0,1057.8 406.5,1057.9 407.0,1057.9 407.5,1057.8 408.0,1057.8 408.5,1057.9 409.0,1057.9 409.5,1058.0 410.0,1058.0 410.5,1058.0 411.0,1057.9 411.5,1057.8 412.0,1057.8 412.5,1057.7 413.0,1057.7 413.5,1057.8 414.0,1057.9 414.5,1058.0 415.0,1058.1 415.5,1058.3 416.0,1058.3 416.5,1058.4 417.0,1058.3 417.5,1058.2 418.0,1058.1 418.5,1058.0 419.0,1058.0 419.5,1058.0 420.0,1058.0 420.5,1058.0 421.0,1058.1 421.5,1058.1 422.0,1058.1 422.5,1058.1 423.0,1058.1 423.5,1058.0 424.0,1058.0 424.5,1057.9 425.0,1057.9 425.5,1057.9 426.0,1057.9 426.5,1057.9 427.0,1057.9 427.5,1057.9 428.0,1057.9 428.5,1057.9 429.0,1058.0 429.5,1058.0 430.0,1058.0 430.5,1058.1 431.0,1058.1 431.5,1058.1 432.0,1058.1 432.5,1058.0 433.0,1058.0 433.5,1057.9 434.0,1057.8 434.5,1057.8 435.0,1057.7 435.5,1057.7 436.0,1057.7 436.5,1057.7 437.0,1057.7 437.5,1057.7 438.0,1057.7 438.5,1057.6 439.0,1057.5 439.5,1057.3 440.0,1057.0 440.5,1056.7 441.0,1056.3 441.5,1055.8 442.0,1055.2 442.5,1054.3 443.0,1053.3 443.5,1052.1 444.0,1050.9 444.5,1049.9 445.1,1049.3 445.5,1049.5 446.0,1050.3 446.5,1051.4 447.0,1052.6 447.5,1053.7 448.0,1054.7 448.5,1055.5 449.0,1056.1 449.5,1056.6 450.0,1057.0 450.5,1057.2 451.0,1057.4 451.5,1057.5 452.0,1057.6 452.5,1057.6 453.0,1057.7 453.5,1057.7 454.0,1057.7 454.5,1057.6 455.0,1057.6 455.5,1057.7 456.0,1057.7 456.5,1057.8 457.0,1057.9 457.5,1057.9 458.0,1057.9 458.5,1057.9 459.0,1057.9 459.5,1057.9 460.0,1058.0 460.5,1058.0 461.0,1058.1 461.5,1058.1 462.0,1058.1 462.5,1058.1 463.0,1058.1 463.5,1058.0 464.0,1058.0 464.5,1058.0 465.0,1058.1 465.5,1058.1 466.0,1058.1 466.5,1058.0 467.0,1057.9 467.5,1057.9 468.0,1057.9 468.5,1058.0 469.0,1058.1 469.5,1058.1 470.0,1058.1 470.5,1058.1 471.0,1058.1 471.5,1058.1 472.0,1058.1 472.5,1058.1 473.0,1058.0 473.5,1058.0 474.0,1058.0 474.5,1058.0 475.0,1057.9 475.5,1057.9 476.0,1057.9 476.5,1057.9 477.0,1057.9 477.5,1058.0 478.0,1058.0 478.5,1058.1 479.0,1058.1 479.5,1058.1 480.0,1058.1 480.5,1058.1 481.0,1058.1 481.5,1058.2 482.0,1058.1 482.5,1058.1 483.0,1057.9 483.5,1057.8 484.0,1057.6 484.5,1057.5 485.0,1057.5 485.5,1057.5 486.0,1057.5 486.5,1057.5 487.0,1057.6 487.5,1057.6 488.0,1057.7 488.5,1057.7 489.0,1057.8 489.5,1057.8 490.0,1057.8 490.5,1057.7 491.0,1057.6 491.5,1057.5 492.0,1057.4 492.5,1057.3 493.0,1057.2 493.5,1057.1 494.0,1057.0 494.5,1056.9 495.0,1056.8 495.5,1056.8 496.0,1056.9 496.5,1056.9 497.0,1056.9 497.5,1056.9 498.0,1056.9 498.5,1056.8 499.0,1056.8 499.5,1056.7 500.0,1056.6 500.5,1056.5 501.0,1056.5 501.5,1056.4 502.0,1056.3 502.5,1056.2 503.0,1056.1 503.5,1056.1 504.0,1056.1 504.5,1056.1 505.0,1056.1 505.5,1056.0 506.0,1055.9 506.5,1055.9 507.0,1055.8 507.5,1055.7 508.0,1055.7 508.5,1055.6 509.0,1055.5 509.5,1055.4 510.0,1055.3 510.5,1055.2 511.0,1055.0 511.5,1054.9 512.0,1054.7 512.5,1054.5 513.0,1054.1 513.5,1053.7 514.0,1053.2 514.5,1052.6 515.0,1051.9 515.5,1051.2 516.0,1050.5 516.5,1049.9 517.0,1049.5 517.3,1049.4 518.0,1049.4 518.5,1049.7 519.0,1050.2 519.5,1050.6 520.0,1051.0 520.5,1051.4 521.0,1051.6 521.5,1051.6 522.0,1051.5 522.5,1051.2 523.0,1050.8 523.5,1050.2 524.0,1049.5 524.5,1048.5 525.0,1047.1 525.5,1045.3 526.0,1042.7 526.5,1039.1 527.0,1033.7 527.5,1025.8 528.0,1014.7 528.5,999.8 529.0,981.3 529.5,961.5 530.0,946.4 530.3,942.9 531.0,955.0 531.5,974.0 532.0,993.4 532.5,1009.8 533.0,1022.3 533.5,1031.4 534.0,1037.6 534.5,1041.9 535.0,1044.8 535.5,1046.9 536.0,1048.4 536.5,1049.5 537.0,1050.4 537.5,1051.2 538.0,1051.8 538.5,1052.3 539.0,1052.8 539.5,1053.3 540.0,1053.7 540.5,1054.1 541.0,1054.4 541.5,1054.8 542.0,1055.1 542.5,1055.4 543.0,1055.6 543.5,1055.7 544.0,1055.7 544.5,1055.7 545.0,1055.6 545.5,1055.5 546.0,1055.4 546.5,1055.3 547.0,1055.3 547.5,1055.3 548.0,1055.3 548.5,1055.3 549.0,1055.4 549.5,1055.3 550.0,1055.3 550.5,1055.2 551.0,1055.0 551.5,1054.8 552.0,1054.5 552.5,1054.2 553.0,1053.9 553.5,1053.5 554.0,1053.0 554.5,1052.4 555.0,1051.8 555.5,1051.1 556.0,1050.4 556.5,1049.7 557.0,1049.1 557.5,1048.6 558.0,1048.5 558.5,1048.4 559.0,1048.5 559.5,1048.5 560.0,1048.4 560.5,1047.9 561.0,1046.9 561.5,1045.2 562.0,1042.2 562.5,1037.4 563.0,1030.3 563.5,1020.5 564.0,1008.8 564.5,998.0 565.0,993.7 565.5,999.1 566.0,1010.4 566.5,1022.3 567.0,1032.0 567.5,1039.2 568.0,1044.1 568.5,1047.3 569.0,1049.4 569.5,1050.7 570.0,1051.7 570.5,1052.4 571.0,1053.0 571.5,1053.4 572.0,1053.7 572.5,1053.9 573.0,1054.0 573.5,1054.0 574.0,1054.0 574.5,1053.9 575.0,1053.8 575.5,1053.6 576.0,1053.6 576.4,1053.6 577.0,1053.8 577.5,1054.1 578.0,1054.5 578.5,1054.8 579.0,1055.0 579.5,1055.2 580.0,1055.4 580.5,1055.6 581.0,1055.7 581.5,1055.9 582.0,1056.0 582.5,1056.1 583.0,1056.2 583.5,1056.2 584.0,1056.2 584.5,1056.1 585.0,1056.0 585.5,1056.0 586.0,1055.9 586.5,1055.9 587.0,1056.0 587.5,1056.0 588.0,1056.1 588.5,1056.1 589.0,1056.1 589.5,1056.1 590.0,1056.1 590.5,1056.1 591.0,1056.1 591.5,1056.2 592.0,1056.2 592.5,1056.2 593.0,1056.1 593.3,1056.0 594.0,1055.9 594.5,1055.8 595.0,1055.7 595.5,1055.6 596.0,1055.5 596.5,1055.3 597.0,1054.9 597.5,1054.4 598.0,1053.7 598.5,1052.7 599.0,1051.7 599.5,1050.6 600.0,1049.8 600.4,1049.4 601.0,1049.6 601.5,1050.1 602.0,1050.8 602.5,1051.3 603.0,1051.7 603.5,1051.7 604.0,1051.3 604.5,1050.3 605.0,1048.4 605.5,1045.4 606.0,1041.3 606.5,1036.3 607.0,1031.5 607.5,1029.3 608.0,1031.2 608.5,1035.9 609.0,1041.0 609.5,1045.3 610.0,1048.5 610.5,1050.7 611.0,1052.2 611.5,1053.2 612.0,1053.9 612.5,1054.4 613.0,1054.7 613.5,1054.9 614.0,1054.9 614.5,1054.9 615.0,1054.8 615.5,1054.8 616.0,1054.7 616.5,1054.7 617.0,1054.6 617.5,1054.5 618.0,1054.3 618.5,1053.9 619.0,1053.3 619.5,1052.5 620.0,1051.4 620.5,1049.9 621.0,1048.0 621.5,1045.9 622.0,1043.7 622.5,1042.0 622.9,1041.3 623.5,1041.5 624.0,1042.4 624.5,1043.1 625.0,1043.1 625.5,1042.0 626.0,1039.6 626.5,1036.1 627.0,1032.4 627.6,1030.3 628.0,1031.6 628.5,1035.6 629.0,1040.3 629.5,1044.6 630.0,1047.9 630.5,1050.2 631.0,1051.8 631.5,1052.9 632.0,1053.7 632.5,1054.2 633.0,1054.6 633.5,1054.9 634.0,1055.2 634.5,1055.4 635.0,1055.6 635.5,1055.8 636.0,1055.9 636.5,1055.9 637.0,1055.9 637.5,1055.9 638.0,1055.9 638.5,1055.9 639.0,1055.9 639.5,1056.0 640.0,1056.0 640.5,1056.0 641.0,1056.1 641.5,1056.1 642.0,1056.1 642.5,1056.2 643.0,1056.2 643.5,1056.3 644.0,1056.4 644.5,1056.5 645.0,1056.6 645.5,1056.6 646.0,1056.6 646.5,1056.5 647.0,1056.3 647.7,1056.1 648.0,1056.0 648.5,1056.1 649.0,1056.1 649.5,1056.3 650.0,1056.4 650.5,1056.4 651.0,1056.5 651.5,1056.5 652.0,1056.5 652.5,1056.5 653.0,1056.5 653.5,1056.5 654.0,1056.5 654.5,1056.5 655.0,1056.5 655.5,1056.6 656.0,1056.6 656.5,1056.6 657.0,1056.6 657.5,1056.6 658.0,1056.5 658.5,1056.4 659.0,1056.3 659.5,1056.2 660.0,1056.2 660.5,1056.1 661.0,1056.0 661.5,1055.9 662.0,1055.8 662.5,1055.6 663.0,1055.3 663.5,1054.9 664.0,1054.4 664.5,1053.6 665.0,1052.7 665.5,1051.5 666.0,1050.1 666.5,1048.7 667.0,1047.4 667.5,1046.6 667.8,1046.5 668.5,1047.3 669.0,1048.5 669.5,1049.9 670.0,1051.3 670.5,1052.6 671.0,1053.6 671.5,1054.4 672.0,1054.9 672.5,1055.3 673.0,1055.6 673.5,1055.8 674.0,1055.9 674.5,1056.1 675.0,1056.2 675.5,1056.4 676.0,1056.5 676.5,1056.6 677.0,1056.5 677.5,1056.5 678.0,1056.4 678.5,1056.4 679.0,1056.4 679.5,1056.4 680.2,1056.4 680.5,1056.4 681.0,1056.4 681.5,1056.4 682.0,1056.4 682.5,1056.5 683.0,1056.6 683.5,1056.7 684.0,1056.8 684.5,1056.8 685.0,1056.8 685.5,1056.8 686.0,1056.7 686.5,1056.6 687.0,1056.6 687.5,1056.5 688.0,1056.6 688.5,1056.6 689.0,1056.5 689.5,1056.4 690.0,1056.3 690.5,1056.1 691.0,1055.9 691.5,1055.7 692.0,1055.5 692.5,1055.2 693.0,1054.9 693.5,1054.4 694.0,1053.8 694.5,1053.2 695.0,1052.4 695.5,1051.5 696.0,1050.5 696.5,1049.6 697.0,1048.9 697.5,1048.4 697.8,1048.3 698.5,1048.7 699.0,1049.4 699.5,1050.2 700.0,1051.1 700.5,1052.0 701.0,1052.8 701.5,1053.5 702.0,1054.0 702.5,1054.5 703.0,1054.9 703.5,1055.2 704.0,1055.5 704.5,1055.7 705.0,1055.9 705.5,1056.0 706.0,1056.1 706.5,1056.2 707.0,1056.2 707.5,1056.3 708.0,1056.3 708.5,1056.3 709.0,1056.2 709.5,1056.0 710.0,1055.7 710.5,1055.2 711.0,1054.6 711.5,1053.8 712.0,1053.1 712.7,1052.6 713.0,1052.7 713.5,1053.2 714.0,1053.9 714.5,1054.6 715.0,1055.2 715.5,1055.6 716.0,1055.8 716.5,1055.9 717.0,1055.9 717.5,1055.8 718.0,1055.6 718.5,1055.4 719.0,1055.0 719.5,1054.7 719.8,1054.7 720.5,1054.9 721.0,1055.2 721.5,1055.6 722.0,1055.8 722.5,1055.9 723.0,1056.0 723.5,1056.0 724.0,1056.0 724.5,1056.0 725.0,1056.0 725.5,1055.9 726.0,1055.8 726.5,1055.7 727.0,1055.4 727.5,1054.9 728.0,1054.2 728.5,1053.2 729.0,1052.0 729.5,1050.5 730.0,1048.8 730.5,1047.0 731.0,1045.2 731.5,1043.9 732.0,1043.5 732.5,1044.1 733.0,1045.5 733.5,1047.3 734.0,1049.2 734.5,1051.0 735.0,1052.4 735.5,1053.5 736.0,1054.3 736.5,1054.9 737.0,1055.3 737.5,1055.6 738.0,1055.8 738.5,1055.8 739.0,1055.7 739.5,1055.5 740.0,1055.3 740.5,1054.9 741.0,1054.6 741.5,1054.3 742.0,1054.1 742.3,1054.1 743.0,1054.4 743.5,1054.7 744.0,1055.1 744.5,1055.5 745.0,1055.8 745.5,1056.0 746.0,1056.2 746.5,1056.3 747.0,1056.3 747.5,1056.3 748.2,1056.3 748.5,1056.3 749.0,1056.3 749.5,1056.4 750.0,1056.5 750.5,1056.5 751.0,1056.6 751.5,1056.6 752.0,1056.6 752.5,1056.7 753.0,1056.7 753.5,1056.8 754.0,1056.8 754.5,1056.8 755.0,1056.9 755.5,1057.0 756.0,1057.0 756.5,1057.0 757.0,1057.0 757.5,1056.9 758.0,1056.8 758.5,1056.8 759.0,1056.8 759.5,1056.8 760.0,1056.8 760.5,1056.8 761.0,1056.8 761.5,1056.8 762.0,1056.9 762.5,1056.9 763.0,1057.0 763.5,1057.0 764.0,1057.1 764.5,1057.1 765.0,1057.1 765.5,1057.1 766.0,1057.1 766.5,1057.1 767.0,1057.1 767.5,1057.0 768.0,1057.0 768.5,1057.0 769.0,1056.9 769.5,1056.9 770.0,1056.9 770.5,1057.0 771.0,1057.0 771.5,1057.1 772.0,1057.1 772.5,1057.1 773.0,1057.0 773.5,1057.0 774.0,1057.0 774.5,1057.0 775.0,1057.0 775.5,1057.0 776.0,1056.9 776.5,1056.9 777.0,1056.8 777.5,1056.8 778.0,1056.8 778.5,1056.8 779.0,1056.8 779.5,1056.8 780.0,1056.8 780.5,1056.8 781.0,1056.8 781.5,1056.8 782.0,1056.8 782.5,1056.9 783.0,1056.9 783.5,1057.0 784.0,1057.0 784.5,1057.0 785.0,1057.0 785.5,1056.9 786.0,1056.8 786.5,1056.8 787.0,1056.8 787.5,1056.8 788.0,1056.8 788.5,1056.7 789.0,1056.6 789.5,1056.5 790.0,1056.4 790.5,1056.3 791.0,1056.1 791.5,1056.0 792.0,1055.9 792.5,1055.8 793.0,1055.7 793.5,1055.6 794.0,1055.5 794.5,1055.5 795.0,1055.4 795.5,1055.4 796.0,1055.4 796.5,1055.3 797.0,1055.3 797.5,1055.4 798.0,1055.5 798.5,1055.6 799.0,1055.7 799.5,1055.8 800.0,1055.9 800.5,1056.0 801.0,1056.1 801.5,1056.2 802.0,1056.3 802.5,1056.4 803.0,1056.5 803.5,1056.6 804.0,1056.7 804.5,1056.8 805.0,1056.9 805.5,1056.9 806.0,1056.8 806.5,1056.7 807.0,1056.5 807.5,1056.4 808.0,1056.3 808.5,1056.2 809.0,1056.1 809.5,1056.1 810.0,1056.1 810.5,1056.1 810.8,1056.1 811.5,1056.2 812.0,1056.3 812.5,1056.4 813.0,1056.5 813.5,1056.6 814.0,1056.7 814.5,1056.8 815.0,1057.0 815.5,1057.1 816.0,1057.2 816.5,1057.2 817.0,1057.2 817.5,1057.2 818.0,1057.2 818.5,1057.1 819.0,1057.1 819.5,1057.1 820.0,1057.1 820.5,1057.1 821.0,1057.2 821.5,1057.2 822.0,1057.2 822.5,1057.2 823.0,1057.2 823.5,1057.2 824.0,1057.2 824.5,1057.1 825.0,1057.0 825.5,1056.9 826.0,1056.7 826.5,1056.5 827.0,1056.3 827.5,1056.2 828.0,1056.1 828.6,1056.2 829.0,1056.3 829.5,1056.5 830.0,1056.6 830.5,1056.8 831.0,1056.9 831.5,1057.0 832.0,1057.0 832.5,1057.1 833.0,1057.1 833.5,1057.2 834.0,1057.2 834.5,1057.2 835.0,1057.2 835.5,1057.2 836.0,1057.2 836.5,1057.2 837.0,1057.3 837.5,1057.3 838.0,1057.3 838.5,1057.2 839.0,1057.2 839.5,1057.1 840.0,1057.0 840.5,1056.9 841.0,1056.8 841.5,1056.8 842.0,1056.8 842.5,1056.8 843.0,1056.8 843.5,1056.8 844.0,1056.8 844.5,1056.7 845.0,1056.6 845.5,1056.5 846.0,1056.4 846.5,1056.4 847.0,1056.3 847.5,1056.4 848.0,1056.5 848.5,1056.6 849.0,1056.7 849.5,1056.7 850.0,1056.8 850.5,1056.9 851.0,1057.0 851.5,1057.1 852.0,1057.2 852.5,1057.3 853.0,1057.3 853.5,1057.3 854.0,1057.3 854.5,1057.3 855.0,1057.3 855.5,1057.3 856.0,1057.3 856.5,1057.4 857.0,1057.4 857.5,1057.4 858.0,1057.4 858.5,1057.4 859.0,1057.4 859.5,1057.4 860.0,1057.4 860.5,1057.5 861.0,1057.5 861.5,1057.4 862.0,1057.3 862.5,1057.1 863.0,1056.8 863.5,1056.5 864.0,1056.4 864.5,1056.3 865.2,1056.2 865.5,1056.3 866.0,1056.3 866.5,1056.4 867.0,1056.5 867.5,1056.6 868.0,1056.7 868.5,1056.8 869.0,1056.9 869.5,1057.0 870.0,1057.0 870.5,1057.1 871.0,1057.1 871.5,1057.2 872.0,1057.3 872.5,1057.4 873.0,1057.4 873.5,1057.4 874.0,1057.4 874.5,1057.3 875.0,1057.3 875.5,1057.3 876.0,1057.3 876.5,1057.2 877.0,1057.2 877.5,1057.1 878.0,1057.1 878.5,1057.0 879.0,1056.9 879.5,1056.8 880.0,1056.7 880.5,1056.6 881.0,1056.5 881.5,1056.4 882.0,1056.3 882.5,1056.2 882.9,1056.2 883.5,1056.2 884.0,1056.3 884.5,1056.4 885.0,1056.6 885.5,1056.7 886.0,1056.8 886.5,1057.0 887.0,1057.1 887.5,1057.2 888.0,1057.2 888.5,1057.1 889.0,1057.1 889.5,1057.1 890.0,1057.2 890.5,1057.3 891.0,1057.3 891.5,1057.3 892.0,1057.3 892.5,1057.1 893.0,1056.9 893.5,1056.7 894.0,1056.6 894.5,1056.4 895.0,1056.2 895.5,1056.0 896.0,1055.8 896.5,1055.7 897.1,1055.6 897.5,1055.6 898.0,1055.8 898.5,1056.0 899.0,1056.3 899.5,1056.6 900.0,1056.9 900.5,1057.0 901.0,1057.2 901.5,1057.2 902.0,1057.3 902.5,1057.3 903.0,1057.3 903.5,1057.3 904.0,1057.2 904.5,1057.2 905.0,1057.1 905.5,1057.0 906.0,1057.0 906.5,1057.0 907.0,1057.0 907.5,1057.0 908.0,1056.9 908.5,1056.6 909.0,1056.4 909.5,1056.0 910.0,1055.6 910.5,1055.2 911.0,1054.8 911.5,1054.3 912.0,1054.0 912.5,1053.9 913.0,1054.0 913.5,1054.3 914.0,1054.7 914.5,1055.2 915.0,1055.5 915.5,1055.8 916.0,1056.0 916.5,1056.2 917.0,1056.4 917.5,1056.6 918.0,1056.8 918.5,1057.0 919.0,1057.2 919.5,1057.3 920.0,1057.3 920.5,1057.3 921.0,1057.3 921.5,1057.3 922.0,1057.3 922.5,1057.3 923.0,1057.4 923.5,1057.5 924.0,1057.6 924.5,1057.6 925.0,1057.7 925.5,1057.8 926.0,1057.9 926.5,1058.0 927.0,1058.0 927.5,1058.0 928.0,1057.9 928.5,1057.9 929.0,1057.9 929.5,1057.9 930.0,1057.8 930.5,1057.8 931.0,1057.8 931.5,1057.8 932.0,1057.9 932.5,1058.0 933.0,1058.1 933.5,1058.1 934.0,1058.1 934.5,1058.0 935.0,1057.9 935.5,1057.9 936.0,1057.8 936.5,1057.8 937.0,1057.8 937.5,1057.8 938.0,1057.8 938.5,1057.8 939.0,1057.8 939.5,1057.8 940.0,1057.8 940.5,1057.7 941.0,1057.6 941.5,1057.5 942.0,1057.5 942.5,1057.5 943.0,1057.5 943.5,1057.6 944.0,1057.6 944.5,1057.6 945.0,1057.6 945.5,1057.6 946.0,1057.6 946.5,1057.6 947.0,1057.7 947.5,1057.7 948.0,1057.8 948.5,1057.9 949.0,1058.0 949.5,1058.1 950.0,1058.2 950.5,1058.2 951.0,1058.2 951.5,1058.1 952.0,1058.1 952.5,1058.0 953.0,1057.9 953.5,1057.8 954.0,1057.8 954.5,1057.7 955.0,1057.7 955.5,1057.6 956.0,1057.6 956.5,1057.6 957.0,1057.6 957.5,1057.6 958.0,1057.6 958.5,1057.6 959.0,1057.6 959.5,1057.5 960.0,1057.5 960.5,1057.4 961.0,1057.2 961.5,1057.1 962.0,1056.9 962.5,1056.7 963.0,1056.5 963.5,1056.4 964.0,1056.3 964.5,1056.3 965.0,1056.4 965.5,1056.5 966.0,1056.6 966.5,1056.8 967.0,1057.0 967.5,1057.1 968.0,1057.2 968.5,1057.3 969.0,1057.4 969.5,1057.5 970.0,1057.6 970.5,1057.7 971.0,1057.8 971.5,1057.8 972.0,1057.9 972.5,1057.9 973.0,1057.9 973.5,1057.9 974.0,1058.0 974.5,1058.0 975.0,1058.1 975.5,1058.1 976.0,1058.1 976.5,1058.1 977.0,1058.0 977.5,1058.0 978.0,1057.9 978.5,1057.9 979.0,1057.9 979.5,1057.8 980.0,1057.8 980.5,1057.8 981.0,1057.8 981.5,1057.9 982.0,1057.9 982.5,1057.9 983.0,1057.9 983.5,1057.9 984.0,1057.9 984.5,1058.0 985.0,1058.0 985.5,1058.1 986.0,1058.2 986.5,1058.3 987.0,1058.3 987.5,1058.3 988.0,1058.3 988.5,1058.1 989.0,1058.0 989.5,1058.0 990.0,1058.0 990.5,1058.1 991.0,1058.1 991.5,1058.2 992.0,1058.3 992.5,1058.4 993.0,1058.4 993.5,1058.4 994.0,1058.4 994.5,1058.3 995.0,1058.2 995.5,1058.1 996.0,1058.0 996.5,1057.9 997.0,1057.9 997.5,1057.9 998.0,1058.0 998.5,1058.1 999.0,1058.1 999.5,1058.1 1000.0,1058.0 1000.5,1057.9 1001.0,1057.9 1001.5,1057.8 1002.0,1057.8 1002.5,1057.8 1003.0,1057.8 1003.5,1057.9 1004.0,1057.9 1004.5,1058.0 1005.0,1058.0 1005.5,1058.0 1006.0,1057.9 1006.5,1058.0 1007.0,1058.1 1007.5,1058.2 1008.0,1058.2 1008.5,1058.3 1009.0,1058.3 1009.5,1058.2 1010.0,1058.1 1010.5,1058.0 1011.0,1057.9 1011.5,1057.8 1012.0,1057.8 1012.5,1057.8 1013.0,1057.9 1013.5,1058.0 1014.0,1058.0 1014.5,1058.1 1015.0,1058.1 1015.5,1058.0 1016.0,1058.0 1016.5,1058.0 1017.0,1058.0 1017.5,1058.0 1018.0,1058.1 1018.5,1058.1 1019.0,1058.0 1019.5,1058.0 1020.0,1058.0 1020.5,1058.0 1021.0,1058.0 1021.5,1058.0 1022.0,1057.9 1022.5,1057.9 1023.0,1057.9 1023.5,1057.9 1024.0,1058.0 1024.5,1058.0 1025.0,1058.1 1025.5,1058.1 1026.0,1058.1 1026.5,1058.1 1027.0,1058.1 1027.5,1058.0 1028.0,1058.0 1028.5,1057.9 1029.0,1057.9 1029.5,1057.9" fill="none" stroke="#FF0000" stroke-width="4.4" stroke-linejoin="round" stroke-linecap="butt" clip-path="url(#cc)"/>
<polyline points="379.5,1119.0 380.0,1119.0 380.5,1119.1 381.0,1119.2 381.5,1119.3 382.0,1119.3 382.5,1119.3 383.0,1119.3 383.5,1119.4 384.0,1119.4 384.5,1119.5 385.0,1119.5 385.5,1119.6 386.0,1119.6 386.5,1119.7 387.0,1119.8 387.5,1119.8 388.0,1119.8 388.5,1119.8 389.0,1119.7 389.5,1119.6 390.0,1119.6 390.5,1119.5 391.0,1119.6 391.5,1119.6 392.0,1119.7 392.5,1119.8 393.0,1119.9 393.5,1120.0 394.0,1120.0 394.5,1120.1 395.0,1120.1 395.5,1120.1 396.0,1120.1 396.5,1120.2 397.0,1120.3 397.5,1120.4 398.0,1120.5 398.5,1120.5 399.0,1120.5 399.5,1120.5 400.0,1120.4 400.5,1120.4 401.0,1120.5 401.5,1120.5 402.0,1120.6 402.5,1120.7 403.0,1120.7 403.5,1120.6 404.0,1120.6 404.5,1120.5 405.0,1120.5 405.5,1120.5 406.0,1120.6 406.5,1120.7 407.0,1120.9 407.5,1121.0 408.0,1121.0 408.5,1121.1 409.0,1121.0 409.5,1121.0 410.0,1121.0 410.5,1121.0 411.0,1121.0 411.5,1121.0 412.0,1121.0 412.5,1121.0 413.0,1121.0 413.5,1121.0 414.0,1121.0 414.5,1120.9 415.0,1120.9 415.5,1121.0 416.0,1121.0 416.5,1121.1 417.0,1121.1 417.5,1121.2 418.0,1121.2 418.5,1121.2 419.0,1121.2 419.5,1121.2 420.0,1121.2 420.5,1121.2 421.0,1121.3 421.5,1121.3 422.0,1121.4 422.5,1121.4 423.0,1121.4 423.5,1121.3 424.0,1121.3 424.5,1121.2 425.0,1121.2 425.5,1121.2 426.0,1121.1 426.5,1121.1 427.0,1121.1 427.5,1121.1 428.0,1121.2 428.5,1121.2 429.0,1121.2 429.5,1121.3 430.0,1121.3 430.5,1121.3 431.0,1121.3 431.5,1121.3 432.0,1121.2 432.5,1121.2 433.0,1121.1 433.5,1121.1 434.0,1121.1 434.5,1121.0 435.0,1120.8 435.5,1120.6 436.0,1120.3 436.7,1120.1 437.0,1120.1 437.5,1120.2 438.0,1120.5 438.5,1120.7 439.0,1120.9 439.5,1121.1 440.0,1121.2 440.5,1121.2 441.0,1121.3 441.5,1121.3 442.0,1121.3 442.5,1121.3 443.0,1121.3 443.5,1121.3 444.0,1121.3 444.5,1121.3 445.0,1121.4 445.5,1121.3 446.0,1121.3 446.5,1121.3 447.0,1121.2 447.5,1121.2 448.0,1121.1 448.5,1121.0 449.0,1120.9 449.5,1120.8 450.0,1120.8 450.5,1120.8 451.0,1120.8 451.5,1120.8 452.0,1120.8 452.5,1120.8 453.0,1120.7 453.5,1120.7 454.0,1120.7 454.5,1120.8 455.0,1120.9 455.5,1121.0 456.0,1121.0 456.5,1121.1 457.0,1121.1 457.5,1121.0 458.0,1121.0 458.5,1120.9 459.0,1120.9 459.5,1120.9 460.0,1120.9 460.5,1121.0 461.0,1121.1 461.5,1121.1 462.0,1121.1 462.5,1121.0 463.0,1120.8 463.5,1120.6 464.0,1120.3 464.5,1119.9 465.0,1119.2 465.5,1118.2 466.0,1117.1 466.5,1116.2 466.9,1115.9 467.5,1116.6 468.0,1117.6 468.5,1118.7 469.0,1119.5 469.5,1120.1 470.0,1120.4 470.5,1120.6 471.0,1120.7 471.5,1120.7 472.0,1120.8 472.5,1120.9 473.0,1121.0 473.5,1121.1 474.0,1121.1 474.5,1121.2 475.0,1121.1 475.5,1121.1 476.0,1121.1 476.5,1121.2 477.0,1121.2 477.5,1121.2 478.0,1121.1 478.5,1121.0 479.0,1121.0 479.5,1120.9 480.0,1120.9 480.5,1120.9 481.0,1120.9 481.5,1120.9 482.0,1121.0 482.5,1121.0 483.0,1121.0 483.5,1121.1 484.0,1121.1 484.5,1121.1 485.0,1121.0 485.5,1121.0 486.0,1121.0 486.5,1121.1 487.0,1121.1 487.5,1121.1 488.0,1121.0 488.5,1120.9 489.0,1120.8 489.5,1120.7 490.0,1120.7 490.5,1120.7 491.0,1120.7 491.5,1120.7 492.0,1120.7 492.5,1120.6 493.0,1120.6 493.5,1120.6 494.0,1120.5 494.5,1120.5 495.0,1120.4 495.5,1120.4 496.0,1120.4 496.5,1120.4 497.0,1120.4 497.5,1120.4 498.0,1120.4 498.5,1120.4 499.0,1120.4 499.5,1120.4 500.0,1120.4 500.5,1120.4 501.0,1120.4 501.5,1120.3 502.0,1120.2 502.5,1120.1 503.0,1120.1 503.5,1120.1 504.0,1120.1 504.5,1120.1 505.0,1120.1 505.5,1120.0 506.0,1120.0 506.5,1119.9 507.0,1119.8 507.5,1119.6 508.0,1119.1 508.5,1118.4 509.0,1117.7 509.4,1117.4 510.0,1117.8 510.5,1118.4 511.0,1118.9 511.5,1119.1 512.0,1118.9 512.5,1118.4 513.0,1117.8 513.6,1117.4 514.0,1117.6 514.5,1118.1 515.0,1118.6 515.5,1118.9 516.0,1119.0 516.5,1118.9 517.0,1118.8 517.5,1118.6 518.0,1118.3 518.5,1118.0 519.0,1117.4 519.5,1116.5 520.0,1114.9 520.5,1112.1 521.0,1107.7 521.5,1101.6 522.0,1095.2 522.4,1092.8 523.0,1097.0 523.5,1103.6 524.0,1109.2 524.5,1113.0 525.0,1115.4 525.5,1116.8 526.0,1117.6 526.5,1118.1 527.0,1118.5 527.5,1118.7 528.0,1118.9 528.5,1119.0 529.0,1119.1 529.5,1119.1 530.0,1119.1 530.5,1119.1 531.0,1119.1 531.3,1119.2 532.0,1119.3 532.5,1119.3 533.0,1119.4 533.5,1119.5 534.0,1119.6 534.5,1119.6 535.0,1119.6 535.5,1119.5 536.0,1119.4 536.5,1119.3 537.0,1119.3 537.5,1119.3 538.0,1119.3 538.5,1119.4 539.0,1119.5 539.5,1119.5 540.0,1119.4 540.5,1119.3 541.0,1119.0 541.5,1118.3 542.0,1117.0 542.5,1114.7 543.0,1111.2 543.5,1107.3 544.2,1104.4 544.5,1105.1 545.0,1108.2 545.5,1111.8 546.0,1114.7 546.5,1116.4 547.0,1117.2 547.5,1117.3 548.0,1116.7 548.5,1114.2 549.0,1106.8 549.5,1094.7 549.8,1090.2 550.5,1102.1 551.0,1111.6 551.5,1115.3 552.0,1115.8 552.5,1115.0 553.0,1112.4 553.5,1106.3 554.0,1094.5 554.5,1078.8 554.9,1071.6 555.5,1083.4 556.0,1098.8 556.5,1109.0 557.0,1114.0 557.5,1116.2 558.0,1117.3 558.5,1117.9 559.0,1118.3 559.5,1118.6 560.0,1118.7 560.5,1118.8 561.0,1118.7 561.5,1118.7 562.0,1118.6 562.5,1118.4 563.0,1118.1 563.5,1117.6 564.0,1117.1 564.5,1116.5 565.0,1116.2 565.5,1116.4 566.0,1116.7 566.5,1117.0 567.0,1116.8 567.5,1116.0 568.0,1114.4 568.5,1112.3 569.0,1109.9 569.7,1108.2 570.0,1108.6 570.5,1110.4 571.0,1112.8 571.5,1115.0 572.0,1116.7 572.5,1117.8 573.0,1118.5 573.5,1118.8 574.0,1119.1 574.5,1119.2 575.0,1119.3 575.5,1119.5 576.0,1119.6 576.5,1119.6 577.0,1119.6 577.5,1119.6 578.0,1119.5 578.5,1119.4 579.0,1119.4 579.5,1119.4 580.0,1119.4 580.5,1119.5 581.0,1119.5 581.5,1119.6 582.0,1119.6 582.5,1119.6 583.0,1119.6 583.5,1119.5 584.0,1119.3 584.5,1119.2 585.0,1119.0 585.5,1118.8 586.0,1118.6 586.5,1118.5 587.0,1118.4 587.4,1118.4 588.0,1118.5 588.5,1118.6 589.0,1118.8 589.5,1118.9 590.0,1118.9 590.5,1118.9 591.0,1118.9 591.5,1118.8 592.0,1118.7 592.5,1118.6 593.0,1118.6 593.3,1118.6 594.0,1118.6 594.5,1118.7 595.0,1118.7 595.5,1118.6 596.0,1118.3 596.5,1117.7 597.0,1116.8 597.5,1115.3 598.0,1113.4 598.5,1110.9 599.0,1108.3 599.5,1106.3 599.8,1105.8 600.5,1107.4 601.0,1110.0 601.5,1112.6 602.0,1114.8 602.5,1116.4 603.0,1117.5 603.5,1118.2 604.0,1118.6 604.5,1118.7 605.0,1118.8 605.5,1118.8 606.0,1118.8 606.5,1118.9 607.0,1119.1 607.5,1119.2 608.0,1119.4 608.5,1119.4 609.0,1119.4 609.5,1119.3 610.0,1119.1 610.5,1118.9 611.0,1118.7 611.5,1118.5 612.0,1118.1 612.5,1117.8 613.0,1117.3 613.5,1116.8 614.0,1116.2 614.6,1115.6 615.0,1115.4 615.5,1115.2 616.0,1114.9 616.5,1114.4 617.0,1113.5 617.5,1112.3 618.0,1110.9 618.5,1109.6 619.0,1108.6 619.3,1108.5 620.0,1109.4 620.5,1110.8 621.0,1112.5 621.5,1114.2 622.0,1115.6 622.5,1116.7 623.0,1117.6 623.5,1118.2 624.0,1118.6 624.5,1118.8 625.0,1119.0 625.5,1119.1 626.0,1119.1 626.5,1119.1 627.0,1119.2 627.5,1119.2 628.0,1119.3 628.5,1119.4 629.0,1119.5 629.5,1119.6 630.0,1119.6 630.5,1119.7 631.0,1119.7 631.5,1119.7 632.0,1119.7 632.5,1119.7 633.0,1119.8 633.5,1119.8 634.0,1119.8 634.5,1119.7 635.0,1119.7 635.5,1119.6 636.0,1119.6 636.5,1119.6 637.0,1119.6 637.5,1119.7 638.0,1119.7 638.5,1119.8 639.0,1119.8 639.5,1119.9 640.0,1120.0 640.5,1120.0 641.0,1120.0 641.5,1120.0 641.8,1119.9 642.5,1119.8 643.0,1119.8 643.5,1119.7 644.0,1119.7 644.5,1119.7 645.0,1119.6 645.5,1119.6 646.0,1119.5 646.5,1119.4 647.0,1119.4 647.5,1119.5 648.0,1119.6 648.5,1119.7 649.0,1119.8 649.5,1119.8 650.1,1119.8 650.5,1119.8 651.0,1119.7 651.5,1119.7 652.0,1119.8 652.5,1119.8 653.0,1119.8 653.5,1119.9 654.0,1119.9 654.5,1119.8 655.0,1119.8 655.5,1119.7 656.0,1119.6 656.5,1119.5 657.0,1119.3 657.5,1119.0 658.0,1118.7 658.5,1118.4 659.0,1118.0 659.5,1117.5 660.0,1117.2 660.7,1116.9 661.0,1117.0 661.5,1117.2 662.0,1117.6 662.5,1118.0 663.0,1118.4 663.5,1118.8 664.0,1119.1 664.5,1119.3 665.0,1119.4 665.5,1119.5 666.0,1119.5 666.5,1119.5 667.0,1119.5 667.5,1119.5 668.0,1119.5 668.5,1119.5 669.0,1119.5 669.5,1119.5 670.0,1119.5 670.5,1119.6 671.0,1119.6 671.5,1119.7 672.0,1119.7 672.5,1119.7 673.0,1119.6 673.5,1119.6 674.0,1119.5 674.5,1119.5 675.0,1119.6 675.5,1119.6 676.0,1119.6 676.5,1119.6 677.0,1119.6 677.5,1119.5 678.0,1119.5 678.5,1119.5 679.0,1119.4 679.5,1119.4 680.0,1119.3 680.5,1119.3 681.0,1119.3 681.5,1119.3 682.0,1119.3 682.5,1119.3 683.0,1119.3 683.5,1119.3 684.0,1119.2 684.5,1119.1 685.0,1118.8 685.5,1118.5 686.0,1118.0 686.5,1117.6 687.0,1117.1 687.5,1116.6 688.0,1116.0 688.5,1115.5 689.0,1115.0 689.5,1114.7 689.8,1114.6 690.5,1114.8 691.0,1115.2 691.5,1115.7 692.0,1116.2 692.5,1116.7 693.0,1117.3 693.5,1117.8 694.0,1118.2 694.5,1118.6 695.0,1118.9 695.5,1119.1 696.0,1119.2 696.5,1119.3 697.0,1119.3 697.5,1119.4 698.0,1119.4 698.5,1119.4 699.0,1119.3 699.5,1119.3 700.0,1119.3 700.5,1119.3 701.0,1119.3 701.5,1119.2 702.0,1119.1 702.5,1119.0 703.0,1118.8 703.5,1118.5 704.0,1118.3 704.5,1118.2 705.0,1118.3 705.5,1118.5 706.0,1118.7 706.5,1118.9 707.0,1119.1 707.5,1119.2 708.0,1119.3 708.5,1119.4 709.0,1119.3 709.5,1119.2 710.0,1118.9 710.5,1118.7 711.0,1118.4 711.5,1118.3 712.0,1118.5 712.5,1118.7 713.0,1119.0 713.5,1119.1 714.0,1119.2 714.5,1119.3 715.0,1119.3 715.5,1119.3 716.0,1119.3 716.5,1119.2 717.0,1119.2 717.5,1119.1 718.0,1119.0 718.5,1118.9 719.0,1118.8 719.5,1118.7 720.0,1118.6 720.5,1118.4 721.0,1118.2 721.5,1117.9 722.0,1117.5 722.5,1116.7 723.0,1115.5 723.5,1113.3 724.0,1109.7 724.5,1104.3 725.0,1097.3 725.7,1090.9 726.0,1092.0 726.5,1097.9 727.0,1104.7 727.5,1109.9 728.0,1113.2 728.5,1115.1 729.0,1116.3 729.5,1117.0 730.0,1117.4 730.5,1117.7 731.0,1117.9 731.5,1117.9 732.0,1117.9 732.5,1117.8 733.0,1117.8 733.5,1117.7 734.0,1117.7 734.5,1117.8 735.0,1117.9 735.5,1118.1 736.0,1118.4 736.5,1118.6 737.0,1118.8 737.5,1118.9 738.0,1119.0 738.5,1119.0 739.0,1118.9 739.5,1118.8 740.0,1118.6 740.5,1118.5 741.1,1118.5 741.5,1118.6 742.0,1118.9 742.5,1119.1 743.0,1119.4 743.5,1119.5 744.0,1119.6 744.5,1119.6 745.0,1119.5 745.5,1119.5 746.0,1119.4 746.5,1119.4 747.0,1119.3 747.5,1119.3 748.0,1119.3 748.5,1119.2 749.0,1119.1 749.5,1119.1 750.0,1119.0 750.5,1118.9 751.0,1118.7 751.5,1118.5 752.0,1118.2 752.5,1117.8 753.0,1117.3 753.5,1116.7 754.0,1116.0 754.7,1115.6 755.0,1115.6 755.5,1115.9 756.0,1116.3 756.5,1116.9 757.0,1117.4 757.5,1117.7 758.0,1118.0 758.5,1118.2 759.0,1118.2 759.5,1118.1 760.0,1117.8 760.5,1117.2 761.0,1116.3 761.5,1115.0 762.0,1113.5 762.5,1111.8 763.0,1110.3 763.5,1109.6 764.0,1110.1 764.5,1111.4 765.0,1113.2 765.5,1114.8 766.0,1116.0 766.5,1116.9 767.0,1117.3 767.5,1117.4 768.0,1117.2 768.5,1116.7 769.0,1116.0 769.5,1115.1 770.0,1114.1 770.5,1113.2 771.2,1112.5 771.5,1112.6 772.0,1113.3 772.5,1114.3 773.0,1115.3 773.5,1116.4 774.0,1117.3 774.5,1118.0 775.0,1118.4 775.5,1118.7 776.0,1118.8 776.5,1118.9 777.0,1119.0 777.5,1119.2 778.0,1119.3 778.5,1119.4 779.0,1119.5 779.5,1119.5 780.0,1119.5 780.5,1119.5 781.0,1119.4 781.5,1119.4 782.0,1119.3 782.5,1119.2 783.0,1119.1 783.5,1119.0 784.0,1118.9 784.5,1118.8 785.0,1118.7 785.5,1118.6 786.0,1118.5 786.5,1118.3 787.0,1118.2 787.5,1118.0 788.0,1117.8 788.5,1117.5 789.0,1117.3 789.5,1117.0 790.0,1116.8 790.7,1116.6 791.0,1116.6 791.5,1116.7 792.0,1116.9 792.5,1117.2 793.0,1117.6 793.5,1117.9 794.0,1118.3 794.5,1118.6 795.0,1118.8 795.5,1119.0 796.0,1119.1 796.5,1119.2 797.0,1119.2 797.5,1119.3 798.0,1119.4 798.5,1119.5 799.0,1119.5 799.5,1119.5 800.0,1119.5 800.5,1119.6 801.0,1119.6 801.5,1119.6 802.0,1119.6 802.5,1119.7 803.0,1119.7 803.5,1119.8 804.0,1119.9 804.5,1120.0 805.0,1120.0 805.5,1120.0 806.0,1120.0 806.5,1119.9 807.0,1119.8 807.5,1119.7 808.0,1119.7 808.5,1119.7 809.0,1119.8 809.5,1119.9 810.0,1119.9 810.5,1119.9 811.0,1119.8 811.5,1119.7 812.0,1119.6 812.5,1119.5 813.0,1119.4 813.5,1119.3 814.0,1119.3 814.5,1119.2 815.0,1119.1 815.5,1119.0 816.0,1118.9 816.5,1118.8 817.0,1118.6 817.5,1118.4 818.0,1118.2 818.5,1118.0 819.1,1118.0 819.5,1118.0 820.0,1118.1 820.5,1118.3 821.0,1118.5 821.5,1118.7 822.0,1118.9 822.5,1119.1 823.0,1119.2 823.5,1119.4 824.0,1119.5 824.5,1119.6 825.0,1119.7 825.5,1119.8 826.0,1119.8 826.5,1119.9 827.0,1119.9 827.5,1120.0 828.0,1120.0 828.5,1120.0 829.0,1120.0 829.5,1119.8 830.0,1119.7 830.5,1119.6 831.0,1119.5 831.5,1119.5 832.0,1119.5 832.5,1119.5 833.0,1119.4 833.5,1119.3 834.0,1119.2 834.5,1119.0 835.0,1118.8 835.5,1118.7 836.0,1118.6 836.5,1118.5 836.8,1118.5 837.5,1118.5 838.0,1118.6 838.5,1118.8 839.0,1119.0 839.5,1119.1 840.0,1119.3 840.5,1119.4 841.0,1119.4 841.5,1119.5 842.0,1119.5 842.5,1119.6 843.0,1119.6 843.5,1119.7 844.0,1119.7 844.5,1119.7 845.0,1119.7 845.5,1119.8 846.0,1119.8 846.5,1119.8 847.0,1119.9 847.5,1119.9 848.0,1119.9 848.5,1119.9 849.0,1119.8 849.5,1119.8 850.0,1119.7 850.5,1119.7 851.0,1119.7 851.5,1119.7 852.0,1119.8 852.5,1119.8 853.0,1119.8 853.5,1119.7 854.0,1119.5 854.5,1119.3 855.0,1119.0 855.5,1118.7 856.0,1118.3 856.5,1118.0 857.0,1117.7 857.5,1117.5 858.1,1117.5 858.5,1117.7 859.0,1118.0 859.5,1118.2 860.0,1118.5 860.5,1118.7 861.0,1118.8 861.5,1119.0 862.0,1119.2 862.5,1119.4 863.0,1119.6 863.5,1119.8 864.0,1120.0 864.5,1120.1 865.0,1120.2 865.5,1120.2 866.0,1120.2 866.5,1120.2 867.0,1120.1 867.5,1120.0 868.0,1119.8 868.5,1119.7 869.0,1119.5 869.5,1119.3 870.0,1119.1 870.5,1118.9 871.0,1118.8 871.5,1118.6 872.0,1118.4 872.5,1118.3 873.0,1118.1 873.5,1118.1 874.0,1118.1 874.5,1118.2 875.0,1118.4 875.5,1118.5 876.0,1118.8 876.5,1119.0 877.0,1119.3 877.5,1119.5 878.0,1119.7 878.5,1119.8 879.0,1119.9 879.5,1119.9 880.0,1119.9 880.5,1119.9 881.0,1119.9 881.5,1119.9 882.0,1119.9 882.5,1119.9 883.0,1119.9 883.5,1119.9 884.0,1120.0 884.5,1120.0 885.0,1120.0 885.5,1120.1 886.0,1120.1 886.5,1120.2 887.0,1120.2 887.5,1120.3 888.0,1120.2 888.5,1120.1 889.0,1120.0 889.5,1120.0 890.0,1119.9 890.5,1119.9 891.0,1119.9 891.5,1120.0 892.0,1120.0 892.5,1120.0 893.0,1120.0 893.5,1120.0 894.0,1120.0 894.5,1120.0 895.0,1120.0 895.5,1119.9 896.0,1119.9 896.5,1119.9 897.0,1119.9 897.5,1119.9 898.0,1119.8 898.5,1119.7 899.0,1119.6 899.5,1119.5 900.0,1119.3 900.5,1119.1 901.0,1118.8 901.5,1118.4 902.0,1118.0 902.5,1117.5 903.0,1117.1 903.5,1116.8 904.2,1116.6 904.5,1116.6 905.0,1116.8 905.5,1117.1 906.0,1117.6 906.5,1118.1 907.0,1118.5 907.5,1118.9 908.0,1119.2 908.5,1119.4 909.0,1119.5 909.5,1119.5 910.0,1119.5 910.5,1119.5 911.0,1119.4 911.5,1119.4 912.0,1119.2 912.5,1119.1 913.0,1119.0 913.7,1118.9 914.0,1119.0 914.5,1119.1 915.0,1119.3 915.5,1119.5 916.0,1119.7 916.5,1119.8 917.0,1120.0 917.5,1120.1 918.0,1120.1 918.5,1120.1 919.0,1120.1 919.5,1120.0 920.0,1119.9 920.5,1119.9 921.0,1119.9 921.5,1119.9 922.0,1120.0 922.5,1120.0 923.0,1120.1 923.5,1120.1 924.0,1120.1 924.5,1120.1 925.0,1120.1 925.5,1120.1 926.0,1120.0 926.5,1119.9 927.0,1119.8 927.5,1119.8 928.0,1119.8 928.5,1119.7 929.0,1119.7 929.5,1119.7 930.0,1119.6 930.5,1119.5 931.0,1119.3 931.5,1119.2 932.0,1119.2 932.6,1119.3 933.0,1119.4 933.5,1119.6 934.0,1119.8 934.5,1120.0 935.0,1120.1 935.5,1120.2 936.0,1120.2 936.5,1120.2 937.0,1120.2 937.5,1120.2 938.0,1120.2 938.5,1120.2 939.0,1120.2 939.5,1120.2 940.0,1120.2 940.5,1120.2 941.0,1120.3 941.5,1120.4 942.0,1120.4 942.5,1120.4 943.0,1120.3 943.5,1120.3 944.0,1120.3 944.5,1120.4 945.0,1120.4 945.5,1120.5 946.0,1120.4 946.5,1120.3 947.0,1120.3 947.5,1120.3 948.0,1120.4 948.5,1120.5 949.0,1120.6 949.5,1120.6 950.0,1120.6 950.5,1120.5 951.0,1120.4 951.5,1120.4 952.0,1120.3 952.5,1120.2 953.0,1120.1 953.5,1119.9 954.0,1119.8 954.5,1119.7 955.0,1119.6 955.5,1119.6 956.2,1119.7 956.5,1119.8 957.0,1119.9 957.5,1120.0 958.0,1120.0 958.5,1120.1 959.0,1120.1 959.5,1120.1 960.0,1120.1 960.5,1120.2 961.0,1120.2 961.5,1120.3 962.0,1120.4 962.5,1120.4 963.0,1120.4 963.5,1120.5 964.0,1120.5 964.5,1120.5 965.0,1120.5 965.5,1120.5 966.0,1120.5 966.5,1120.4 967.0,1120.4 967.5,1120.4 968.0,1120.3 968.5,1120.3 969.0,1120.3 969.5,1120.3 970.0,1120.4 970.5,1120.4 971.0,1120.5 971.5,1120.5 972.0,1120.6 972.5,1120.7 973.0,1120.7 973.5,1120.7 974.0,1120.6 974.5,1120.6 975.0,1120.7 975.5,1120.7 976.0,1120.8 976.5,1120.8 977.0,1120.7 977.5,1120.6 978.0,1120.6 978.5,1120.5 979.0,1120.5 979.5,1120.5 980.0,1120.6 980.5,1120.6 981.0,1120.7 981.5,1120.7 982.0,1120.7 982.5,1120.7 983.0,1120.7 983.5,1120.6 984.0,1120.5 984.5,1120.5 985.0,1120.5 985.5,1120.5 986.0,1120.6 986.5,1120.7 987.0,1120.7 987.5,1120.7 988.0,1120.7 988.5,1120.7 989.0,1120.7 989.5,1120.6 990.0,1120.6 990.5,1120.6 991.0,1120.6 991.5,1120.5 992.0,1120.5 992.5,1120.5 993.0,1120.5 993.5,1120.6 994.0,1120.6 994.5,1120.7 995.0,1120.8 995.5,1120.9 996.0,1120.9 996.5,1120.9 997.0,1120.9 997.5,1120.8 998.0,1120.8 998.5,1120.8 999.0,1120.8 999.5,1120.9 1000.0,1120.9 1000.5,1120.9 1001.0,1120.8 1001.5,1120.7 1002.0,1120.7 1002.5,1120.6 1003.0,1120.7 1003.5,1120.7 1004.0,1120.8 1004.5,1120.8 1005.0,1120.9 1005.5,1121.0 1006.0,1121.0 1006.5,1121.0 1007.0,1120.9 1007.5,1120.9 1008.0,1120.9 1008.5,1120.8 1009.0,1120.9 1009.5,1120.9 1010.0,1120.9 1010.5,1120.9 1011.0,1120.9 1011.5,1120.9 1012.0,1120.9 1012.5,1120.9 1013.0,1120.9 1013.5,1120.9 1014.0,1120.9 1014.5,1120.9 1015.0,1120.9 1015.5,1120.9 1016.0,1120.9 1016.5,1121.0 1017.0,1121.0 1017.5,1121.1 1018.0,1121.0 1018.5,1120.9 1019.0,1120.8 1019.5,1120.7 1020.0,1120.7 1020.5,1120.6 1021.0,1120.6 1021.5,1120.6 1022.0,1120.6 1022.5,1120.6 1023.0,1120.6 1023.5,1120.7 1024.0,1120.7 1024.5,1120.7 1025.0,1120.7 1025.5,1120.7 1026.0,1120.7 1026.5,1120.8 1027.0,1120.8 1027.5,1120.9 1028.0,1121.0 1028.5,1120.9 1029.0,1120.9 1029.5,1120.9" fill="none" stroke="#000000" stroke-width="4.4" stroke-linejoin="round" stroke-linecap="butt" clip-path="url(#cc)"/>
<line x1="379.5" y1="639.2" x2="379.5" y2="1136.6" stroke="#000" stroke-width="2.7"/>
<line x1="379.2" y1="1135.0" x2="379.2" y2="1161.4" stroke="#000" stroke-width="2.2"/>
<line x1="378.1" y1="1135.0" x2="1030.8" y2="1135.0" stroke="#000" stroke-width="3.3"/>
<path d="M379.4 1135.0V1145.6M408.9 1135.0V1140.7M438.5 1135.0V1145.6M468.0 1135.0V1140.7M497.6 1135.0V1145.6M527.1 1135.0V1140.7M556.7 1135.0V1145.6M586.2 1135.0V1140.7M615.8 1135.0V1145.6M645.3 1135.0V1140.7M674.9 1135.0V1145.6M704.5 1135.0V1140.7M734.0 1135.0V1145.6M763.5 1135.0V1140.7M793.1 1135.0V1145.6M822.6 1135.0V1140.7M852.2 1135.0V1145.6M881.8 1135.0V1140.7M911.3 1135.0V1145.6M940.9 1135.0V1140.7M970.4 1135.0V1145.6M1000.0 1135.0V1140.7M1029.5 1135.0V1145.6" stroke="#000" stroke-width="2.6" fill="none"/>
<text x="379.4" y="1174.2" font-size="27.8" text-anchor="middle" textLength="14.8" lengthAdjust="spacingAndGlyphs">5</text>
<text x="438.5" y="1174.2" font-size="27.8" text-anchor="middle" textLength="29.7" lengthAdjust="spacingAndGlyphs">10</text>
<text x="497.6" y="1174.2" font-size="27.8" text-anchor="middle" textLength="29.7" lengthAdjust="spacingAndGlyphs">15</text>
<text x="556.7" y="1174.2" font-size="27.8" text-anchor="middle" textLength="29.7" lengthAdjust="spacingAndGlyphs">20</text>
<text x="615.8" y="1174.2" font-size="27.8" text-anchor="middle" textLength="29.7" lengthAdjust="spacingAndGlyphs">25</text>
<text x="674.9" y="1174.2" font-size="27.8" text-anchor="middle" textLength="29.7" lengthAdjust="spacingAndGlyphs">30</text>
<text x="734.0" y="1174.2" font-size="27.8" text-anchor="middle" textLength="29.7" lengthAdjust="spacingAndGlyphs">35</text>
<text x="793.1" y="1174.2" font-size="27.8" text-anchor="middle" textLength="29.7" lengthAdjust="spacingAndGlyphs">40</text>
<text x="852.2" y="1174.2" font-size="27.8" text-anchor="middle" textLength="29.7" lengthAdjust="spacingAndGlyphs">45</text>
<text x="911.3" y="1174.2" font-size="27.8" text-anchor="middle" textLength="29.7" lengthAdjust="spacingAndGlyphs">50</text>
<text x="970.4" y="1174.2" font-size="27.8" text-anchor="middle" textLength="29.7" lengthAdjust="spacingAndGlyphs">55</text>
<text x="1029.5" y="1174.2" font-size="27.8" text-anchor="middle" textLength="29.7" lengthAdjust="spacingAndGlyphs">60</text>
<text transform="translate(358.5 992.8) rotate(-90)" font-size="41.2" textLength="203.5" lengthAdjust="spacingAndGlyphs">Intensity cts</text>
<text x="554.3" y="1214.2" font-size="39.4" textLength="294.4" lengthAdjust="spacingAndGlyphs">2 Theta (degree)</text>
<rect x="322" y="629.2" width="53.9" height="75.8" fill="#DDD9C4"/>
<text x="343.6" y="680" font-size="38" text-anchor="middle" textLength="17.2" lengthAdjust="spacingAndGlyphs">c</text>
<rect x="1029.5" y="739.8" width="131.2" height="250.3" fill="#fff" stroke="#3a3a3a" stroke-width="1"/>
<line x1="1036.8" y1="769.7" x2="1085.5" y2="769.7" stroke="#7F00FF" stroke-width="3.7"/>
<text x="1092.9" y="776.6" font-size="26.6" font-weight="bold" textLength="32.6" lengthAdjust="spacingAndGlyphs">F9</text>
<line x1="1036.8" y1="804.2" x2="1085.5" y2="804.2" stroke="#000080" stroke-width="3.7"/>
<text x="1092.9" y="811.1" font-size="26.6" font-weight="bold" textLength="32.6" lengthAdjust="spacingAndGlyphs">F8</text>
<line x1="1036.8" y1="838.7" x2="1085.5" y2="838.7" stroke="#008000" stroke-width="3.7"/>
<text x="1092.9" y="845.6" font-size="26.6" font-weight="bold" textLength="32.6" lengthAdjust="spacingAndGlyphs">F7</text>
<line x1="1036.8" y1="873.2" x2="1085.5" y2="873.2" stroke="#FF00FF" stroke-width="3.7"/>
<text x="1092.9" y="880.1" font-size="26.6" font-weight="bold" textLength="32.6" lengthAdjust="spacingAndGlyphs">F5</text>
<line x1="1036.8" y1="907.7" x2="1085.5" y2="907.7" stroke="#0000FF" stroke-width="3.7"/>
<text x="1092.9" y="914.6" font-size="26.6" font-weight="bold" textLength="32.6" lengthAdjust="spacingAndGlyphs">F2</text>
<line x1="1036.8" y1="942.2" x2="1085.5" y2="942.2" stroke="#FF0000" stroke-width="3.7"/>
<text x="1092.9" y="949.1" font-size="26.6" font-weight="bold" textLength="32.6" lengthAdjust="spacingAndGlyphs">F1</text>
<line x1="1036.8" y1="976.7" x2="1085.5" y2="976.7" stroke="#000000" stroke-width="3.7"/>
<text x="1092.9" y="983.6" font-size="26.6" font-weight="bold" textLength="65.5" lengthAdjust="spacingAndGlyphs">Drug</text>
</svg>
</body></html>
